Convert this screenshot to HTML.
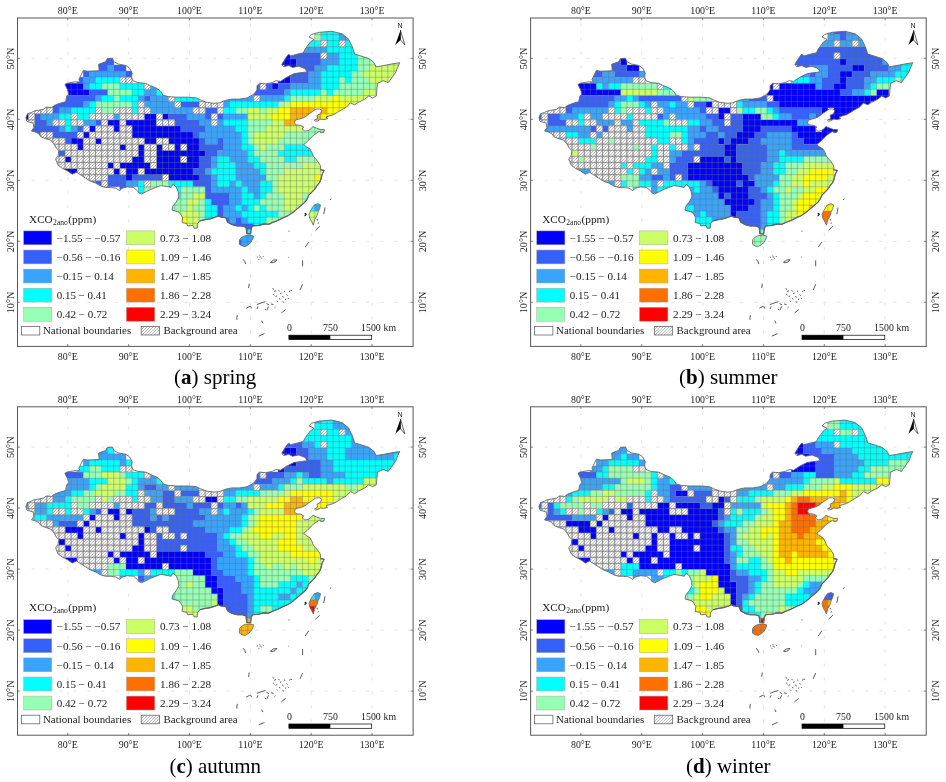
<!DOCTYPE html>
<html lang="en"><head><meta charset="utf-8"><title>XCO2 anomaly seasonal maps</title>
<style>html,body{margin:0;padding:0;background:#fff}body{width:946px;height:782px;overflow:hidden}svg{display:block}text{font-family:'Liberation Serif','DejaVu Serif',serif;fill:#1a1a1a}.cap{fill:#000}</style></head><body>
<svg width="946" height="782" viewBox="0 0 946 782">
<defs>
<pattern id="hatch" width="3" height="3" patternUnits="userSpaceOnUse"><rect width="3" height="3" fill="#fff"/><path d="M-.5 .5L.5 -.5M-.5 3.5L3.5 -.5M2.5 3.5L3.5 2.5" stroke="#3c3c3c" stroke-width=".4"/></pattern>
<clipPath id="china"><polygon points="25.9,117.5 27.5,113.7 31.3,112.5 34.5,110.9 38.9,110.2 43.4,109.3 46.5,107.1 51.6,107.6 54.2,105.5 59.9,103.3 65.6,101.7 66.8,96 68.7,94.1 67.5,89.6 64.9,84.5 66.8,83.3 75.1,81.8 80.2,82 78.9,79.5 81.4,74.4 83.3,70.3 87.1,71.2 99.2,70.8 98.6,64.3 105.5,61.7 107.4,58.5 112.5,58.2 113.8,61.7 118.2,64 125.8,65.5 129.6,68.1 132.2,73.1 131.5,76.9 132.8,80.7 138,82.6 138,82.6 145.6,83.3 150.7,85.8 157,88.4 160.2,90.9 163.4,95.3 168.4,96.6 176.1,97.2 188.7,97.2 196.4,97.9 200.2,99.8 206.5,102.3 214.1,103.3 219.2,102.9 225.5,100.4 231.9,99.1 239.5,99.1 247.1,97.9 252,95.3 255.1,92.8 257,89.6 257,85.8 259.6,83.3 265.3,83.9 272.3,82.6 276.1,80.7 280.5,81.4 286.2,77.6 293.8,73.8 297.6,73.1 307.1,71.9 305.2,68.7 298.9,66.2 292.5,67.4 288.7,65.5 283.7,66.8 281.8,64.3 286.2,57.3 288.7,54.1 290.6,56 297.6,54.1 303.3,52.8 305.2,49 310.3,42.1 314.1,39.5 309,37 311.6,34.4 319.2,32.3 331.9,31.3 342,33.8 348.4,38.9 352.2,46.5 354.7,54.1 361,56 368.7,58.5 373.7,62.3 376.3,66.8 383.9,65.5 391.5,64 399.7,62.7 397.8,66.8 395.9,71.9 391.5,78.2 388.3,82.6 383.2,80.7 377.5,83.3 376.9,89.6 376.3,96 372.5,97.9 368.7,96 364.8,99.1 358.5,102.3 354.7,104.8 350.3,102.9 346.1,107.4 341.9,109.6 337.7,112.2 333.4,114.8 329.2,115.9 326,117 327.6,118.5 323.9,119.6 320.7,119.1 318.1,120.7 315.5,121.2 314.4,120.1 317.6,118.5 317,115.4 320.2,113.8 321.8,110.6 319.7,109 316,109 312.3,111.7 309.1,113.8 305.9,116.4 302.8,118 298.5,119.1 295.4,120.1 294.3,122.8 295.9,124.9 300.7,125.4 303.8,127 302.2,129.1 304.9,131.2 308.1,130.7 311.2,128.6 312.8,126.5 316.5,128.1 320.7,129.6 324.4,129.6 323.9,132.3 320.7,132.8 319.7,131.2 316.5,133.3 313.3,135.5 310.7,138.1 307,141.8 303.8,144.4 305.9,146.6 309.6,148.7 311.8,152.4 313.3,156.1 315.5,158.7 318.1,161.9 320.2,165.1 320.7,168.8 320.3,169.8 324.1,170.4 322.2,174.2 320.9,179.3 319.6,182.5 317.1,185.6 314.5,189.4 312,192 308.8,195.1 306.9,199.6 304.4,202.7 300.6,205.9 296.8,209.1 293,212.3 288.5,215.4 282.8,218 277.8,220.5 272.7,222.4 268.9,224.3 263.9,224.1 258.8,225.4 252.5,226 251.2,228.5 250.6,234 246.7,233.6 246.1,227.3 242.3,226 237.2,226 232.2,224.7 227.7,222.2 225.8,217.8 220.7,217.1 218.2,215.9 215.7,217.1 210.6,218.8 204.9,219.7 199.8,220.9 197.3,224.1 197.3,228.2 194.1,228.2 192.8,225.4 187.8,226 186.5,223.5 182.1,222.6 182.7,217.8 180.8,214.6 178.9,212.1 171.9,210.1 172.9,205.9 176.1,202.1 178.8,197 178.3,192 176.1,186.9 172.9,184.1 171.2,187.5 167.2,186.6 160.8,185.6 155.8,187.5 150.7,189.4 145.6,192 141.8,193.9 139.3,193.2 137.4,190.7 133.6,187.5 127.3,186.9 122.2,188.2 119.7,190.7 115.9,188.2 110.8,187.5 105.7,187.5 101.3,186.3 95.6,183.1 90.5,181.2 85.4,178 81.6,175.5 76.5,172.3 72.1,174.2 67.7,171 62.6,168.5 58.2,165.3 56.9,162.2 55.6,159.2 58.2,155.2 58.8,150.7 56.3,148.2 53.7,143.8 50.5,140 45.5,138.7 41,136.8 38.5,133.6 34.7,131.7 31.5,131.1 33.9,127.6 33.9,127.7 33.2,123.2 26.9,121.3"/></clipPath>
<clipPath id="tw"><polygon points="314.2,205 317.9,203.6 320.5,205 319.6,208.8 318.2,211.6 317,215.7 314.7,219.7 313.3,225.2 311.9,222 309.6,218 309,214.5 310.4,211.1 312.4,207.6"/></clipPath>
<clipPath id="hn"><polygon points="239.4,239.7 242.3,236.9 245.7,235.4 249.7,235.1 253.5,236 253.2,238 250.9,242.6 248,244.9 245.1,246.6 242.3,246.1 239.4,244.3"/></clipPath>
</defs>
<rect width="946" height="782" fill="#fff"/>
<g transform="translate(0 0)">
<path d="M67.8 18V346.4M128.65 18V346.4M189.5 18V346.4M250.35 18V346.4M311.2 18V346.4M372.05 18V346.4" stroke="#dadada" stroke-width=".8" stroke-dasharray="3.2 10.75" stroke-dashoffset="8.4" fill="none"/>
<path d="M17.5 58.3H413.1M17.5 119.3H413.1M17.5 180.3H413.1M17.5 241.3H413.1M17.5 302.3H413.1" stroke="#dadada" stroke-width=".8" stroke-dasharray="3.2 10.75" stroke-dashoffset="0" fill="none"/>
<g clip-path="url(#china)">
<path d="M284.25 52.78h6.19v6.19h-6.19zM278.16 58.87h18.37v6.19h-18.37zM284.25 64.96h12.28v6.19h-12.28zM284.25 71.05h6.19v6.19h-6.19zM278.16 77.14h12.28v6.19h-12.28zM65.01 83.23h18.37v6.19h-18.37zM272.07 83.23h6.19v6.19h-6.19zM65.01 89.32h24.46v6.19h-24.46zM22.38 113.68h6.19v6.19h-6.19zM144.18 113.68h12.28v6.19h-12.28zM162.45 113.68h6.19v6.19h-6.19zM107.64 119.77h12.28v6.19h-12.28zM125.91 119.77h30.55v6.19h-30.55zM89.37 125.86h6.19v6.19h-6.19zM113.73 125.86h6.19v6.19h-6.19zM132 125.86h48.82v6.19h-48.82zM83.28 131.95h6.19v6.19h-6.19zM132 131.95h61v6.19h-61zM71.1 138.04h12.28v6.19h-12.28zM95.46 138.04h6.19v6.19h-6.19zM144.18 138.04h12.28v6.19h-12.28zM168.54 138.04h30.55v6.19h-30.55zM77.19 144.13h6.19v6.19h-6.19zM119.82 144.13h6.19v6.19h-6.19zM138.09 144.13h6.19v6.19h-6.19zM156.36 144.13h6.19v6.19h-6.19zM174.63 144.13h6.19v6.19h-6.19zM186.81 144.13h12.28v6.19h-12.28zM138.09 150.22h6.19v6.19h-6.19zM156.36 150.22h48.82v6.19h-48.82zM65.01 156.31h6.19v6.19h-6.19zM132 156.31h12.28v6.19h-12.28zM156.36 156.31h24.46v6.19h-24.46zM186.81 156.31h12.28v6.19h-12.28zM107.64 162.4h6.19v6.19h-6.19zM119.82 162.4h30.55v6.19h-30.55zM156.36 162.4h42.73v6.19h-42.73zM65.01 168.49h12.28v6.19h-12.28zM113.73 168.49h6.19v6.19h-6.19zM125.91 168.49h12.28v6.19h-12.28zM144.18 168.49h48.82v6.19h-48.82zM125.91 174.58h6.19v6.19h-6.19zM168.54 174.58h30.55v6.19h-30.55z" fill="#0000fe"/>
<path d="M107.64 52.78h6.19v6.19h-6.19zM290.34 52.78h30.55v6.19h-30.55zM95.46 58.87h18.37v6.19h-18.37zM296.43 58.87h24.46v6.19h-24.46zM95.46 64.96h12.28v6.19h-12.28zM113.73 64.96h12.28v6.19h-12.28zM296.43 64.96h18.37v6.19h-18.37zM83.28 71.05h6.19v6.19h-6.19zM125.91 71.05h6.19v6.19h-6.19zM290.34 71.05h18.37v6.19h-18.37zM77.19 77.14h6.19v6.19h-6.19zM290.34 77.14h18.37v6.19h-18.37zM253.8 83.23h6.19v6.19h-6.19zM265.98 83.23h6.19v6.19h-6.19zM278.16 83.23h12.28v6.19h-12.28zM89.37 89.32h18.37v6.19h-18.37zM253.8 89.32h30.55v6.19h-30.55zM65.01 95.41h30.55v6.19h-30.55zM144.18 95.41h6.19v6.19h-6.19zM52.83 101.5h30.55v6.19h-30.55zM180.72 101.5h18.37v6.19h-18.37zM52.83 107.59h6.19v6.19h-6.19zM205.08 107.59h12.28v6.19h-12.28zM34.56 113.68h6.19v6.19h-6.19zM168.54 113.68h18.37v6.19h-18.37zM205.08 113.68h6.19v6.19h-6.19zM217.26 113.68h6.19v6.19h-6.19zM34.56 119.77h12.28v6.19h-12.28zM95.46 119.77h6.19v6.19h-6.19zM174.63 119.77h24.46v6.19h-24.46zM28.47 125.86h30.55v6.19h-30.55zM77.19 125.86h6.19v6.19h-6.19zM180.72 125.86h24.46v6.19h-24.46zM34.56 131.95h6.19v6.19h-6.19zM52.83 131.95h24.46v6.19h-24.46zM192.9 131.95h6.19v6.19h-6.19zM65.01 138.04h6.19v6.19h-6.19zM198.99 138.04h6.19v6.19h-6.19zM217.26 138.04h6.19v6.19h-6.19zM198.99 144.13h24.46v6.19h-24.46zM58.92 150.22h6.19v6.19h-6.19zM205.08 150.22h12.28v6.19h-12.28zM198.99 156.31h12.28v6.19h-12.28zM198.99 162.4h12.28v6.19h-12.28zM192.9 168.49h12.28v6.19h-12.28zM107.64 174.58h18.37v6.19h-18.37zM132 174.58h30.55v6.19h-30.55zM198.99 174.58h12.28v6.19h-12.28zM95.46 180.67h6.19v6.19h-6.19zM107.64 180.67h18.37v6.19h-18.37zM192.9 180.67h18.37v6.19h-18.37zM119.82 186.76h6.19v6.19h-6.19zM205.08 186.76h6.19v6.19h-6.19zM205.08 192.85h24.46v6.19h-24.46zM211.17 198.94h18.37v6.19h-18.37zM217.26 205.03h6.19v6.19h-6.19zM217.26 211.12h6.19v6.19h-6.19zM217.26 217.21h12.28v6.19h-12.28zM235.53 217.21h6.19v6.19h-6.19zM229.44 223.3h24.46v6.19h-24.46zM241.62 229.39h6.19v6.19h-6.19z" fill="#3560fc"/>
<path d="M339.06 28.42h6.19v6.19h-6.19zM339.06 34.51h12.28v6.19h-12.28zM302.52 46.69h24.46v6.19h-24.46zM326.88 52.78h12.28v6.19h-12.28zM320.79 58.87h18.37v6.19h-18.37zM107.64 64.96h6.19v6.19h-6.19zM314.7 64.96h12.28v6.19h-12.28zM89.37 71.05h36.64v6.19h-36.64zM308.61 71.05h12.28v6.19h-12.28zM83.28 77.14h12.28v6.19h-12.28zM308.61 77.14h12.28v6.19h-12.28zM83.28 83.23h6.19v6.19h-6.19zM150.27 83.23h12.28v6.19h-12.28zM290.34 83.23h30.55v6.19h-30.55zM144.18 89.32h12.28v6.19h-12.28zM284.25 89.32h6.19v6.19h-6.19zM95.46 95.41h6.19v6.19h-6.19zM138.09 95.41h6.19v6.19h-6.19zM150.27 95.41h18.37v6.19h-18.37zM223.35 95.41h30.55v6.19h-30.55zM259.89 95.41h24.46v6.19h-24.46zM83.28 101.5h6.19v6.19h-6.19zM144.18 101.5h30.55v6.19h-30.55zM223.35 101.5h6.19v6.19h-6.19zM58.92 107.59h12.28v6.19h-12.28zM150.27 107.59h42.73v6.19h-42.73zM40.65 113.68h18.37v6.19h-18.37zM113.73 113.68h6.19v6.19h-6.19zM186.81 113.68h18.37v6.19h-18.37zM223.35 113.68h24.46v6.19h-24.46zM46.74 119.77h6.19v6.19h-6.19zM83.28 119.77h12.28v6.19h-12.28zM198.99 119.77h12.28v6.19h-12.28zM217.26 119.77h6.19v6.19h-6.19zM58.92 125.86h6.19v6.19h-6.19zM71.1 125.86h6.19v6.19h-6.19zM205.08 125.86h30.55v6.19h-30.55zM198.99 131.95h42.73v6.19h-42.73zM205.08 138.04h12.28v6.19h-12.28zM223.35 138.04h18.37v6.19h-18.37zM223.35 144.13h18.37v6.19h-18.37zM217.26 150.22h30.55v6.19h-30.55zM211.17 156.31h6.19v6.19h-6.19zM229.44 156.31h18.37v6.19h-18.37zM211.17 162.4h6.19v6.19h-6.19zM235.53 162.4h18.37v6.19h-18.37zM205.08 168.49h6.19v6.19h-6.19zM235.53 168.49h24.46v6.19h-24.46zM211.17 174.58h6.19v6.19h-6.19zM235.53 174.58h30.55v6.19h-30.55zM89.37 180.67h6.19v6.19h-6.19zM125.91 180.67h12.28v6.19h-12.28zM211.17 180.67h6.19v6.19h-6.19zM229.44 180.67h6.19v6.19h-6.19zM241.62 180.67h18.37v6.19h-18.37zM211.17 186.76h30.55v6.19h-30.55zM247.71 186.76h12.28v6.19h-12.28zM229.44 192.85h12.28v6.19h-12.28zM253.8 192.85h6.19v6.19h-6.19zM229.44 198.94h12.28v6.19h-12.28zM223.35 205.03h12.28v6.19h-12.28zM241.62 205.03h6.19v6.19h-6.19zM223.35 211.12h18.37v6.19h-18.37zM229.44 217.21h6.19v6.19h-6.19zM241.62 217.21h6.19v6.19h-6.19z" fill="#38a4fd"/>
<path d="M320.79 28.42h18.37v6.19h-18.37zM320.79 34.51h18.37v6.19h-18.37zM308.61 40.6h12.28v6.19h-12.28zM326.88 40.6h12.28v6.19h-12.28zM345.15 40.6h6.19v6.19h-6.19zM326.88 46.69h30.55v6.19h-30.55zM339.06 52.78h18.37v6.19h-18.37zM339.06 58.87h18.37v6.19h-18.37zM326.88 64.96h30.55v6.19h-30.55zM320.79 71.05h30.55v6.19h-30.55zM95.46 77.14h24.46v6.19h-24.46zM320.79 77.14h18.37v6.19h-18.37zM345.15 77.14h6.19v6.19h-6.19zM89.37 83.23h12.28v6.19h-12.28zM119.82 83.23h24.46v6.19h-24.46zM320.79 83.23h18.37v6.19h-18.37zM132 89.32h12.28v6.19h-12.28zM156.36 89.32h12.28v6.19h-12.28zM290.34 89.32h30.55v6.19h-30.55zM326.88 89.32h6.19v6.19h-6.19zM101.55 95.41h12.28v6.19h-12.28zM119.82 95.41h18.37v6.19h-18.37zM174.63 95.41h24.46v6.19h-24.46zM284.25 95.41h6.19v6.19h-6.19zM89.37 101.5h6.19v6.19h-6.19zM132 101.5h6.19v6.19h-6.19zM229.44 101.5h48.82v6.19h-48.82zM71.1 107.59h24.46v6.19h-24.46zM132 107.59h6.19v6.19h-6.19zM223.35 107.59h12.28v6.19h-12.28zM58.92 113.68h12.28v6.19h-12.28zM77.19 113.68h12.28v6.19h-12.28zM65.01 119.77h6.19v6.19h-6.19zM223.35 119.77h24.46v6.19h-24.46zM65.01 125.86h6.19v6.19h-6.19zM235.53 125.86h12.28v6.19h-12.28zM241.62 131.95h6.19v6.19h-6.19zM241.62 138.04h6.19v6.19h-6.19zM241.62 144.13h12.28v6.19h-12.28zM284.25 144.13h30.55v6.19h-30.55zM247.71 150.22h6.19v6.19h-6.19zM278.16 150.22h36.64v6.19h-36.64zM217.26 156.31h12.28v6.19h-12.28zM247.71 156.31h12.28v6.19h-12.28zM284.25 156.31h12.28v6.19h-12.28zM217.26 162.4h18.37v6.19h-18.37zM253.8 162.4h12.28v6.19h-12.28zM211.17 168.49h24.46v6.19h-24.46zM259.89 168.49h6.19v6.19h-6.19zM217.26 174.58h18.37v6.19h-18.37zM138.09 180.67h6.19v6.19h-6.19zM168.54 180.67h24.46v6.19h-24.46zM217.26 180.67h12.28v6.19h-12.28zM235.53 180.67h6.19v6.19h-6.19zM259.89 180.67h12.28v6.19h-12.28zM138.09 186.76h6.19v6.19h-6.19zM174.63 186.76h6.19v6.19h-6.19zM241.62 186.76h6.19v6.19h-6.19zM259.89 186.76h12.28v6.19h-12.28zM174.63 192.85h6.19v6.19h-6.19zM241.62 192.85h12.28v6.19h-12.28zM259.89 192.85h6.19v6.19h-6.19zM205.08 198.94h6.19v6.19h-6.19zM241.62 198.94h18.37v6.19h-18.37zM205.08 205.03h12.28v6.19h-12.28zM235.53 205.03h6.19v6.19h-6.19zM247.71 205.03h6.19v6.19h-6.19zM259.89 205.03h6.19v6.19h-6.19zM205.08 211.12h12.28v6.19h-12.28zM241.62 211.12h36.64v6.19h-36.64zM205.08 217.21h12.28v6.19h-12.28zM247.71 217.21h18.37v6.19h-18.37zM253.8 223.3h12.28v6.19h-12.28zM247.71 229.39h6.19v6.19h-6.19z" fill="#00ffff"/>
<path d="M314.7 28.42h6.19v6.19h-6.19zM314.7 34.51h6.19v6.19h-6.19zM357.33 52.78h12.28v6.19h-12.28zM357.33 58.87h18.37v6.19h-18.37zM357.33 64.96h12.28v6.19h-12.28zM351.24 71.05h12.28v6.19h-12.28zM339.06 77.14h6.19v6.19h-6.19zM351.24 77.14h18.37v6.19h-18.37zM101.55 83.23h18.37v6.19h-18.37zM339.06 83.23h36.64v6.19h-36.64zM107.64 89.32h24.46v6.19h-24.46zM320.79 89.32h6.19v6.19h-6.19zM332.97 89.32h30.55v6.19h-30.55zM113.73 95.41h6.19v6.19h-6.19zM290.34 95.41h24.46v6.19h-24.46zM95.46 101.5h36.64v6.19h-36.64zM278.16 101.5h6.19v6.19h-6.19zM101.55 107.59h12.28v6.19h-12.28zM235.53 107.59h12.28v6.19h-12.28zM259.89 107.59h6.19v6.19h-6.19zM247.71 119.77h24.46v6.19h-24.46zM247.71 125.86h18.37v6.19h-18.37zM308.61 125.86h18.37v6.19h-18.37zM247.71 131.95h6.19v6.19h-6.19zM284.25 131.95h36.64v6.19h-36.64zM247.71 138.04h6.19v6.19h-6.19zM278.16 138.04h36.64v6.19h-36.64zM253.8 144.13h6.19v6.19h-6.19zM265.98 144.13h18.37v6.19h-18.37zM253.8 150.22h24.46v6.19h-24.46zM259.89 156.31h24.46v6.19h-24.46zM296.43 156.31h24.46v6.19h-24.46zM265.98 162.4h36.64v6.19h-36.64zM265.98 168.49h18.37v6.19h-18.37zM265.98 174.58h12.28v6.19h-12.28zM150.27 180.67h18.37v6.19h-18.37zM272.07 180.67h6.19v6.19h-6.19zM144.18 186.76h6.19v6.19h-6.19zM180.72 186.76h24.46v6.19h-24.46zM272.07 186.76h6.19v6.19h-6.19zM180.72 192.85h12.28v6.19h-12.28zM265.98 192.85h18.37v6.19h-18.37zM302.52 192.85h6.19v6.19h-6.19zM168.54 198.94h18.37v6.19h-18.37zM198.99 198.94h6.19v6.19h-6.19zM259.89 198.94h24.46v6.19h-24.46zM302.52 198.94h6.19v6.19h-6.19zM168.54 205.03h18.37v6.19h-18.37zM192.9 205.03h12.28v6.19h-12.28zM253.8 205.03h6.19v6.19h-6.19zM265.98 205.03h18.37v6.19h-18.37zM296.43 205.03h6.19v6.19h-6.19zM198.99 211.12h6.19v6.19h-6.19zM278.16 211.12h18.37v6.19h-18.37zM198.99 217.21h6.19v6.19h-6.19zM265.98 217.21h18.37v6.19h-18.37z" fill="#96ffb4"/>
<path d="M375.6 58.87h24.46v6.19h-24.46zM369.51 64.96h30.55v6.19h-30.55zM363.42 71.05h30.55v6.19h-30.55zM369.51 77.14h24.46v6.19h-24.46zM375.6 83.23h6.19v6.19h-6.19zM363.42 89.32h12.28v6.19h-12.28zM314.7 95.41h18.37v6.19h-18.37zM339.06 95.41h30.55v6.19h-30.55zM284.25 101.5h6.19v6.19h-6.19zM351.24 101.5h6.19v6.19h-6.19zM247.71 107.59h12.28v6.19h-12.28zM265.98 107.59h12.28v6.19h-12.28zM247.71 113.68h24.46v6.19h-24.46zM272.07 119.77h12.28v6.19h-12.28zM265.98 125.86h36.64v6.19h-36.64zM253.8 131.95h30.55v6.19h-30.55zM253.8 138.04h24.46v6.19h-24.46zM259.89 144.13h6.19v6.19h-6.19zM302.52 162.4h18.37v6.19h-18.37zM284.25 168.49h36.64v6.19h-36.64zM278.16 174.58h36.64v6.19h-36.64zM278.16 180.67h42.73v6.19h-42.73zM150.27 186.76h6.19v6.19h-6.19zM278.16 186.76h36.64v6.19h-36.64zM192.9 192.85h12.28v6.19h-12.28zM284.25 192.85h18.37v6.19h-18.37zM186.81 198.94h12.28v6.19h-12.28zM284.25 198.94h18.37v6.19h-18.37zM186.81 205.03h6.19v6.19h-6.19zM284.25 205.03h12.28v6.19h-12.28zM174.63 211.12h24.46v6.19h-24.46zM186.81 217.21h12.28v6.19h-12.28zM186.81 223.3h12.28v6.19h-12.28z" fill="#ccff66"/>
<path d="M332.97 95.41h6.19v6.19h-6.19zM290.34 101.5h61v6.19h-61zM278.16 107.59h12.28v6.19h-12.28zM326.88 107.59h18.37v6.19h-18.37zM272.07 113.68h18.37v6.19h-18.37zM320.79 113.68h18.37v6.19h-18.37zM314.7 174.58h6.19v6.19h-6.19zM180.72 217.21h6.19v6.19h-6.19z" fill="#ffff00"/>
<path d="M290.34 107.59h24.46v6.19h-24.46zM320.79 107.59h6.19v6.19h-6.19zM290.34 113.68h18.37v6.19h-18.37zM314.7 113.68h6.19v6.19h-6.19zM284.25 119.77h12.28v6.19h-12.28z" fill="#ffb400"/>
<path d="M320.79 40.6h6.19v6.19h-6.19zM339.06 40.6h6.19v6.19h-6.19zM320.79 52.78h6.19v6.19h-6.19zM119.82 77.14h6.19v6.19h-6.19zM125.91 77.14h6.19v6.19h-6.19zM144.18 83.23h6.19v6.19h-6.19zM259.89 83.23h6.19v6.19h-6.19zM168.54 95.41h6.19v6.19h-6.19zM253.8 95.41h6.19v6.19h-6.19zM138.09 101.5h6.19v6.19h-6.19zM174.63 101.5h6.19v6.19h-6.19zM198.99 101.5h6.19v6.19h-6.19zM205.08 101.5h6.19v6.19h-6.19zM211.17 101.5h6.19v6.19h-6.19zM217.26 101.5h6.19v6.19h-6.19zM34.56 107.59h6.19v6.19h-6.19zM40.65 107.59h6.19v6.19h-6.19zM46.74 107.59h6.19v6.19h-6.19zM95.46 107.59h6.19v6.19h-6.19zM113.73 107.59h6.19v6.19h-6.19zM119.82 107.59h6.19v6.19h-6.19zM125.91 107.59h6.19v6.19h-6.19zM138.09 107.59h6.19v6.19h-6.19zM144.18 107.59h6.19v6.19h-6.19zM192.9 107.59h6.19v6.19h-6.19zM198.99 107.59h6.19v6.19h-6.19zM217.26 107.59h6.19v6.19h-6.19zM28.47 113.68h6.19v6.19h-6.19zM71.1 113.68h6.19v6.19h-6.19zM89.37 113.68h6.19v6.19h-6.19zM95.46 113.68h6.19v6.19h-6.19zM101.55 113.68h6.19v6.19h-6.19zM107.64 113.68h6.19v6.19h-6.19zM119.82 113.68h6.19v6.19h-6.19zM125.91 113.68h6.19v6.19h-6.19zM132 113.68h6.19v6.19h-6.19zM138.09 113.68h6.19v6.19h-6.19zM156.36 113.68h6.19v6.19h-6.19zM211.17 113.68h6.19v6.19h-6.19zM28.47 119.77h6.19v6.19h-6.19zM52.83 119.77h6.19v6.19h-6.19zM58.92 119.77h6.19v6.19h-6.19zM71.1 119.77h6.19v6.19h-6.19zM77.19 119.77h6.19v6.19h-6.19zM101.55 119.77h6.19v6.19h-6.19zM119.82 119.77h6.19v6.19h-6.19zM156.36 119.77h6.19v6.19h-6.19zM162.45 119.77h6.19v6.19h-6.19zM168.54 119.77h6.19v6.19h-6.19zM211.17 119.77h6.19v6.19h-6.19zM83.28 125.86h6.19v6.19h-6.19zM95.46 125.86h6.19v6.19h-6.19zM101.55 125.86h6.19v6.19h-6.19zM107.64 125.86h6.19v6.19h-6.19zM119.82 125.86h6.19v6.19h-6.19zM125.91 125.86h6.19v6.19h-6.19zM40.65 131.95h6.19v6.19h-6.19zM46.74 131.95h6.19v6.19h-6.19zM77.19 131.95h6.19v6.19h-6.19zM89.37 131.95h6.19v6.19h-6.19zM95.46 131.95h6.19v6.19h-6.19zM101.55 131.95h6.19v6.19h-6.19zM107.64 131.95h6.19v6.19h-6.19zM113.73 131.95h6.19v6.19h-6.19zM119.82 131.95h6.19v6.19h-6.19zM125.91 131.95h6.19v6.19h-6.19zM46.74 138.04h6.19v6.19h-6.19zM52.83 138.04h6.19v6.19h-6.19zM58.92 138.04h6.19v6.19h-6.19zM83.28 138.04h6.19v6.19h-6.19zM89.37 138.04h6.19v6.19h-6.19zM101.55 138.04h6.19v6.19h-6.19zM107.64 138.04h6.19v6.19h-6.19zM113.73 138.04h6.19v6.19h-6.19zM119.82 138.04h6.19v6.19h-6.19zM125.91 138.04h6.19v6.19h-6.19zM132 138.04h6.19v6.19h-6.19zM138.09 138.04h6.19v6.19h-6.19zM156.36 138.04h6.19v6.19h-6.19zM162.45 138.04h6.19v6.19h-6.19zM52.83 144.13h6.19v6.19h-6.19zM58.92 144.13h6.19v6.19h-6.19zM65.01 144.13h6.19v6.19h-6.19zM71.1 144.13h6.19v6.19h-6.19zM83.28 144.13h6.19v6.19h-6.19zM89.37 144.13h6.19v6.19h-6.19zM95.46 144.13h6.19v6.19h-6.19zM101.55 144.13h6.19v6.19h-6.19zM107.64 144.13h6.19v6.19h-6.19zM113.73 144.13h6.19v6.19h-6.19zM125.91 144.13h6.19v6.19h-6.19zM132 144.13h6.19v6.19h-6.19zM144.18 144.13h6.19v6.19h-6.19zM150.27 144.13h6.19v6.19h-6.19zM162.45 144.13h6.19v6.19h-6.19zM168.54 144.13h6.19v6.19h-6.19zM180.72 144.13h6.19v6.19h-6.19zM65.01 150.22h6.19v6.19h-6.19zM71.1 150.22h6.19v6.19h-6.19zM77.19 150.22h6.19v6.19h-6.19zM83.28 150.22h6.19v6.19h-6.19zM89.37 150.22h6.19v6.19h-6.19zM95.46 150.22h6.19v6.19h-6.19zM101.55 150.22h6.19v6.19h-6.19zM107.64 150.22h6.19v6.19h-6.19zM113.73 150.22h6.19v6.19h-6.19zM119.82 150.22h6.19v6.19h-6.19zM125.91 150.22h6.19v6.19h-6.19zM132 150.22h6.19v6.19h-6.19zM144.18 150.22h6.19v6.19h-6.19zM150.27 150.22h6.19v6.19h-6.19zM52.83 156.31h6.19v6.19h-6.19zM58.92 156.31h6.19v6.19h-6.19zM71.1 156.31h6.19v6.19h-6.19zM77.19 156.31h6.19v6.19h-6.19zM83.28 156.31h6.19v6.19h-6.19zM89.37 156.31h6.19v6.19h-6.19zM95.46 156.31h6.19v6.19h-6.19zM101.55 156.31h6.19v6.19h-6.19zM107.64 156.31h6.19v6.19h-6.19zM113.73 156.31h6.19v6.19h-6.19zM119.82 156.31h6.19v6.19h-6.19zM125.91 156.31h6.19v6.19h-6.19zM144.18 156.31h6.19v6.19h-6.19zM150.27 156.31h6.19v6.19h-6.19zM180.72 156.31h6.19v6.19h-6.19zM58.92 162.4h6.19v6.19h-6.19zM65.01 162.4h6.19v6.19h-6.19zM71.1 162.4h6.19v6.19h-6.19zM77.19 162.4h6.19v6.19h-6.19zM83.28 162.4h6.19v6.19h-6.19zM89.37 162.4h6.19v6.19h-6.19zM95.46 162.4h6.19v6.19h-6.19zM101.55 162.4h6.19v6.19h-6.19zM113.73 162.4h6.19v6.19h-6.19zM150.27 162.4h6.19v6.19h-6.19zM77.19 168.49h6.19v6.19h-6.19zM83.28 168.49h6.19v6.19h-6.19zM89.37 168.49h6.19v6.19h-6.19zM95.46 168.49h6.19v6.19h-6.19zM101.55 168.49h6.19v6.19h-6.19zM107.64 168.49h6.19v6.19h-6.19zM119.82 168.49h6.19v6.19h-6.19zM138.09 168.49h6.19v6.19h-6.19zM77.19 174.58h6.19v6.19h-6.19zM83.28 174.58h6.19v6.19h-6.19zM89.37 174.58h6.19v6.19h-6.19zM95.46 174.58h6.19v6.19h-6.19zM101.55 174.58h6.19v6.19h-6.19zM162.45 174.58h6.19v6.19h-6.19zM101.55 180.67h6.19v6.19h-6.19zM144.18 180.67h6.19v6.19h-6.19z" fill="#fff"/>
<path d="M320.79 40.6h6.19v6.19h-6.19zM339.06 40.6h6.19v6.19h-6.19zM320.79 52.78h6.19v6.19h-6.19zM119.82 77.14h6.19v6.19h-6.19zM125.91 77.14h6.19v6.19h-6.19zM144.18 83.23h6.19v6.19h-6.19zM259.89 83.23h6.19v6.19h-6.19zM168.54 95.41h6.19v6.19h-6.19zM253.8 95.41h6.19v6.19h-6.19zM138.09 101.5h6.19v6.19h-6.19zM174.63 101.5h6.19v6.19h-6.19zM198.99 101.5h6.19v6.19h-6.19zM205.08 101.5h6.19v6.19h-6.19zM211.17 101.5h6.19v6.19h-6.19zM217.26 101.5h6.19v6.19h-6.19zM34.56 107.59h6.19v6.19h-6.19zM40.65 107.59h6.19v6.19h-6.19zM46.74 107.59h6.19v6.19h-6.19zM95.46 107.59h6.19v6.19h-6.19zM113.73 107.59h6.19v6.19h-6.19zM119.82 107.59h6.19v6.19h-6.19zM125.91 107.59h6.19v6.19h-6.19zM138.09 107.59h6.19v6.19h-6.19zM144.18 107.59h6.19v6.19h-6.19zM192.9 107.59h6.19v6.19h-6.19zM198.99 107.59h6.19v6.19h-6.19zM217.26 107.59h6.19v6.19h-6.19zM28.47 113.68h6.19v6.19h-6.19zM71.1 113.68h6.19v6.19h-6.19zM89.37 113.68h6.19v6.19h-6.19zM95.46 113.68h6.19v6.19h-6.19zM101.55 113.68h6.19v6.19h-6.19zM107.64 113.68h6.19v6.19h-6.19zM119.82 113.68h6.19v6.19h-6.19zM125.91 113.68h6.19v6.19h-6.19zM132 113.68h6.19v6.19h-6.19zM138.09 113.68h6.19v6.19h-6.19zM156.36 113.68h6.19v6.19h-6.19zM211.17 113.68h6.19v6.19h-6.19zM28.47 119.77h6.19v6.19h-6.19zM52.83 119.77h6.19v6.19h-6.19zM58.92 119.77h6.19v6.19h-6.19zM71.1 119.77h6.19v6.19h-6.19zM77.19 119.77h6.19v6.19h-6.19zM101.55 119.77h6.19v6.19h-6.19zM119.82 119.77h6.19v6.19h-6.19zM156.36 119.77h6.19v6.19h-6.19zM162.45 119.77h6.19v6.19h-6.19zM168.54 119.77h6.19v6.19h-6.19zM211.17 119.77h6.19v6.19h-6.19zM83.28 125.86h6.19v6.19h-6.19zM95.46 125.86h6.19v6.19h-6.19zM101.55 125.86h6.19v6.19h-6.19zM107.64 125.86h6.19v6.19h-6.19zM119.82 125.86h6.19v6.19h-6.19zM125.91 125.86h6.19v6.19h-6.19zM40.65 131.95h6.19v6.19h-6.19zM46.74 131.95h6.19v6.19h-6.19zM77.19 131.95h6.19v6.19h-6.19zM89.37 131.95h6.19v6.19h-6.19zM95.46 131.95h6.19v6.19h-6.19zM101.55 131.95h6.19v6.19h-6.19zM107.64 131.95h6.19v6.19h-6.19zM113.73 131.95h6.19v6.19h-6.19zM119.82 131.95h6.19v6.19h-6.19zM125.91 131.95h6.19v6.19h-6.19zM46.74 138.04h6.19v6.19h-6.19zM52.83 138.04h6.19v6.19h-6.19zM58.92 138.04h6.19v6.19h-6.19zM83.28 138.04h6.19v6.19h-6.19zM89.37 138.04h6.19v6.19h-6.19zM101.55 138.04h6.19v6.19h-6.19zM107.64 138.04h6.19v6.19h-6.19zM113.73 138.04h6.19v6.19h-6.19zM119.82 138.04h6.19v6.19h-6.19zM125.91 138.04h6.19v6.19h-6.19zM132 138.04h6.19v6.19h-6.19zM138.09 138.04h6.19v6.19h-6.19zM156.36 138.04h6.19v6.19h-6.19zM162.45 138.04h6.19v6.19h-6.19zM52.83 144.13h6.19v6.19h-6.19zM58.92 144.13h6.19v6.19h-6.19zM65.01 144.13h6.19v6.19h-6.19zM71.1 144.13h6.19v6.19h-6.19zM83.28 144.13h6.19v6.19h-6.19zM89.37 144.13h6.19v6.19h-6.19zM95.46 144.13h6.19v6.19h-6.19zM101.55 144.13h6.19v6.19h-6.19zM107.64 144.13h6.19v6.19h-6.19zM113.73 144.13h6.19v6.19h-6.19zM125.91 144.13h6.19v6.19h-6.19zM132 144.13h6.19v6.19h-6.19zM144.18 144.13h6.19v6.19h-6.19zM150.27 144.13h6.19v6.19h-6.19zM162.45 144.13h6.19v6.19h-6.19zM168.54 144.13h6.19v6.19h-6.19zM180.72 144.13h6.19v6.19h-6.19zM65.01 150.22h6.19v6.19h-6.19zM71.1 150.22h6.19v6.19h-6.19zM77.19 150.22h6.19v6.19h-6.19zM83.28 150.22h6.19v6.19h-6.19zM89.37 150.22h6.19v6.19h-6.19zM95.46 150.22h6.19v6.19h-6.19zM101.55 150.22h6.19v6.19h-6.19zM107.64 150.22h6.19v6.19h-6.19zM113.73 150.22h6.19v6.19h-6.19zM119.82 150.22h6.19v6.19h-6.19zM125.91 150.22h6.19v6.19h-6.19zM132 150.22h6.19v6.19h-6.19zM144.18 150.22h6.19v6.19h-6.19zM150.27 150.22h6.19v6.19h-6.19zM52.83 156.31h6.19v6.19h-6.19zM58.92 156.31h6.19v6.19h-6.19zM71.1 156.31h6.19v6.19h-6.19zM77.19 156.31h6.19v6.19h-6.19zM83.28 156.31h6.19v6.19h-6.19zM89.37 156.31h6.19v6.19h-6.19zM95.46 156.31h6.19v6.19h-6.19zM101.55 156.31h6.19v6.19h-6.19zM107.64 156.31h6.19v6.19h-6.19zM113.73 156.31h6.19v6.19h-6.19zM119.82 156.31h6.19v6.19h-6.19zM125.91 156.31h6.19v6.19h-6.19zM144.18 156.31h6.19v6.19h-6.19zM150.27 156.31h6.19v6.19h-6.19zM180.72 156.31h6.19v6.19h-6.19zM58.92 162.4h6.19v6.19h-6.19zM65.01 162.4h6.19v6.19h-6.19zM71.1 162.4h6.19v6.19h-6.19zM77.19 162.4h6.19v6.19h-6.19zM83.28 162.4h6.19v6.19h-6.19zM89.37 162.4h6.19v6.19h-6.19zM95.46 162.4h6.19v6.19h-6.19zM101.55 162.4h6.19v6.19h-6.19zM113.73 162.4h6.19v6.19h-6.19zM150.27 162.4h6.19v6.19h-6.19zM77.19 168.49h6.19v6.19h-6.19zM83.28 168.49h6.19v6.19h-6.19zM89.37 168.49h6.19v6.19h-6.19zM95.46 168.49h6.19v6.19h-6.19zM101.55 168.49h6.19v6.19h-6.19zM107.64 168.49h6.19v6.19h-6.19zM119.82 168.49h6.19v6.19h-6.19zM138.09 168.49h6.19v6.19h-6.19zM77.19 174.58h6.19v6.19h-6.19zM83.28 174.58h6.19v6.19h-6.19zM89.37 174.58h6.19v6.19h-6.19zM95.46 174.58h6.19v6.19h-6.19zM101.55 174.58h6.19v6.19h-6.19zM162.45 174.58h6.19v6.19h-6.19zM101.55 180.67h6.19v6.19h-6.19zM144.18 180.67h6.19v6.19h-6.19z" fill="url(#hatch)" stroke="#8a8a8a" stroke-width=".4"/>
<path d="M314.75 28.47h30.45M314.75 34.56h36.54M308.66 40.65h42.63M302.57 46.74h54.81M107.69 52.83h6.09M284.3 52.83h85.26M95.51 58.92h18.27M278.21 58.92h121.8M95.51 65.01h30.45M278.21 65.01h121.8M83.33 71.1h48.72M284.3 71.1h115.71M77.24 77.19h54.81M278.21 77.19h115.71M65.06 83.28h97.44M253.85 83.28h140.07M65.06 89.37h103.53M253.85 89.37h127.89M65.06 95.46h133.98M223.4 95.46h152.25M52.88 101.55h316.68M34.61 107.64h322.77M22.43 113.73h322.77M22.43 119.82h286.23M314.75 119.82h24.36M28.52 125.91h274.05M308.66 125.91h18.27M28.52 132h298.41M34.61 138.09h286.23M46.79 144.18h267.96M52.88 150.27h261.87M52.88 156.36h267.96M52.88 162.45h267.96M58.97 168.54h261.87M65.06 174.63h255.78M77.24 180.72h243.6M89.42 186.81h231.42M119.87 192.9h6.09M138.14 192.9h18.27M174.68 192.9h140.07M168.59 198.99h140.07M168.59 205.08h140.07M168.59 211.17h133.98M174.68 217.26h121.8M180.77 223.35h103.53M186.86 229.44h12.18M229.49 229.44h36.54M241.67 235.53h12.18M22.43 113.73v6.09M28.52 113.73v18.27M34.61 107.64v30.45M40.7 107.64v30.45M46.79 107.64v36.54M52.88 101.55v48.72M52.88 156.36v6.09M58.97 101.55v66.99M65.06 83.28v91.35M71.15 83.28v91.35M77.24 77.19v103.53M83.33 71.1v109.62M89.42 71.1v115.71M95.51 58.92v127.89M101.6 58.92v127.89M107.69 52.83v133.98M113.78 52.83v133.98M119.87 65.01v127.89M125.96 65.01v127.89M132.05 71.1v115.71M138.14 83.28v109.62M144.23 83.28v109.62M150.32 83.28v109.62M156.41 83.28v109.62M162.5 83.28v103.53M168.59 89.37v97.44M168.59 198.99v12.18M174.68 95.46v121.8M180.77 95.46v127.89M186.86 95.46v133.98M192.95 95.46v133.98M199.04 95.46v133.98M205.13 101.55v121.8M211.22 101.55v121.8M217.31 101.55v121.8M223.4 95.46v127.89M229.49 95.46v133.98M235.58 95.46v133.98M241.67 95.46v140.07M247.76 95.46v140.07M253.85 83.28v152.25M259.94 83.28v146.16M266.03 83.28v146.16M272.12 83.28v140.07M278.21 58.92v6.09M278.21 77.19v146.16M284.3 52.83v170.52M290.39 52.83v164.43M296.48 52.83v164.43M302.57 46.74v73.08M302.57 125.91v85.26M308.66 40.65v79.17M308.66 125.91v79.17M314.75 28.47v91.35M314.75 125.91v66.99M320.84 28.47v91.35M320.84 125.91v12.18M320.84 156.36v30.45M326.93 28.47v91.35M326.93 125.91v6.09M333.02 28.47v91.35M339.11 28.47v91.35M345.2 28.47v85.26M351.29 34.56v73.08M357.38 46.74v60.9M363.47 52.83v48.72M369.56 52.83v48.72M375.65 58.92v36.54M381.74 58.92v30.45M387.83 58.92v24.36M393.92 58.92v24.36M400.01 58.92v12.18" fill="none" stroke="#6e6e6e" stroke-opacity=".85" stroke-width=".48"/>
</g>
<polygon points="25.9,117.5 27.5,113.7 31.3,112.5 34.5,110.9 38.9,110.2 43.4,109.3 46.5,107.1 51.6,107.6 54.2,105.5 59.9,103.3 65.6,101.7 66.8,96 68.7,94.1 67.5,89.6 64.9,84.5 66.8,83.3 75.1,81.8 80.2,82 78.9,79.5 81.4,74.4 83.3,70.3 87.1,71.2 99.2,70.8 98.6,64.3 105.5,61.7 107.4,58.5 112.5,58.2 113.8,61.7 118.2,64 125.8,65.5 129.6,68.1 132.2,73.1 131.5,76.9 132.8,80.7 138,82.6 138,82.6 145.6,83.3 150.7,85.8 157,88.4 160.2,90.9 163.4,95.3 168.4,96.6 176.1,97.2 188.7,97.2 196.4,97.9 200.2,99.8 206.5,102.3 214.1,103.3 219.2,102.9 225.5,100.4 231.9,99.1 239.5,99.1 247.1,97.9 252,95.3 255.1,92.8 257,89.6 257,85.8 259.6,83.3 265.3,83.9 272.3,82.6 276.1,80.7 280.5,81.4 286.2,77.6 293.8,73.8 297.6,73.1 307.1,71.9 305.2,68.7 298.9,66.2 292.5,67.4 288.7,65.5 283.7,66.8 281.8,64.3 286.2,57.3 288.7,54.1 290.6,56 297.6,54.1 303.3,52.8 305.2,49 310.3,42.1 314.1,39.5 309,37 311.6,34.4 319.2,32.3 331.9,31.3 342,33.8 348.4,38.9 352.2,46.5 354.7,54.1 361,56 368.7,58.5 373.7,62.3 376.3,66.8 383.9,65.5 391.5,64 399.7,62.7 397.8,66.8 395.9,71.9 391.5,78.2 388.3,82.6 383.2,80.7 377.5,83.3 376.9,89.6 376.3,96 372.5,97.9 368.7,96 364.8,99.1 358.5,102.3 354.7,104.8 350.3,102.9 346.1,107.4 341.9,109.6 337.7,112.2 333.4,114.8 329.2,115.9 326,117 327.6,118.5 323.9,119.6 320.7,119.1 318.1,120.7 315.5,121.2 314.4,120.1 317.6,118.5 317,115.4 320.2,113.8 321.8,110.6 319.7,109 316,109 312.3,111.7 309.1,113.8 305.9,116.4 302.8,118 298.5,119.1 295.4,120.1 294.3,122.8 295.9,124.9 300.7,125.4 303.8,127 302.2,129.1 304.9,131.2 308.1,130.7 311.2,128.6 312.8,126.5 316.5,128.1 320.7,129.6 324.4,129.6 323.9,132.3 320.7,132.8 319.7,131.2 316.5,133.3 313.3,135.5 310.7,138.1 307,141.8 303.8,144.4 305.9,146.6 309.6,148.7 311.8,152.4 313.3,156.1 315.5,158.7 318.1,161.9 320.2,165.1 320.7,168.8 320.3,169.8 324.1,170.4 322.2,174.2 320.9,179.3 319.6,182.5 317.1,185.6 314.5,189.4 312,192 308.8,195.1 306.9,199.6 304.4,202.7 300.6,205.9 296.8,209.1 293,212.3 288.5,215.4 282.8,218 277.8,220.5 272.7,222.4 268.9,224.3 263.9,224.1 258.8,225.4 252.5,226 251.2,228.5 250.6,234 246.7,233.6 246.1,227.3 242.3,226 237.2,226 232.2,224.7 227.7,222.2 225.8,217.8 220.7,217.1 218.2,215.9 215.7,217.1 210.6,218.8 204.9,219.7 199.8,220.9 197.3,224.1 197.3,228.2 194.1,228.2 192.8,225.4 187.8,226 186.5,223.5 182.1,222.6 182.7,217.8 180.8,214.6 178.9,212.1 171.9,210.1 172.9,205.9 176.1,202.1 178.8,197 178.3,192 176.1,186.9 172.9,184.1 171.2,187.5 167.2,186.6 160.8,185.6 155.8,187.5 150.7,189.4 145.6,192 141.8,193.9 139.3,193.2 137.4,190.7 133.6,187.5 127.3,186.9 122.2,188.2 119.7,190.7 115.9,188.2 110.8,187.5 105.7,187.5 101.3,186.3 95.6,183.1 90.5,181.2 85.4,178 81.6,175.5 76.5,172.3 72.1,174.2 67.7,171 62.6,168.5 58.2,165.3 56.9,162.2 55.6,159.2 58.2,155.2 58.8,150.7 56.3,148.2 53.7,143.8 50.5,140 45.5,138.7 41,136.8 38.5,133.6 34.7,131.7 31.5,131.1 33.9,127.6 33.9,127.7 33.2,123.2 26.9,121.3" fill="none" stroke="#666" stroke-width=".9" stroke-linejoin="round"/>
<polyline points="320.3,169.8 324.1,170.4 322.2,174.2 320.9,179.3 319.6,182.5 317.1,185.6 314.5,189.4 312,192 308.8,195.1 306.9,199.6 304.4,202.7 300.6,205.9 296.8,209.1 293,212.3 288.5,215.4 282.8,218 277.8,220.5 272.7,222.4 268.9,224.3 263.9,224.1 258.8,225.4 252.5,226 251.2,228.5 250.6,234 246.7,233.6 246.1,227.3 242.3,226 237.2,226 232.2,224.7 227.7,222.2 225.8,217.8 220.7,217.1 218.2,215.9 215.7,217.1 210.6,218.8 204.9,219.7 199.8,220.9" fill="none" stroke="#606060" stroke-width="1.1" stroke-linejoin="round"/>
<g clip-path="url(#tw)">
<rect x="308.66" y="198.99" width="6.14" height="6.14" fill="#00ffff"/>
<rect x="314.75" y="198.99" width="6.14" height="6.14" fill="#00ffff"/>
<rect x="302.57" y="205.08" width="6.14" height="6.14" fill="#00ffff"/>
<rect x="308.66" y="205.08" width="6.14" height="6.14" fill="#00ffff"/>
<rect x="314.75" y="205.08" width="6.14" height="6.14" fill="#38a4fd"/>
<rect x="302.57" y="211.17" width="6.14" height="6.14" fill="#ccff66"/>
<rect x="308.66" y="211.17" width="6.14" height="6.14" fill="#ccff66"/>
<rect x="314.75" y="211.17" width="6.14" height="6.14" fill="#ccff66"/>
<rect x="302.57" y="217.26" width="6.14" height="6.14" fill="#ccff66"/>
<rect x="308.66" y="217.26" width="6.14" height="6.14" fill="#ccff66"/>
<rect x="314.75" y="217.26" width="6.14" height="6.14" fill="#ccff66"/>
<rect x="308.66" y="223.35" width="6.14" height="6.14" fill="#ccff66"/>
<path d="M308.66 200v30M314.75 200v30M305 205.08h20M305 211.17h20M305 217.26h20M305 223.35h20" stroke="#6e6e6e" stroke-opacity=".85" stroke-width=".48"/>
</g>
<polygon points="314.2,205 317.9,203.6 320.5,205 319.6,208.8 318.2,211.6 317,215.7 314.7,219.7 313.3,225.2 311.9,222 309.6,218 309,214.5 310.4,211.1 312.4,207.6" fill="none" stroke="#666" stroke-width=".8"/>
<path d="M304.6 213.2l1.6-.2.5 1.4-.9 1.6-1.6.2.6-1.5z" fill="#333"/>
<g clip-path="url(#hn)">
<rect x="237.4" y="233.1" width="20" height="16" fill="#38a4fd"/>
<rect x="237.4" y="240.1" width="3.8" height="10" fill="#3560fc"/>
<path d="M241.67 230v30M247.76 230v30M253.85 230v30M230 235.53h30M230 241.62h30" stroke="#6e6e6e" stroke-opacity=".85" stroke-width=".48"/>
</g>
<polygon points="239.4,239.7 242.3,236.9 245.7,235.4 249.7,235.1 253.5,236 253.2,238 250.9,242.6 248,244.9 245.1,246.6 242.3,246.1 239.4,244.3" fill="none" stroke="#666" stroke-width=".8"/>
<text x="29.1" y="222.6" font-size="11.1" textLength="23.6" lengthAdjust="spacingAndGlyphs">XCO</text><text x="53.1" y="224.6" font-size="7.3" textLength="14.8" lengthAdjust="spacingAndGlyphs">2ano</text><text x="68.3" y="222.6" font-size="11.1" textLength="27.9" lengthAdjust="spacingAndGlyphs">(ppm)</text>
<rect x="23.6" y="230.9" width="28.2" height="13.9" fill="#0000fe" stroke="#b0a8a0" stroke-width=".5"/>
<text x="56.7" y="241.7" font-size="10.4" lengthAdjust="spacingAndGlyphs" textLength="63.8">−1.55 − −0.57</text>
<rect x="23.6" y="250" width="28.2" height="13.9" fill="#3560fc" stroke="#b0a8a0" stroke-width=".5"/>
<text x="56.7" y="260.8" font-size="10.4" lengthAdjust="spacingAndGlyphs" textLength="63.8">−0.56 − −0.16</text>
<rect x="23.6" y="269.1" width="28.2" height="13.9" fill="#38a4fd" stroke="#b0a8a0" stroke-width=".5"/>
<text x="56.7" y="279.9" font-size="10.4" lengthAdjust="spacingAndGlyphs" textLength="57.1">−0.15 − 0.14</text>
<rect x="23.6" y="288.2" width="28.2" height="13.9" fill="#00ffff" stroke="#b0a8a0" stroke-width=".5"/>
<text x="56.7" y="299" font-size="10.4" lengthAdjust="spacingAndGlyphs" textLength="50.1">0.15 − 0.41</text>
<rect x="23.6" y="307.3" width="28.2" height="13.9" fill="#96ffb4" stroke="#b0a8a0" stroke-width=".5"/>
<text x="56.7" y="318.1" font-size="10.4" lengthAdjust="spacingAndGlyphs" textLength="50.6">0.42 − 0.72</text>
<rect x="126.4" y="230.9" width="28.4" height="13.9" fill="#ccff66" stroke="#b0a8a0" stroke-width=".5"/>
<text x="160" y="241.7" font-size="10.4" lengthAdjust="spacingAndGlyphs" textLength="51.1">0.73 − 1.08</text>
<rect x="126.4" y="250" width="28.4" height="13.9" fill="#ffff00" stroke="#b0a8a0" stroke-width=".5"/>
<text x="160" y="260.8" font-size="10.4" lengthAdjust="spacingAndGlyphs" textLength="51.1">1.09 − 1.46</text>
<rect x="126.4" y="269.1" width="28.4" height="13.9" fill="#ffb400" stroke="#b0a8a0" stroke-width=".5"/>
<text x="160" y="279.9" font-size="10.4" lengthAdjust="spacingAndGlyphs" textLength="51.1">1.47 − 1.85</text>
<rect x="126.4" y="288.2" width="28.4" height="13.9" fill="#ff6f00" stroke="#b0a8a0" stroke-width=".5"/>
<text x="160" y="299" font-size="10.4" lengthAdjust="spacingAndGlyphs" textLength="51.1">1.86 − 2.28</text>
<rect x="126.4" y="307.3" width="28.4" height="13.9" fill="#ff0000" stroke="#b0a8a0" stroke-width=".5"/>
<text x="160" y="318.1" font-size="10.4" lengthAdjust="spacingAndGlyphs" textLength="51.1">2.29 − 3.24</text>
<rect x="21.4" y="326.4" width="18.4" height="8.6" fill="#fff" stroke="#555" stroke-width=".7"/>
<text x="42.9" y="333.9" font-size="10.4" lengthAdjust="spacingAndGlyphs" textLength="88.3">National boundaries</text>
<rect x="141.2" y="326.4" width="18.4" height="8.6" fill="url(#hatch)" stroke="#555" stroke-width=".7"/>
<text x="163.5" y="333.9" font-size="10.4" lengthAdjust="spacingAndGlyphs" textLength="74.1">Background area</text>
<rect x="288.9" y="335.2" width="82.8" height="4.3" fill="#fff" stroke="#000" stroke-width=".7"/>
<rect x="288.9" y="335.2" width="41.4" height="4.3" fill="#000"/>
<text x="287" y="331.2" font-size="9.8">0</text>
<text x="323" y="331.2" font-size="9.8" textLength="14.8">750</text>
<text x="360.9" y="331.2" font-size="9.8" textLength="35.1">1500 km</text>
<text x="400" y="27.8" font-size="6.4" fill="#000" style="fill:#000;font-family:'Liberation Sans','DejaVu Sans',sans-serif" text-anchor="middle">N</text>
<path d="M400.5 30.3L395.3 44.9L400.5 40z" fill="#000"/>
<path d="M400.5 30.3L404.8 44.9L400.5 40z" fill="none" stroke="#000" stroke-width=".6"/>
<path d="M243.1 259.3q2 2 2.6 4.8M249.2 283.7l-.6 4.4M237.3 315q-.6 2.4-.4 4.8M258.8 336.1l5.7-2.5M281.4 313l4.3-3.4M300.1 290l2.5-5.7M302.6 260.3v6.1M305.2 247.2l3.5-5.2M315.4 230.5l4.4-4.2M323.7 214.2l1.3-6.7M329.8 199.8l1.5-1M288.4 231.1h1.1M305.3 213.4l.9 1.4M317 219l.6 1.6M318.5 222.5l-.6 1.3M256.8 257.6l1.1-.9M259.3 255.9l1.3.5M261 258.6l.9-.7M262.8 256l.7.9M258.4 259.5l.9.2M260 257.3l.5.6M270.4 262.3l3.2-2.2 3.2-.4-1.8 2.2-3 .9zM288.3 257.2l.6.5M272.5 288.5l1.5 1M274 291.5l2-.8M273 294l1.4 1.2M275.5 296.5l1.6-.6M278.5 290.2l1 1.2M280 293.5l1.5-.4M282.5 296l.8 1.4M284 291l1.2.8M286.5 294.5l1 1.2M289 291.5l1.5-.8M291 289.8l.8 1.3M279 298.6l1.4.6M285 299.5l1.2-.5M276.8 300.8l1 1M282.5 301.8l1.3.4M287.8 298l.9.9M256.8 304.6l4.2-1.6 4.4-1.3M266.5 303.5l2.5 1.4M271 304l2.5.6M246.2 308.3l3.6-1.9M250.5 306l1 2.4M258 306.5l-1 2.5M268.5 306.5l-1.5 3.5M275.5 307l-1 .8M261.7 320.7l1.2 2.6M265 309l1 1.4" fill="none" stroke="#222" stroke-width=".75"/>
<rect x="17.5" y="18" width="395.6" height="328.4" fill="none" stroke="#585858" stroke-width="1"/>
<path d="M67.8 18v2.2M67.8 346.4v-2.2M128.65 18v2.2M128.65 346.4v-2.2M189.5 18v2.2M189.5 346.4v-2.2M250.35 18v2.2M250.35 346.4v-2.2M311.2 18v2.2M311.2 346.4v-2.2M372.05 18v2.2M372.05 346.4v-2.2M17.5 58.3h2.2M413.1 58.3h-2.2M17.5 119.3h2.2M413.1 119.3h-2.2M17.5 180.3h2.2M413.1 180.3h-2.2M17.5 241.3h2.2M413.1 241.3h-2.2M17.5 302.3h2.2M413.1 302.3h-2.2" stroke="#666" stroke-width=".8" fill="none"/>
<text x="67.8" y="13.9" font-size="9.9" text-anchor="middle">80°E</text>
<text x="67.8" y="359.7" font-size="9.9" text-anchor="middle">80°E</text>
<text x="128.65" y="13.9" font-size="9.9" text-anchor="middle">90°E</text>
<text x="128.65" y="359.7" font-size="9.9" text-anchor="middle">90°E</text>
<text x="189.5" y="13.9" font-size="9.9" text-anchor="middle">100°E</text>
<text x="189.5" y="359.7" font-size="9.9" text-anchor="middle">100°E</text>
<text x="250.35" y="13.9" font-size="9.9" text-anchor="middle">110°E</text>
<text x="250.35" y="359.7" font-size="9.9" text-anchor="middle">110°E</text>
<text x="311.2" y="13.9" font-size="9.9" text-anchor="middle">120°E</text>
<text x="311.2" y="359.7" font-size="9.9" text-anchor="middle">120°E</text>
<text x="372.05" y="13.9" font-size="9.9" text-anchor="middle">130°E</text>
<text x="372.05" y="359.7" font-size="9.9" text-anchor="middle">130°E</text>
<text transform="translate(13.6 58.5) rotate(-90)" font-size="10.1" text-anchor="middle">50°N</text>
<text transform="translate(425.7 58.5) rotate(-90)" font-size="10.1" text-anchor="middle">50°N</text>
<text transform="translate(13.6 119.5) rotate(-90)" font-size="10.1" text-anchor="middle">40°N</text>
<text transform="translate(425.7 119.5) rotate(-90)" font-size="10.1" text-anchor="middle">40°N</text>
<text transform="translate(13.6 180.5) rotate(-90)" font-size="10.1" text-anchor="middle">30°N</text>
<text transform="translate(425.7 180.5) rotate(-90)" font-size="10.1" text-anchor="middle">30°N</text>
<text transform="translate(13.6 241.5) rotate(-90)" font-size="10.1" text-anchor="middle">20°N</text>
<text transform="translate(425.7 241.5) rotate(-90)" font-size="10.1" text-anchor="middle">20°N</text>
<text transform="translate(13.6 302.5) rotate(-90)" font-size="10.1" text-anchor="middle">10°N</text>
<text transform="translate(425.7 302.5) rotate(-90)" font-size="10.1" text-anchor="middle">10°N</text>
<text class="cap" font-size="21" x="215.2" y="384.2" text-anchor="middle">(<tspan font-weight="bold">a</tspan>) spring</text>
</g>
<g transform="translate(513.1 0)">
<path d="M67.8 18V346.4M128.65 18V346.4M189.5 18V346.4M250.35 18V346.4M311.2 18V346.4M372.05 18V346.4" stroke="#dadada" stroke-width=".8" stroke-dasharray="3.2 10.75" stroke-dashoffset="8.4" fill="none"/>
<path d="M17.5 58.3H413.1M17.5 119.3H413.1M17.5 180.3H413.1M17.5 241.3H413.1M17.5 302.3H413.1" stroke="#dadada" stroke-width=".8" stroke-dasharray="3.2 10.75" stroke-dashoffset="0" fill="none"/>
<g clip-path="url(#china)">
<path d="M107.64 52.78h6.19v6.19h-6.19zM107.64 58.87h6.19v6.19h-6.19zM326.88 58.87h6.19v6.19h-6.19zM113.73 64.96h12.28v6.19h-12.28zM339.06 64.96h12.28v6.19h-12.28zM326.88 71.05h12.28v6.19h-12.28zM326.88 77.14h6.19v6.19h-6.19zM65.01 83.23h18.37v6.19h-18.37zM253.8 83.23h6.19v6.19h-6.19zM265.98 83.23h36.64v6.19h-36.64zM320.79 83.23h12.28v6.19h-12.28zM65.01 89.32h42.73v6.19h-42.73zM253.8 89.32h73.18v6.19h-73.18zM363.42 89.32h12.28v6.19h-12.28zM259.89 95.41h115.81v6.19h-115.81zM192.9 101.5h6.19v6.19h-6.19zM265.98 101.5h91.45v6.19h-91.45zM205.08 107.59h12.28v6.19h-12.28zM308.61 107.59h6.19v6.19h-6.19zM320.79 107.59h24.46v6.19h-24.46zM205.08 113.68h6.19v6.19h-6.19zM229.44 113.68h18.37v6.19h-18.37zM314.7 113.68h24.46v6.19h-24.46zM229.44 119.77h54.91v6.19h-54.91zM229.44 125.86h18.37v6.19h-18.37zM278.16 125.86h24.46v6.19h-24.46zM308.61 125.86h18.37v6.19h-18.37zM223.35 131.95h18.37v6.19h-18.37zM284.25 131.95h36.64v6.19h-36.64zM205.08 138.04h6.19v6.19h-6.19zM217.26 138.04h18.37v6.19h-18.37zM290.34 138.04h24.46v6.19h-24.46zM211.17 144.13h12.28v6.19h-12.28zM211.17 150.22h12.28v6.19h-12.28zM186.81 156.31h24.46v6.19h-24.46zM217.26 156.31h6.19v6.19h-6.19zM174.63 162.4h54.91v6.19h-54.91zM174.63 168.49h54.91v6.19h-54.91zM174.63 174.58h61v6.19h-61zM198.99 180.67h24.46v6.19h-24.46zM229.44 180.67h12.28v6.19h-12.28zM205.08 186.76h30.55v6.19h-30.55zM205.08 192.85h6.19v6.19h-6.19zM217.26 192.85h18.37v6.19h-18.37zM211.17 198.94h30.55v6.19h-30.55zM217.26 205.03h18.37v6.19h-18.37zM217.26 211.12h6.19v6.19h-6.19zM217.26 217.21h6.19v6.19h-6.19z" fill="#0000fe"/>
<path d="M320.79 28.42h12.28v6.19h-12.28zM326.88 34.51h6.19v6.19h-6.19zM302.52 46.69h54.91v6.19h-54.91zM284.25 52.78h36.64v6.19h-36.64zM326.88 52.78h42.73v6.19h-42.73zM95.46 58.87h12.28v6.19h-12.28zM278.16 58.87h48.82v6.19h-48.82zM332.97 58.87h36.64v6.19h-36.64zM95.46 64.96h18.37v6.19h-18.37zM284.25 64.96h12.28v6.19h-12.28zM314.7 64.96h24.46v6.19h-24.46zM351.24 64.96h24.46v6.19h-24.46zM77.19 71.05h12.28v6.19h-12.28zM101.55 71.05h24.46v6.19h-24.46zM284.25 71.05h6.19v6.19h-6.19zM296.43 71.05h6.19v6.19h-6.19zM314.7 71.05h12.28v6.19h-12.28zM339.06 71.05h18.37v6.19h-18.37zM308.61 77.14h18.37v6.19h-18.37zM332.97 77.14h18.37v6.19h-18.37zM308.61 83.23h12.28v6.19h-12.28zM332.97 83.23h18.37v6.19h-18.37zM326.88 89.32h12.28v6.19h-12.28zM65.01 95.41h36.64v6.19h-36.64zM125.91 95.41h42.73v6.19h-42.73zM235.53 95.41h18.37v6.19h-18.37zM52.83 101.5h42.73v6.19h-42.73zM180.72 101.5h12.28v6.19h-12.28zM253.8 101.5h12.28v6.19h-12.28zM52.83 107.59h6.19v6.19h-6.19zM186.81 107.59h6.19v6.19h-6.19zM265.98 107.59h42.73v6.19h-42.73zM22.38 113.68h6.19v6.19h-6.19zM34.56 113.68h12.28v6.19h-12.28zM144.18 113.68h6.19v6.19h-6.19zM192.9 113.68h12.28v6.19h-12.28zM217.26 113.68h12.28v6.19h-12.28zM278.16 113.68h18.37v6.19h-18.37zM302.52 113.68h6.19v6.19h-6.19zM34.56 119.77h18.37v6.19h-18.37zM198.99 119.77h12.28v6.19h-12.28zM217.26 119.77h12.28v6.19h-12.28zM77.19 125.86h6.19v6.19h-6.19zM89.37 125.86h6.19v6.19h-6.19zM186.81 125.86h6.19v6.19h-6.19zM205.08 125.86h24.46v6.19h-24.46zM247.71 125.86h30.55v6.19h-30.55zM192.9 131.95h12.28v6.19h-12.28zM211.17 131.95h12.28v6.19h-12.28zM241.62 131.95h12.28v6.19h-12.28zM278.16 131.95h6.19v6.19h-6.19zM180.72 138.04h24.46v6.19h-24.46zM211.17 138.04h6.19v6.19h-6.19zM235.53 138.04h12.28v6.19h-12.28zM278.16 138.04h12.28v6.19h-12.28zM186.81 144.13h24.46v6.19h-24.46zM223.35 144.13h30.55v6.19h-30.55zM278.16 144.13h36.64v6.19h-36.64zM168.54 150.22h42.73v6.19h-42.73zM223.35 150.22h30.55v6.19h-30.55zM162.45 156.31h18.37v6.19h-18.37zM211.17 156.31h6.19v6.19h-6.19zM223.35 156.31h30.55v6.19h-30.55zM156.36 162.4h18.37v6.19h-18.37zM229.44 162.4h18.37v6.19h-18.37zM156.36 168.49h18.37v6.19h-18.37zM229.44 168.49h18.37v6.19h-18.37zM138.09 174.58h12.28v6.19h-12.28zM156.36 174.58h6.19v6.19h-6.19zM168.54 174.58h6.19v6.19h-6.19zM235.53 174.58h6.19v6.19h-6.19zM192.9 180.67h6.19v6.19h-6.19zM223.35 180.67h6.19v6.19h-6.19zM198.99 186.76h6.19v6.19h-6.19zM235.53 186.76h12.28v6.19h-12.28zM211.17 192.85h6.19v6.19h-6.19zM235.53 192.85h18.37v6.19h-18.37zM241.62 198.94h6.19v6.19h-6.19zM235.53 205.03h12.28v6.19h-12.28zM223.35 211.12h24.46v6.19h-24.46zM223.35 217.21h24.46v6.19h-24.46zM229.44 223.3h18.37v6.19h-18.37z" fill="#3560fc"/>
<path d="M314.7 28.42h6.19v6.19h-6.19zM332.97 28.42h12.28v6.19h-12.28zM314.7 34.51h12.28v6.19h-12.28zM332.97 34.51h18.37v6.19h-18.37zM308.61 40.6h12.28v6.19h-12.28zM326.88 40.6h12.28v6.19h-12.28zM345.15 40.6h6.19v6.19h-6.19zM369.51 58.87h18.37v6.19h-18.37zM296.43 64.96h18.37v6.19h-18.37zM375.6 64.96h12.28v6.19h-12.28zM89.37 71.05h12.28v6.19h-12.28zM125.91 71.05h6.19v6.19h-6.19zM290.34 71.05h6.19v6.19h-6.19zM302.52 71.05h12.28v6.19h-12.28zM357.33 71.05h24.46v6.19h-24.46zM77.19 77.14h42.73v6.19h-42.73zM296.43 77.14h12.28v6.19h-12.28zM351.24 77.14h12.28v6.19h-12.28zM89.37 83.23h6.19v6.19h-6.19zM302.52 83.23h6.19v6.19h-6.19zM351.24 83.23h6.19v6.19h-6.19zM339.06 89.32h12.28v6.19h-12.28zM101.55 95.41h12.28v6.19h-12.28zM119.82 95.41h6.19v6.19h-6.19zM223.35 95.41h12.28v6.19h-12.28zM95.46 101.5h6.19v6.19h-6.19zM132 101.5h6.19v6.19h-6.19zM144.18 101.5h12.28v6.19h-12.28zM162.45 101.5h12.28v6.19h-12.28zM229.44 101.5h24.46v6.19h-24.46zM58.92 107.59h36.64v6.19h-36.64zM150.27 107.59h36.64v6.19h-36.64zM259.89 107.59h6.19v6.19h-6.19zM46.74 113.68h18.37v6.19h-18.37zM77.19 113.68h12.28v6.19h-12.28zM150.27 113.68h6.19v6.19h-6.19zM162.45 113.68h30.55v6.19h-30.55zM265.98 113.68h12.28v6.19h-12.28zM296.43 113.68h6.19v6.19h-6.19zM83.28 119.77h18.37v6.19h-18.37zM107.64 119.77h12.28v6.19h-12.28zM186.81 119.77h12.28v6.19h-12.28zM284.25 119.77h12.28v6.19h-12.28zM28.47 125.86h48.82v6.19h-48.82zM113.73 125.86h6.19v6.19h-6.19zM174.63 125.86h12.28v6.19h-12.28zM192.9 125.86h12.28v6.19h-12.28zM65.01 131.95h12.28v6.19h-12.28zM83.28 131.95h6.19v6.19h-6.19zM174.63 131.95h18.37v6.19h-18.37zM205.08 131.95h6.19v6.19h-6.19zM253.8 131.95h24.46v6.19h-24.46zM174.63 138.04h6.19v6.19h-6.19zM247.71 138.04h30.55v6.19h-30.55zM174.63 144.13h6.19v6.19h-6.19zM253.8 144.13h24.46v6.19h-24.46zM156.36 150.22h12.28v6.19h-12.28zM253.8 150.22h12.28v6.19h-12.28zM272.07 150.22h42.73v6.19h-42.73zM156.36 156.31h6.19v6.19h-6.19zM253.8 156.31h12.28v6.19h-12.28zM138.09 162.4h12.28v6.19h-12.28zM247.71 162.4h12.28v6.19h-12.28zM65.01 168.49h12.28v6.19h-12.28zM132 168.49h6.19v6.19h-6.19zM144.18 168.49h12.28v6.19h-12.28zM247.71 168.49h12.28v6.19h-12.28zM125.91 174.58h12.28v6.19h-12.28zM150.27 174.58h6.19v6.19h-6.19zM241.62 174.58h24.46v6.19h-24.46zM95.46 180.67h6.19v6.19h-6.19zM138.09 180.67h6.19v6.19h-6.19zM186.81 180.67h6.19v6.19h-6.19zM241.62 180.67h18.37v6.19h-18.37zM138.09 186.76h6.19v6.19h-6.19zM174.63 186.76h6.19v6.19h-6.19zM186.81 186.76h12.28v6.19h-12.28zM247.71 186.76h6.19v6.19h-6.19zM174.63 192.85h30.55v6.19h-30.55zM253.8 192.85h6.19v6.19h-6.19zM168.54 198.94h42.73v6.19h-42.73zM247.71 198.94h12.28v6.19h-12.28zM180.72 205.03h36.64v6.19h-36.64zM247.71 205.03h12.28v6.19h-12.28zM174.63 211.12h12.28v6.19h-12.28zM192.9 211.12h24.46v6.19h-24.46zM247.71 211.12h6.19v6.19h-6.19zM198.99 217.21h18.37v6.19h-18.37zM247.71 217.21h6.19v6.19h-6.19zM247.71 223.3h6.19v6.19h-6.19zM241.62 229.39h6.19v6.19h-6.19z" fill="#38a4fd"/>
<path d="M387.78 58.87h12.28v6.19h-12.28zM387.78 64.96h12.28v6.19h-12.28zM381.69 71.05h18.37v6.19h-18.37zM278.16 77.14h18.37v6.19h-18.37zM363.42 77.14h18.37v6.19h-18.37zM387.78 77.14h12.28v6.19h-12.28zM83.28 83.23h6.19v6.19h-6.19zM95.46 83.23h12.28v6.19h-12.28zM150.27 83.23h12.28v6.19h-12.28zM357.33 83.23h6.19v6.19h-6.19zM351.24 89.32h6.19v6.19h-6.19zM113.73 95.41h6.19v6.19h-6.19zM101.55 101.5h6.19v6.19h-6.19zM125.91 101.5h6.19v6.19h-6.19zM156.36 101.5h6.19v6.19h-6.19zM223.35 101.5h6.19v6.19h-6.19zM101.55 107.59h6.19v6.19h-6.19zM132 107.59h6.19v6.19h-6.19zM229.44 107.59h12.28v6.19h-12.28zM253.8 107.59h6.19v6.19h-6.19zM65.01 113.68h6.19v6.19h-6.19zM113.73 113.68h6.19v6.19h-6.19zM259.89 113.68h6.19v6.19h-6.19zM65.01 119.77h6.19v6.19h-6.19zM125.91 119.77h24.46v6.19h-24.46zM174.63 119.77h12.28v6.19h-12.28zM132 125.86h42.73v6.19h-42.73zM52.83 131.95h12.28v6.19h-12.28zM132 131.95h24.46v6.19h-24.46zM168.54 131.95h6.19v6.19h-6.19zM65.01 138.04h18.37v6.19h-18.37zM144.18 138.04h12.28v6.19h-12.28zM168.54 138.04h6.19v6.19h-6.19zM138.09 144.13h6.19v6.19h-6.19zM156.36 144.13h6.19v6.19h-6.19zM138.09 150.22h6.19v6.19h-6.19zM265.98 150.22h6.19v6.19h-6.19zM132 156.31h12.28v6.19h-12.28zM265.98 156.31h24.46v6.19h-24.46zM107.64 162.4h6.19v6.19h-6.19zM119.82 162.4h18.37v6.19h-18.37zM259.89 162.4h12.28v6.19h-12.28zM113.73 168.49h6.19v6.19h-6.19zM125.91 168.49h6.19v6.19h-6.19zM259.89 168.49h12.28v6.19h-12.28zM89.37 180.67h6.19v6.19h-6.19zM107.64 180.67h6.19v6.19h-6.19zM125.91 180.67h12.28v6.19h-12.28zM150.27 180.67h36.64v6.19h-36.64zM259.89 180.67h6.19v6.19h-6.19zM119.82 186.76h6.19v6.19h-6.19zM144.18 186.76h12.28v6.19h-12.28zM180.72 186.76h6.19v6.19h-6.19zM253.8 186.76h6.19v6.19h-6.19zM259.89 192.85h6.19v6.19h-6.19zM259.89 198.94h6.19v6.19h-6.19zM168.54 205.03h12.28v6.19h-12.28zM259.89 205.03h6.19v6.19h-6.19zM186.81 211.12h6.19v6.19h-6.19zM253.8 211.12h12.28v6.19h-12.28zM180.72 217.21h18.37v6.19h-18.37zM253.8 217.21h12.28v6.19h-12.28zM186.81 223.3h12.28v6.19h-12.28zM253.8 223.3h12.28v6.19h-12.28z" fill="#00ffff"/>
<path d="M381.69 77.14h6.19v6.19h-6.19zM107.64 83.23h36.64v6.19h-36.64zM363.42 83.23h18.37v6.19h-18.37zM144.18 89.32h18.37v6.19h-18.37zM357.33 89.32h6.19v6.19h-6.19zM180.72 95.41h18.37v6.19h-18.37zM107.64 101.5h18.37v6.19h-18.37zM107.64 107.59h6.19v6.19h-6.19zM223.35 107.59h6.19v6.19h-6.19zM241.62 107.59h12.28v6.19h-12.28zM247.71 113.68h12.28v6.19h-12.28zM150.27 119.77h6.19v6.19h-6.19zM156.36 131.95h12.28v6.19h-12.28zM95.46 138.04h6.19v6.19h-6.19zM77.19 144.13h6.19v6.19h-6.19zM119.82 144.13h6.19v6.19h-6.19zM65.01 156.31h6.19v6.19h-6.19zM290.34 156.31h30.55v6.19h-30.55zM272.07 162.4h18.37v6.19h-18.37zM272.07 168.49h12.28v6.19h-12.28zM107.64 174.58h18.37v6.19h-18.37zM265.98 174.58h12.28v6.19h-12.28zM113.73 180.67h12.28v6.19h-12.28zM265.98 180.67h12.28v6.19h-12.28zM259.89 186.76h12.28v6.19h-12.28zM278.16 186.76h12.28v6.19h-12.28zM265.98 192.85h18.37v6.19h-18.37zM265.98 198.94h12.28v6.19h-12.28zM265.98 205.03h12.28v6.19h-12.28zM265.98 211.12h6.19v6.19h-6.19zM265.98 217.21h6.19v6.19h-6.19zM247.71 229.39h6.19v6.19h-6.19z" fill="#96ffb4"/>
<path d="M107.64 89.32h36.64v6.19h-36.64zM174.63 95.41h6.19v6.19h-6.19zM58.92 150.22h6.19v6.19h-6.19zM290.34 162.4h30.55v6.19h-30.55zM284.25 168.49h12.28v6.19h-12.28zM278.16 174.58h12.28v6.19h-12.28zM314.7 174.58h6.19v6.19h-6.19zM278.16 180.67h12.28v6.19h-12.28zM296.43 180.67h24.46v6.19h-24.46zM272.07 186.76h6.19v6.19h-6.19zM290.34 186.76h12.28v6.19h-12.28zM284.25 192.85h6.19v6.19h-6.19zM278.16 198.94h6.19v6.19h-6.19zM302.52 198.94h6.19v6.19h-6.19zM278.16 205.03h6.19v6.19h-6.19zM272.07 211.12h12.28v6.19h-12.28zM272.07 217.21h12.28v6.19h-12.28z" fill="#ccff66"/>
<path d="M296.43 168.49h24.46v6.19h-24.46zM290.34 174.58h24.46v6.19h-24.46zM290.34 180.67h6.19v6.19h-6.19zM302.52 186.76h12.28v6.19h-12.28zM290.34 192.85h18.37v6.19h-18.37zM284.25 198.94h18.37v6.19h-18.37zM284.25 205.03h12.28v6.19h-12.28zM284.25 211.12h12.28v6.19h-12.28z" fill="#ffff00"/>
<path d="M296.43 205.03h6.19v6.19h-6.19z" fill="#ffb400"/>
<path d="M320.79 40.6h6.19v6.19h-6.19zM339.06 40.6h6.19v6.19h-6.19zM320.79 52.78h6.19v6.19h-6.19zM119.82 77.14h6.19v6.19h-6.19zM125.91 77.14h6.19v6.19h-6.19zM144.18 83.23h6.19v6.19h-6.19zM259.89 83.23h6.19v6.19h-6.19zM168.54 95.41h6.19v6.19h-6.19zM253.8 95.41h6.19v6.19h-6.19zM138.09 101.5h6.19v6.19h-6.19zM174.63 101.5h6.19v6.19h-6.19zM198.99 101.5h6.19v6.19h-6.19zM205.08 101.5h6.19v6.19h-6.19zM211.17 101.5h6.19v6.19h-6.19zM217.26 101.5h6.19v6.19h-6.19zM34.56 107.59h6.19v6.19h-6.19zM40.65 107.59h6.19v6.19h-6.19zM46.74 107.59h6.19v6.19h-6.19zM95.46 107.59h6.19v6.19h-6.19zM113.73 107.59h6.19v6.19h-6.19zM119.82 107.59h6.19v6.19h-6.19zM125.91 107.59h6.19v6.19h-6.19zM138.09 107.59h6.19v6.19h-6.19zM144.18 107.59h6.19v6.19h-6.19zM192.9 107.59h6.19v6.19h-6.19zM198.99 107.59h6.19v6.19h-6.19zM217.26 107.59h6.19v6.19h-6.19zM28.47 113.68h6.19v6.19h-6.19zM71.1 113.68h6.19v6.19h-6.19zM89.37 113.68h6.19v6.19h-6.19zM95.46 113.68h6.19v6.19h-6.19zM101.55 113.68h6.19v6.19h-6.19zM107.64 113.68h6.19v6.19h-6.19zM119.82 113.68h6.19v6.19h-6.19zM125.91 113.68h6.19v6.19h-6.19zM132 113.68h6.19v6.19h-6.19zM138.09 113.68h6.19v6.19h-6.19zM156.36 113.68h6.19v6.19h-6.19zM211.17 113.68h6.19v6.19h-6.19zM28.47 119.77h6.19v6.19h-6.19zM52.83 119.77h6.19v6.19h-6.19zM58.92 119.77h6.19v6.19h-6.19zM71.1 119.77h6.19v6.19h-6.19zM77.19 119.77h6.19v6.19h-6.19zM101.55 119.77h6.19v6.19h-6.19zM119.82 119.77h6.19v6.19h-6.19zM156.36 119.77h6.19v6.19h-6.19zM162.45 119.77h6.19v6.19h-6.19zM168.54 119.77h6.19v6.19h-6.19zM211.17 119.77h6.19v6.19h-6.19zM83.28 125.86h6.19v6.19h-6.19zM95.46 125.86h6.19v6.19h-6.19zM101.55 125.86h6.19v6.19h-6.19zM107.64 125.86h6.19v6.19h-6.19zM119.82 125.86h6.19v6.19h-6.19zM125.91 125.86h6.19v6.19h-6.19zM34.56 131.95h6.19v6.19h-6.19zM40.65 131.95h6.19v6.19h-6.19zM46.74 131.95h6.19v6.19h-6.19zM77.19 131.95h6.19v6.19h-6.19zM89.37 131.95h6.19v6.19h-6.19zM95.46 131.95h6.19v6.19h-6.19zM101.55 131.95h6.19v6.19h-6.19zM107.64 131.95h6.19v6.19h-6.19zM113.73 131.95h6.19v6.19h-6.19zM119.82 131.95h6.19v6.19h-6.19zM125.91 131.95h6.19v6.19h-6.19zM46.74 138.04h6.19v6.19h-6.19zM52.83 138.04h6.19v6.19h-6.19zM58.92 138.04h6.19v6.19h-6.19zM83.28 138.04h6.19v6.19h-6.19zM89.37 138.04h6.19v6.19h-6.19zM101.55 138.04h6.19v6.19h-6.19zM107.64 138.04h6.19v6.19h-6.19zM113.73 138.04h6.19v6.19h-6.19zM119.82 138.04h6.19v6.19h-6.19zM125.91 138.04h6.19v6.19h-6.19zM132 138.04h6.19v6.19h-6.19zM138.09 138.04h6.19v6.19h-6.19zM156.36 138.04h6.19v6.19h-6.19zM162.45 138.04h6.19v6.19h-6.19zM52.83 144.13h6.19v6.19h-6.19zM58.92 144.13h6.19v6.19h-6.19zM65.01 144.13h6.19v6.19h-6.19zM71.1 144.13h6.19v6.19h-6.19zM83.28 144.13h6.19v6.19h-6.19zM89.37 144.13h6.19v6.19h-6.19zM95.46 144.13h6.19v6.19h-6.19zM101.55 144.13h6.19v6.19h-6.19zM107.64 144.13h6.19v6.19h-6.19zM113.73 144.13h6.19v6.19h-6.19zM125.91 144.13h6.19v6.19h-6.19zM132 144.13h6.19v6.19h-6.19zM144.18 144.13h6.19v6.19h-6.19zM150.27 144.13h6.19v6.19h-6.19zM162.45 144.13h6.19v6.19h-6.19zM168.54 144.13h6.19v6.19h-6.19zM180.72 144.13h6.19v6.19h-6.19zM65.01 150.22h6.19v6.19h-6.19zM71.1 150.22h6.19v6.19h-6.19zM77.19 150.22h6.19v6.19h-6.19zM83.28 150.22h6.19v6.19h-6.19zM89.37 150.22h6.19v6.19h-6.19zM95.46 150.22h6.19v6.19h-6.19zM101.55 150.22h6.19v6.19h-6.19zM107.64 150.22h6.19v6.19h-6.19zM113.73 150.22h6.19v6.19h-6.19zM119.82 150.22h6.19v6.19h-6.19zM125.91 150.22h6.19v6.19h-6.19zM132 150.22h6.19v6.19h-6.19zM144.18 150.22h6.19v6.19h-6.19zM150.27 150.22h6.19v6.19h-6.19zM52.83 156.31h6.19v6.19h-6.19zM58.92 156.31h6.19v6.19h-6.19zM71.1 156.31h6.19v6.19h-6.19zM77.19 156.31h6.19v6.19h-6.19zM83.28 156.31h6.19v6.19h-6.19zM89.37 156.31h6.19v6.19h-6.19zM95.46 156.31h6.19v6.19h-6.19zM101.55 156.31h6.19v6.19h-6.19zM107.64 156.31h6.19v6.19h-6.19zM113.73 156.31h6.19v6.19h-6.19zM119.82 156.31h6.19v6.19h-6.19zM125.91 156.31h6.19v6.19h-6.19zM144.18 156.31h6.19v6.19h-6.19zM150.27 156.31h6.19v6.19h-6.19zM180.72 156.31h6.19v6.19h-6.19zM58.92 162.4h6.19v6.19h-6.19zM65.01 162.4h6.19v6.19h-6.19zM71.1 162.4h6.19v6.19h-6.19zM77.19 162.4h6.19v6.19h-6.19zM83.28 162.4h6.19v6.19h-6.19zM89.37 162.4h6.19v6.19h-6.19zM95.46 162.4h6.19v6.19h-6.19zM101.55 162.4h6.19v6.19h-6.19zM113.73 162.4h6.19v6.19h-6.19zM150.27 162.4h6.19v6.19h-6.19zM77.19 168.49h6.19v6.19h-6.19zM83.28 168.49h6.19v6.19h-6.19zM89.37 168.49h6.19v6.19h-6.19zM95.46 168.49h6.19v6.19h-6.19zM101.55 168.49h6.19v6.19h-6.19zM107.64 168.49h6.19v6.19h-6.19zM119.82 168.49h6.19v6.19h-6.19zM138.09 168.49h6.19v6.19h-6.19zM77.19 174.58h6.19v6.19h-6.19zM83.28 174.58h6.19v6.19h-6.19zM89.37 174.58h6.19v6.19h-6.19zM95.46 174.58h6.19v6.19h-6.19zM101.55 174.58h6.19v6.19h-6.19zM162.45 174.58h6.19v6.19h-6.19zM101.55 180.67h6.19v6.19h-6.19zM144.18 180.67h6.19v6.19h-6.19z" fill="#fff"/>
<path d="M320.79 40.6h6.19v6.19h-6.19zM339.06 40.6h6.19v6.19h-6.19zM320.79 52.78h6.19v6.19h-6.19zM119.82 77.14h6.19v6.19h-6.19zM125.91 77.14h6.19v6.19h-6.19zM144.18 83.23h6.19v6.19h-6.19zM259.89 83.23h6.19v6.19h-6.19zM168.54 95.41h6.19v6.19h-6.19zM253.8 95.41h6.19v6.19h-6.19zM138.09 101.5h6.19v6.19h-6.19zM174.63 101.5h6.19v6.19h-6.19zM198.99 101.5h6.19v6.19h-6.19zM205.08 101.5h6.19v6.19h-6.19zM211.17 101.5h6.19v6.19h-6.19zM217.26 101.5h6.19v6.19h-6.19zM34.56 107.59h6.19v6.19h-6.19zM40.65 107.59h6.19v6.19h-6.19zM46.74 107.59h6.19v6.19h-6.19zM95.46 107.59h6.19v6.19h-6.19zM113.73 107.59h6.19v6.19h-6.19zM119.82 107.59h6.19v6.19h-6.19zM125.91 107.59h6.19v6.19h-6.19zM138.09 107.59h6.19v6.19h-6.19zM144.18 107.59h6.19v6.19h-6.19zM192.9 107.59h6.19v6.19h-6.19zM198.99 107.59h6.19v6.19h-6.19zM217.26 107.59h6.19v6.19h-6.19zM28.47 113.68h6.19v6.19h-6.19zM71.1 113.68h6.19v6.19h-6.19zM89.37 113.68h6.19v6.19h-6.19zM95.46 113.68h6.19v6.19h-6.19zM101.55 113.68h6.19v6.19h-6.19zM107.64 113.68h6.19v6.19h-6.19zM119.82 113.68h6.19v6.19h-6.19zM125.91 113.68h6.19v6.19h-6.19zM132 113.68h6.19v6.19h-6.19zM138.09 113.68h6.19v6.19h-6.19zM156.36 113.68h6.19v6.19h-6.19zM211.17 113.68h6.19v6.19h-6.19zM28.47 119.77h6.19v6.19h-6.19zM52.83 119.77h6.19v6.19h-6.19zM58.92 119.77h6.19v6.19h-6.19zM71.1 119.77h6.19v6.19h-6.19zM77.19 119.77h6.19v6.19h-6.19zM101.55 119.77h6.19v6.19h-6.19zM119.82 119.77h6.19v6.19h-6.19zM156.36 119.77h6.19v6.19h-6.19zM162.45 119.77h6.19v6.19h-6.19zM168.54 119.77h6.19v6.19h-6.19zM211.17 119.77h6.19v6.19h-6.19zM83.28 125.86h6.19v6.19h-6.19zM95.46 125.86h6.19v6.19h-6.19zM101.55 125.86h6.19v6.19h-6.19zM107.64 125.86h6.19v6.19h-6.19zM119.82 125.86h6.19v6.19h-6.19zM125.91 125.86h6.19v6.19h-6.19zM34.56 131.95h6.19v6.19h-6.19zM40.65 131.95h6.19v6.19h-6.19zM46.74 131.95h6.19v6.19h-6.19zM77.19 131.95h6.19v6.19h-6.19zM89.37 131.95h6.19v6.19h-6.19zM95.46 131.95h6.19v6.19h-6.19zM101.55 131.95h6.19v6.19h-6.19zM107.64 131.95h6.19v6.19h-6.19zM113.73 131.95h6.19v6.19h-6.19zM119.82 131.95h6.19v6.19h-6.19zM125.91 131.95h6.19v6.19h-6.19zM46.74 138.04h6.19v6.19h-6.19zM52.83 138.04h6.19v6.19h-6.19zM58.92 138.04h6.19v6.19h-6.19zM83.28 138.04h6.19v6.19h-6.19zM89.37 138.04h6.19v6.19h-6.19zM101.55 138.04h6.19v6.19h-6.19zM107.64 138.04h6.19v6.19h-6.19zM113.73 138.04h6.19v6.19h-6.19zM119.82 138.04h6.19v6.19h-6.19zM125.91 138.04h6.19v6.19h-6.19zM132 138.04h6.19v6.19h-6.19zM138.09 138.04h6.19v6.19h-6.19zM156.36 138.04h6.19v6.19h-6.19zM162.45 138.04h6.19v6.19h-6.19zM52.83 144.13h6.19v6.19h-6.19zM58.92 144.13h6.19v6.19h-6.19zM65.01 144.13h6.19v6.19h-6.19zM71.1 144.13h6.19v6.19h-6.19zM83.28 144.13h6.19v6.19h-6.19zM89.37 144.13h6.19v6.19h-6.19zM95.46 144.13h6.19v6.19h-6.19zM101.55 144.13h6.19v6.19h-6.19zM107.64 144.13h6.19v6.19h-6.19zM113.73 144.13h6.19v6.19h-6.19zM125.91 144.13h6.19v6.19h-6.19zM132 144.13h6.19v6.19h-6.19zM144.18 144.13h6.19v6.19h-6.19zM150.27 144.13h6.19v6.19h-6.19zM162.45 144.13h6.19v6.19h-6.19zM168.54 144.13h6.19v6.19h-6.19zM180.72 144.13h6.19v6.19h-6.19zM65.01 150.22h6.19v6.19h-6.19zM71.1 150.22h6.19v6.19h-6.19zM77.19 150.22h6.19v6.19h-6.19zM83.28 150.22h6.19v6.19h-6.19zM89.37 150.22h6.19v6.19h-6.19zM95.46 150.22h6.19v6.19h-6.19zM101.55 150.22h6.19v6.19h-6.19zM107.64 150.22h6.19v6.19h-6.19zM113.73 150.22h6.19v6.19h-6.19zM119.82 150.22h6.19v6.19h-6.19zM125.91 150.22h6.19v6.19h-6.19zM132 150.22h6.19v6.19h-6.19zM144.18 150.22h6.19v6.19h-6.19zM150.27 150.22h6.19v6.19h-6.19zM52.83 156.31h6.19v6.19h-6.19zM58.92 156.31h6.19v6.19h-6.19zM71.1 156.31h6.19v6.19h-6.19zM77.19 156.31h6.19v6.19h-6.19zM83.28 156.31h6.19v6.19h-6.19zM89.37 156.31h6.19v6.19h-6.19zM95.46 156.31h6.19v6.19h-6.19zM101.55 156.31h6.19v6.19h-6.19zM107.64 156.31h6.19v6.19h-6.19zM113.73 156.31h6.19v6.19h-6.19zM119.82 156.31h6.19v6.19h-6.19zM125.91 156.31h6.19v6.19h-6.19zM144.18 156.31h6.19v6.19h-6.19zM150.27 156.31h6.19v6.19h-6.19zM180.72 156.31h6.19v6.19h-6.19zM58.92 162.4h6.19v6.19h-6.19zM65.01 162.4h6.19v6.19h-6.19zM71.1 162.4h6.19v6.19h-6.19zM77.19 162.4h6.19v6.19h-6.19zM83.28 162.4h6.19v6.19h-6.19zM89.37 162.4h6.19v6.19h-6.19zM95.46 162.4h6.19v6.19h-6.19zM101.55 162.4h6.19v6.19h-6.19zM113.73 162.4h6.19v6.19h-6.19zM150.27 162.4h6.19v6.19h-6.19zM77.19 168.49h6.19v6.19h-6.19zM83.28 168.49h6.19v6.19h-6.19zM89.37 168.49h6.19v6.19h-6.19zM95.46 168.49h6.19v6.19h-6.19zM101.55 168.49h6.19v6.19h-6.19zM107.64 168.49h6.19v6.19h-6.19zM119.82 168.49h6.19v6.19h-6.19zM138.09 168.49h6.19v6.19h-6.19zM77.19 174.58h6.19v6.19h-6.19zM83.28 174.58h6.19v6.19h-6.19zM89.37 174.58h6.19v6.19h-6.19zM95.46 174.58h6.19v6.19h-6.19zM101.55 174.58h6.19v6.19h-6.19zM162.45 174.58h6.19v6.19h-6.19zM101.55 180.67h6.19v6.19h-6.19zM144.18 180.67h6.19v6.19h-6.19z" fill="url(#hatch)" stroke="#8a8a8a" stroke-width=".4"/>
<path d="M314.75 28.47h30.45M314.75 34.56h36.54M308.66 40.65h42.63M302.57 46.74h54.81M107.69 52.83h6.09M284.3 52.83h85.26M95.51 58.92h18.27M278.21 58.92h121.8M95.51 65.01h30.45M278.21 65.01h121.8M77.24 71.1h54.81M284.3 71.1h115.71M77.24 77.19h54.81M278.21 77.19h121.8M65.06 83.28h97.44M253.85 83.28h146.16M65.06 89.37h97.44M253.85 89.37h127.89M65.06 95.46h133.98M223.4 95.46h152.25M52.88 101.55h322.77M34.61 107.64h322.77M22.43 113.73h322.77M22.43 119.82h286.23M314.75 119.82h24.36M28.52 125.91h274.05M308.66 125.91h18.27M28.52 132h298.41M34.61 138.09h286.23M46.79 144.18h267.96M52.88 150.27h261.87M52.88 156.36h267.96M52.88 162.45h267.96M58.97 168.54h261.87M65.06 174.63h255.78M77.24 180.72h243.6M89.42 186.81h231.42M119.87 192.9h6.09M138.14 192.9h18.27M174.68 192.9h140.07M168.59 198.99h140.07M168.59 205.08h140.07M168.59 211.17h133.98M174.68 217.26h121.8M180.77 223.35h103.53M186.86 229.44h12.18M229.49 229.44h36.54M241.67 235.53h12.18M22.43 113.73v6.09M28.52 113.73v18.27M34.61 107.64v30.45M40.7 107.64v30.45M46.79 107.64v36.54M52.88 101.55v48.72M52.88 156.36v6.09M58.97 101.55v66.99M65.06 83.28v91.35M71.15 83.28v91.35M77.24 71.1v109.62M83.33 71.1v109.62M89.42 71.1v115.71M95.51 58.92v127.89M101.6 58.92v127.89M107.69 52.83v133.98M113.78 52.83v133.98M119.87 65.01v127.89M125.96 65.01v127.89M132.05 71.1v115.71M138.14 83.28v109.62M144.23 83.28v109.62M150.32 83.28v109.62M156.41 83.28v109.62M162.5 83.28v103.53M168.59 95.46v91.35M168.59 198.99v12.18M174.68 95.46v121.8M180.77 95.46v127.89M186.86 95.46v133.98M192.95 95.46v133.98M199.04 95.46v133.98M205.13 101.55v121.8M211.22 101.55v121.8M217.31 101.55v121.8M223.4 95.46v127.89M229.49 95.46v133.98M235.58 95.46v133.98M241.67 95.46v140.07M247.76 95.46v140.07M253.85 83.28v152.25M259.94 83.28v146.16M266.03 83.28v146.16M272.12 83.28v140.07M278.21 58.92v6.09M278.21 77.19v146.16M284.3 52.83v170.52M290.39 52.83v164.43M296.48 52.83v164.43M302.57 46.74v73.08M302.57 125.91v85.26M308.66 40.65v79.17M308.66 125.91v79.17M314.75 28.47v91.35M314.75 125.91v66.99M320.84 28.47v91.35M320.84 125.91v12.18M320.84 156.36v30.45M326.93 28.47v91.35M326.93 125.91v6.09M333.02 28.47v91.35M339.11 28.47v91.35M345.2 28.47v85.26M351.29 34.56v73.08M357.38 46.74v60.9M363.47 52.83v48.72M369.56 52.83v48.72M375.65 58.92v42.63M381.74 58.92v30.45M387.83 58.92v24.36M393.92 58.92v24.36M400.01 58.92v24.36" fill="none" stroke="#6e6e6e" stroke-opacity=".85" stroke-width=".48"/>
</g>
<polygon points="25.9,117.5 27.5,113.7 31.3,112.5 34.5,110.9 38.9,110.2 43.4,109.3 46.5,107.1 51.6,107.6 54.2,105.5 59.9,103.3 65.6,101.7 66.8,96 68.7,94.1 67.5,89.6 64.9,84.5 66.8,83.3 75.1,81.8 80.2,82 78.9,79.5 81.4,74.4 83.3,70.3 87.1,71.2 99.2,70.8 98.6,64.3 105.5,61.7 107.4,58.5 112.5,58.2 113.8,61.7 118.2,64 125.8,65.5 129.6,68.1 132.2,73.1 131.5,76.9 132.8,80.7 138,82.6 138,82.6 145.6,83.3 150.7,85.8 157,88.4 160.2,90.9 163.4,95.3 168.4,96.6 176.1,97.2 188.7,97.2 196.4,97.9 200.2,99.8 206.5,102.3 214.1,103.3 219.2,102.9 225.5,100.4 231.9,99.1 239.5,99.1 247.1,97.9 252,95.3 255.1,92.8 257,89.6 257,85.8 259.6,83.3 265.3,83.9 272.3,82.6 276.1,80.7 280.5,81.4 286.2,77.6 293.8,73.8 297.6,73.1 307.1,71.9 305.2,68.7 298.9,66.2 292.5,67.4 288.7,65.5 283.7,66.8 281.8,64.3 286.2,57.3 288.7,54.1 290.6,56 297.6,54.1 303.3,52.8 305.2,49 310.3,42.1 314.1,39.5 309,37 311.6,34.4 319.2,32.3 331.9,31.3 342,33.8 348.4,38.9 352.2,46.5 354.7,54.1 361,56 368.7,58.5 373.7,62.3 376.3,66.8 383.9,65.5 391.5,64 399.7,62.7 397.8,66.8 395.9,71.9 391.5,78.2 388.3,82.6 383.2,80.7 377.5,83.3 376.9,89.6 376.3,96 372.5,97.9 368.7,96 364.8,99.1 358.5,102.3 354.7,104.8 350.3,102.9 346.1,107.4 341.9,109.6 337.7,112.2 333.4,114.8 329.2,115.9 326,117 327.6,118.5 323.9,119.6 320.7,119.1 318.1,120.7 315.5,121.2 314.4,120.1 317.6,118.5 317,115.4 320.2,113.8 321.8,110.6 319.7,109 316,109 312.3,111.7 309.1,113.8 305.9,116.4 302.8,118 298.5,119.1 295.4,120.1 294.3,122.8 295.9,124.9 300.7,125.4 303.8,127 302.2,129.1 304.9,131.2 308.1,130.7 311.2,128.6 312.8,126.5 316.5,128.1 320.7,129.6 324.4,129.6 323.9,132.3 320.7,132.8 319.7,131.2 316.5,133.3 313.3,135.5 310.7,138.1 307,141.8 303.8,144.4 305.9,146.6 309.6,148.7 311.8,152.4 313.3,156.1 315.5,158.7 318.1,161.9 320.2,165.1 320.7,168.8 320.3,169.8 324.1,170.4 322.2,174.2 320.9,179.3 319.6,182.5 317.1,185.6 314.5,189.4 312,192 308.8,195.1 306.9,199.6 304.4,202.7 300.6,205.9 296.8,209.1 293,212.3 288.5,215.4 282.8,218 277.8,220.5 272.7,222.4 268.9,224.3 263.9,224.1 258.8,225.4 252.5,226 251.2,228.5 250.6,234 246.7,233.6 246.1,227.3 242.3,226 237.2,226 232.2,224.7 227.7,222.2 225.8,217.8 220.7,217.1 218.2,215.9 215.7,217.1 210.6,218.8 204.9,219.7 199.8,220.9 197.3,224.1 197.3,228.2 194.1,228.2 192.8,225.4 187.8,226 186.5,223.5 182.1,222.6 182.7,217.8 180.8,214.6 178.9,212.1 171.9,210.1 172.9,205.9 176.1,202.1 178.8,197 178.3,192 176.1,186.9 172.9,184.1 171.2,187.5 167.2,186.6 160.8,185.6 155.8,187.5 150.7,189.4 145.6,192 141.8,193.9 139.3,193.2 137.4,190.7 133.6,187.5 127.3,186.9 122.2,188.2 119.7,190.7 115.9,188.2 110.8,187.5 105.7,187.5 101.3,186.3 95.6,183.1 90.5,181.2 85.4,178 81.6,175.5 76.5,172.3 72.1,174.2 67.7,171 62.6,168.5 58.2,165.3 56.9,162.2 55.6,159.2 58.2,155.2 58.8,150.7 56.3,148.2 53.7,143.8 50.5,140 45.5,138.7 41,136.8 38.5,133.6 34.7,131.7 31.5,131.1 33.9,127.6 33.9,127.7 33.2,123.2 26.9,121.3" fill="none" stroke="#666" stroke-width=".9" stroke-linejoin="round"/>
<polyline points="320.3,169.8 324.1,170.4 322.2,174.2 320.9,179.3 319.6,182.5 317.1,185.6 314.5,189.4 312,192 308.8,195.1 306.9,199.6 304.4,202.7 300.6,205.9 296.8,209.1 293,212.3 288.5,215.4 282.8,218 277.8,220.5 272.7,222.4 268.9,224.3 263.9,224.1 258.8,225.4 252.5,226 251.2,228.5 250.6,234 246.7,233.6 246.1,227.3 242.3,226 237.2,226 232.2,224.7 227.7,222.2 225.8,217.8 220.7,217.1 218.2,215.9 215.7,217.1 210.6,218.8 204.9,219.7 199.8,220.9" fill="none" stroke="#606060" stroke-width="1.1" stroke-linejoin="round"/>
<g clip-path="url(#tw)">
<rect x="308.66" y="198.99" width="6.14" height="6.14" fill="#ffff00"/>
<rect x="314.75" y="198.99" width="6.14" height="6.14" fill="#ffff00"/>
<rect x="302.57" y="205.08" width="6.14" height="6.14" fill="#ffff00"/>
<rect x="308.66" y="205.08" width="6.14" height="6.14" fill="#ffff00"/>
<rect x="314.75" y="205.08" width="6.14" height="6.14" fill="#ffff00"/>
<rect x="302.57" y="211.17" width="6.14" height="6.14" fill="#ff6f00"/>
<rect x="308.66" y="211.17" width="6.14" height="6.14" fill="#ff6f00"/>
<rect x="314.75" y="211.17" width="6.14" height="6.14" fill="#ff6f00"/>
<rect x="302.57" y="217.26" width="6.14" height="6.14" fill="#ff6f00"/>
<rect x="308.66" y="217.26" width="6.14" height="6.14" fill="#ff6f00"/>
<rect x="314.75" y="217.26" width="6.14" height="6.14" fill="#ff6f00"/>
<rect x="308.66" y="223.35" width="6.14" height="6.14" fill="#ff6f00"/>
<path d="M308.66 200v30M314.75 200v30M305 205.08h20M305 211.17h20M305 217.26h20M305 223.35h20" stroke="#6e6e6e" stroke-opacity=".85" stroke-width=".48"/>
</g>
<polygon points="314.2,205 317.9,203.6 320.5,205 319.6,208.8 318.2,211.6 317,215.7 314.7,219.7 313.3,225.2 311.9,222 309.6,218 309,214.5 310.4,211.1 312.4,207.6" fill="none" stroke="#666" stroke-width=".8"/>
<path d="M304.6 213.2l1.6-.2.5 1.4-.9 1.6-1.6.2.6-1.5z" fill="#333"/>
<g clip-path="url(#hn)">
<rect x="237.4" y="233.1" width="20" height="16" fill="#96ffb4"/>
<path d="M241.67 230v30M247.76 230v30M253.85 230v30M230 235.53h30M230 241.62h30" stroke="#6e6e6e" stroke-opacity=".85" stroke-width=".48"/>
</g>
<polygon points="239.4,239.7 242.3,236.9 245.7,235.4 249.7,235.1 253.5,236 253.2,238 250.9,242.6 248,244.9 245.1,246.6 242.3,246.1 239.4,244.3" fill="none" stroke="#666" stroke-width=".8"/>
<text x="29.1" y="222.6" font-size="11.1" textLength="23.6" lengthAdjust="spacingAndGlyphs">XCO</text><text x="53.1" y="224.6" font-size="7.3" textLength="14.8" lengthAdjust="spacingAndGlyphs">2ano</text><text x="68.3" y="222.6" font-size="11.1" textLength="27.9" lengthAdjust="spacingAndGlyphs">(ppm)</text>
<rect x="23.6" y="230.9" width="28.2" height="13.9" fill="#0000fe" stroke="#b0a8a0" stroke-width=".5"/>
<text x="56.7" y="241.7" font-size="10.4" lengthAdjust="spacingAndGlyphs" textLength="63.8">−1.55 − −0.57</text>
<rect x="23.6" y="250" width="28.2" height="13.9" fill="#3560fc" stroke="#b0a8a0" stroke-width=".5"/>
<text x="56.7" y="260.8" font-size="10.4" lengthAdjust="spacingAndGlyphs" textLength="63.8">−0.56 − −0.16</text>
<rect x="23.6" y="269.1" width="28.2" height="13.9" fill="#38a4fd" stroke="#b0a8a0" stroke-width=".5"/>
<text x="56.7" y="279.9" font-size="10.4" lengthAdjust="spacingAndGlyphs" textLength="57.1">−0.15 − 0.14</text>
<rect x="23.6" y="288.2" width="28.2" height="13.9" fill="#00ffff" stroke="#b0a8a0" stroke-width=".5"/>
<text x="56.7" y="299" font-size="10.4" lengthAdjust="spacingAndGlyphs" textLength="50.1">0.15 − 0.41</text>
<rect x="23.6" y="307.3" width="28.2" height="13.9" fill="#96ffb4" stroke="#b0a8a0" stroke-width=".5"/>
<text x="56.7" y="318.1" font-size="10.4" lengthAdjust="spacingAndGlyphs" textLength="50.6">0.42 − 0.72</text>
<rect x="126.4" y="230.9" width="28.4" height="13.9" fill="#ccff66" stroke="#b0a8a0" stroke-width=".5"/>
<text x="160" y="241.7" font-size="10.4" lengthAdjust="spacingAndGlyphs" textLength="51.1">0.73 − 1.08</text>
<rect x="126.4" y="250" width="28.4" height="13.9" fill="#ffff00" stroke="#b0a8a0" stroke-width=".5"/>
<text x="160" y="260.8" font-size="10.4" lengthAdjust="spacingAndGlyphs" textLength="51.1">1.09 − 1.46</text>
<rect x="126.4" y="269.1" width="28.4" height="13.9" fill="#ffb400" stroke="#b0a8a0" stroke-width=".5"/>
<text x="160" y="279.9" font-size="10.4" lengthAdjust="spacingAndGlyphs" textLength="51.1">1.47 − 1.85</text>
<rect x="126.4" y="288.2" width="28.4" height="13.9" fill="#ff6f00" stroke="#b0a8a0" stroke-width=".5"/>
<text x="160" y="299" font-size="10.4" lengthAdjust="spacingAndGlyphs" textLength="51.1">1.86 − 2.28</text>
<rect x="126.4" y="307.3" width="28.4" height="13.9" fill="#ff0000" stroke="#b0a8a0" stroke-width=".5"/>
<text x="160" y="318.1" font-size="10.4" lengthAdjust="spacingAndGlyphs" textLength="51.1">2.29 − 3.24</text>
<rect x="21.4" y="326.4" width="18.4" height="8.6" fill="#fff" stroke="#555" stroke-width=".7"/>
<text x="42.9" y="333.9" font-size="10.4" lengthAdjust="spacingAndGlyphs" textLength="88.3">National boundaries</text>
<rect x="141.2" y="326.4" width="18.4" height="8.6" fill="url(#hatch)" stroke="#555" stroke-width=".7"/>
<text x="163.5" y="333.9" font-size="10.4" lengthAdjust="spacingAndGlyphs" textLength="74.1">Background area</text>
<rect x="288.9" y="335.2" width="82.8" height="4.3" fill="#fff" stroke="#000" stroke-width=".7"/>
<rect x="288.9" y="335.2" width="41.4" height="4.3" fill="#000"/>
<text x="287" y="331.2" font-size="9.8">0</text>
<text x="323" y="331.2" font-size="9.8" textLength="14.8">750</text>
<text x="360.9" y="331.2" font-size="9.8" textLength="35.1">1500 km</text>
<text x="400" y="27.8" font-size="6.4" fill="#000" style="fill:#000;font-family:'Liberation Sans','DejaVu Sans',sans-serif" text-anchor="middle">N</text>
<path d="M400.5 30.3L395.3 44.9L400.5 40z" fill="#000"/>
<path d="M400.5 30.3L404.8 44.9L400.5 40z" fill="none" stroke="#000" stroke-width=".6"/>
<path d="M243.1 259.3q2 2 2.6 4.8M249.2 283.7l-.6 4.4M237.3 315q-.6 2.4-.4 4.8M258.8 336.1l5.7-2.5M281.4 313l4.3-3.4M300.1 290l2.5-5.7M302.6 260.3v6.1M305.2 247.2l3.5-5.2M315.4 230.5l4.4-4.2M323.7 214.2l1.3-6.7M329.8 199.8l1.5-1M288.4 231.1h1.1M305.3 213.4l.9 1.4M317 219l.6 1.6M318.5 222.5l-.6 1.3M256.8 257.6l1.1-.9M259.3 255.9l1.3.5M261 258.6l.9-.7M262.8 256l.7.9M258.4 259.5l.9.2M260 257.3l.5.6M270.4 262.3l3.2-2.2 3.2-.4-1.8 2.2-3 .9zM288.3 257.2l.6.5M272.5 288.5l1.5 1M274 291.5l2-.8M273 294l1.4 1.2M275.5 296.5l1.6-.6M278.5 290.2l1 1.2M280 293.5l1.5-.4M282.5 296l.8 1.4M284 291l1.2.8M286.5 294.5l1 1.2M289 291.5l1.5-.8M291 289.8l.8 1.3M279 298.6l1.4.6M285 299.5l1.2-.5M276.8 300.8l1 1M282.5 301.8l1.3.4M287.8 298l.9.9M256.8 304.6l4.2-1.6 4.4-1.3M266.5 303.5l2.5 1.4M271 304l2.5.6M246.2 308.3l3.6-1.9M250.5 306l1 2.4M258 306.5l-1 2.5M268.5 306.5l-1.5 3.5M275.5 307l-1 .8M261.7 320.7l1.2 2.6M265 309l1 1.4" fill="none" stroke="#222" stroke-width=".75"/>
<rect x="17.5" y="18" width="395.6" height="328.4" fill="none" stroke="#585858" stroke-width="1"/>
<path d="M67.8 18v2.2M67.8 346.4v-2.2M128.65 18v2.2M128.65 346.4v-2.2M189.5 18v2.2M189.5 346.4v-2.2M250.35 18v2.2M250.35 346.4v-2.2M311.2 18v2.2M311.2 346.4v-2.2M372.05 18v2.2M372.05 346.4v-2.2M17.5 58.3h2.2M413.1 58.3h-2.2M17.5 119.3h2.2M413.1 119.3h-2.2M17.5 180.3h2.2M413.1 180.3h-2.2M17.5 241.3h2.2M413.1 241.3h-2.2M17.5 302.3h2.2M413.1 302.3h-2.2" stroke="#666" stroke-width=".8" fill="none"/>
<text x="67.8" y="13.9" font-size="9.9" text-anchor="middle">80°E</text>
<text x="67.8" y="359.7" font-size="9.9" text-anchor="middle">80°E</text>
<text x="128.65" y="13.9" font-size="9.9" text-anchor="middle">90°E</text>
<text x="128.65" y="359.7" font-size="9.9" text-anchor="middle">90°E</text>
<text x="189.5" y="13.9" font-size="9.9" text-anchor="middle">100°E</text>
<text x="189.5" y="359.7" font-size="9.9" text-anchor="middle">100°E</text>
<text x="250.35" y="13.9" font-size="9.9" text-anchor="middle">110°E</text>
<text x="250.35" y="359.7" font-size="9.9" text-anchor="middle">110°E</text>
<text x="311.2" y="13.9" font-size="9.9" text-anchor="middle">120°E</text>
<text x="311.2" y="359.7" font-size="9.9" text-anchor="middle">120°E</text>
<text x="372.05" y="13.9" font-size="9.9" text-anchor="middle">130°E</text>
<text x="372.05" y="359.7" font-size="9.9" text-anchor="middle">130°E</text>
<text transform="translate(13.6 58.5) rotate(-90)" font-size="10.1" text-anchor="middle">50°N</text>
<text transform="translate(425.7 58.5) rotate(-90)" font-size="10.1" text-anchor="middle">50°N</text>
<text transform="translate(13.6 119.5) rotate(-90)" font-size="10.1" text-anchor="middle">40°N</text>
<text transform="translate(425.7 119.5) rotate(-90)" font-size="10.1" text-anchor="middle">40°N</text>
<text transform="translate(13.6 180.5) rotate(-90)" font-size="10.1" text-anchor="middle">30°N</text>
<text transform="translate(425.7 180.5) rotate(-90)" font-size="10.1" text-anchor="middle">30°N</text>
<text transform="translate(13.6 241.5) rotate(-90)" font-size="10.1" text-anchor="middle">20°N</text>
<text transform="translate(425.7 241.5) rotate(-90)" font-size="10.1" text-anchor="middle">20°N</text>
<text transform="translate(13.6 302.5) rotate(-90)" font-size="10.1" text-anchor="middle">10°N</text>
<text transform="translate(425.7 302.5) rotate(-90)" font-size="10.1" text-anchor="middle">10°N</text>
<text class="cap" font-size="21" x="215.2" y="384.2" text-anchor="middle">(<tspan font-weight="bold">b</tspan>) summer</text>
</g>
<g transform="translate(0 388.8)">
<path d="M67.8 18V346.4M128.65 18V346.4M189.5 18V346.4M250.35 18V346.4M311.2 18V346.4M372.05 18V346.4" stroke="#dadada" stroke-width=".8" stroke-dasharray="3.2 10.75" stroke-dashoffset="8.4" fill="none"/>
<path d="M17.5 58.3H413.1M17.5 119.3H413.1M17.5 180.3H413.1M17.5 241.3H413.1M17.5 302.3H413.1" stroke="#dadada" stroke-width=".8" stroke-dasharray="3.2 10.75" stroke-dashoffset="0" fill="none"/>
<g clip-path="url(#china)">
<path d="M278.16 58.87h18.37v6.19h-18.37zM284.25 64.96h12.28v6.19h-12.28zM284.25 71.05h12.28v6.19h-12.28zM278.16 77.14h6.19v6.19h-6.19zM205.08 107.59h12.28v6.19h-12.28zM107.64 119.77h12.28v6.19h-12.28zM125.91 119.77h6.19v6.19h-6.19zM89.37 125.86h6.19v6.19h-6.19zM113.73 125.86h6.19v6.19h-6.19zM83.28 131.95h6.19v6.19h-6.19zM65.01 138.04h18.37v6.19h-18.37zM95.46 138.04h6.19v6.19h-6.19zM144.18 138.04h6.19v6.19h-6.19zM77.19 144.13h6.19v6.19h-6.19zM119.82 144.13h6.19v6.19h-6.19zM138.09 144.13h6.19v6.19h-6.19zM58.92 150.22h6.19v6.19h-6.19zM138.09 150.22h6.19v6.19h-6.19zM65.01 156.31h6.19v6.19h-6.19zM132 156.31h12.28v6.19h-12.28zM107.64 162.4h6.19v6.19h-6.19zM119.82 162.4h30.55v6.19h-30.55zM156.36 162.4h48.82v6.19h-48.82zM65.01 168.49h12.28v6.19h-12.28zM113.73 168.49h6.19v6.19h-6.19zM125.91 168.49h12.28v6.19h-12.28zM144.18 168.49h67.09v6.19h-67.09zM125.91 174.58h36.64v6.19h-36.64zM168.54 174.58h42.73v6.19h-42.73zM192.9 180.67h18.37v6.19h-18.37zM205.08 186.76h12.28v6.19h-12.28zM205.08 192.85h12.28v6.19h-12.28zM211.17 198.94h12.28v6.19h-12.28zM217.26 205.03h6.19v6.19h-6.19zM217.26 211.12h6.19v6.19h-6.19zM217.26 217.21h6.19v6.19h-6.19z" fill="#0000fe"/>
<path d="M284.25 52.78h18.37v6.19h-18.37zM296.43 58.87h12.28v6.19h-12.28zM296.43 64.96h12.28v6.19h-12.28zM296.43 71.05h24.46v6.19h-24.46zM284.25 77.14h36.64v6.19h-36.64zM65.01 83.23h18.37v6.19h-18.37zM253.8 83.23h6.19v6.19h-6.19zM265.98 83.23h18.37v6.19h-18.37zM308.61 83.23h12.28v6.19h-12.28zM253.8 89.32h18.37v6.19h-18.37zM144.18 95.41h12.28v6.19h-12.28zM162.45 101.5h12.28v6.19h-12.28zM180.72 101.5h18.37v6.19h-18.37zM162.45 107.59h12.28v6.19h-12.28zM144.18 113.68h12.28v6.19h-12.28zM162.45 113.68h24.46v6.19h-24.46zM192.9 113.68h18.37v6.19h-18.37zM217.26 113.68h6.19v6.19h-6.19zM235.53 113.68h6.19v6.19h-6.19zM95.46 119.77h6.19v6.19h-6.19zM132 119.77h18.37v6.19h-18.37zM174.63 119.77h24.46v6.19h-24.46zM132 125.86h18.37v6.19h-18.37zM156.36 125.86h6.19v6.19h-6.19zM168.54 125.86h36.64v6.19h-36.64zM58.92 131.95h18.37v6.19h-18.37zM132 131.95h61v6.19h-61zM150.27 138.04h6.19v6.19h-6.19zM168.54 138.04h36.64v6.19h-36.64zM156.36 144.13h6.19v6.19h-6.19zM174.63 144.13h6.19v6.19h-6.19zM186.81 144.13h30.55v6.19h-30.55zM156.36 150.22h61v6.19h-61zM156.36 156.31h24.46v6.19h-24.46zM186.81 156.31h30.55v6.19h-30.55zM205.08 162.4h18.37v6.19h-18.37zM211.17 168.49h6.19v6.19h-6.19zM211.17 174.58h6.19v6.19h-6.19zM211.17 180.67h12.28v6.19h-12.28zM138.09 186.76h6.19v6.19h-6.19zM217.26 186.76h18.37v6.19h-18.37zM217.26 192.85h24.46v6.19h-24.46zM223.35 198.94h18.37v6.19h-18.37zM223.35 205.03h24.46v6.19h-24.46zM223.35 211.12h24.46v6.19h-24.46zM223.35 217.21h24.46v6.19h-24.46zM229.44 223.3h18.37v6.19h-18.37z" fill="#3560fc"/>
<path d="M314.7 28.42h6.19v6.19h-6.19zM332.97 28.42h12.28v6.19h-12.28zM332.97 34.51h18.37v6.19h-18.37zM345.15 40.6h6.19v6.19h-6.19zM351.24 46.69h6.19v6.19h-6.19zM302.52 52.78h12.28v6.19h-12.28zM351.24 52.78h18.37v6.19h-18.37zM95.46 58.87h12.28v6.19h-12.28zM308.61 58.87h18.37v6.19h-18.37zM345.15 58.87h54.91v6.19h-54.91zM95.46 64.96h30.55v6.19h-30.55zM308.61 64.96h18.37v6.19h-18.37zM345.15 64.96h48.82v6.19h-48.82zM83.28 71.05h6.19v6.19h-6.19zM119.82 71.05h6.19v6.19h-6.19zM320.79 71.05h12.28v6.19h-12.28zM320.79 77.14h12.28v6.19h-12.28zM150.27 83.23h12.28v6.19h-12.28zM284.25 83.23h12.28v6.19h-12.28zM302.52 83.23h6.19v6.19h-6.19zM320.79 83.23h24.46v6.19h-24.46zM65.01 89.32h24.46v6.19h-24.46zM138.09 89.32h18.37v6.19h-18.37zM272.07 89.32h18.37v6.19h-18.37zM326.88 89.32h6.19v6.19h-6.19zM65.01 95.41h24.46v6.19h-24.46zM138.09 95.41h6.19v6.19h-6.19zM156.36 95.41h12.28v6.19h-12.28zM174.63 95.41h24.46v6.19h-24.46zM223.35 95.41h30.55v6.19h-30.55zM259.89 95.41h18.37v6.19h-18.37zM52.83 101.5h18.37v6.19h-18.37zM144.18 101.5h18.37v6.19h-18.37zM223.35 101.5h12.28v6.19h-12.28zM52.83 107.59h12.28v6.19h-12.28zM150.27 107.59h12.28v6.19h-12.28zM174.63 107.59h18.37v6.19h-18.37zM22.38 113.68h6.19v6.19h-6.19zM34.56 113.68h12.28v6.19h-12.28zM113.73 113.68h6.19v6.19h-6.19zM186.81 113.68h6.19v6.19h-6.19zM223.35 113.68h12.28v6.19h-12.28zM241.62 113.68h6.19v6.19h-6.19zM34.56 119.77h12.28v6.19h-12.28zM89.37 119.77h6.19v6.19h-6.19zM150.27 119.77h6.19v6.19h-6.19zM198.99 119.77h12.28v6.19h-12.28zM217.26 119.77h6.19v6.19h-6.19zM229.44 119.77h18.37v6.19h-18.37zM46.74 125.86h36.64v6.19h-36.64zM150.27 125.86h6.19v6.19h-6.19zM162.45 125.86h6.19v6.19h-6.19zM205.08 125.86h36.64v6.19h-36.64zM52.83 131.95h6.19v6.19h-6.19zM192.9 131.95h48.82v6.19h-48.82zM205.08 138.04h24.46v6.19h-24.46zM217.26 144.13h6.19v6.19h-6.19zM217.26 150.22h12.28v6.19h-12.28zM217.26 156.31h18.37v6.19h-18.37zM223.35 162.4h12.28v6.19h-12.28zM217.26 168.49h30.55v6.19h-30.55zM217.26 174.58h30.55v6.19h-30.55zM89.37 180.67h12.28v6.19h-12.28zM138.09 180.67h6.19v6.19h-6.19zM223.35 180.67h24.46v6.19h-24.46zM119.82 186.76h6.19v6.19h-6.19zM144.18 186.76h12.28v6.19h-12.28zM235.53 186.76h18.37v6.19h-18.37zM241.62 192.85h12.28v6.19h-12.28zM296.43 192.85h6.19v6.19h-6.19zM241.62 198.94h12.28v6.19h-12.28zM290.34 198.94h6.19v6.19h-6.19zM247.71 205.03h6.19v6.19h-6.19zM278.16 205.03h12.28v6.19h-12.28zM247.71 211.12h6.19v6.19h-6.19zM247.71 217.21h6.19v6.19h-6.19zM247.71 223.3h6.19v6.19h-6.19zM241.62 229.39h6.19v6.19h-6.19z" fill="#38a4fd"/>
<path d="M320.79 28.42h12.28v6.19h-12.28zM314.7 34.51h18.37v6.19h-18.37zM308.61 40.6h12.28v6.19h-12.28zM326.88 40.6h12.28v6.19h-12.28zM302.52 46.69h48.82v6.19h-48.82zM107.64 52.78h6.19v6.19h-6.19zM314.7 52.78h6.19v6.19h-6.19zM326.88 52.78h24.46v6.19h-24.46zM107.64 58.87h6.19v6.19h-6.19zM326.88 58.87h18.37v6.19h-18.37zM326.88 64.96h18.37v6.19h-18.37zM393.87 64.96h6.19v6.19h-6.19zM89.37 71.05h30.55v6.19h-30.55zM125.91 71.05h6.19v6.19h-6.19zM332.97 71.05h67.09v6.19h-67.09zM77.19 77.14h12.28v6.19h-12.28zM101.55 77.14h18.37v6.19h-18.37zM332.97 77.14h61v6.19h-61zM125.91 83.23h18.37v6.19h-18.37zM296.43 83.23h6.19v6.19h-6.19zM345.15 83.23h36.64v6.19h-36.64zM89.37 89.32h18.37v6.19h-18.37zM132 89.32h6.19v6.19h-6.19zM156.36 89.32h12.28v6.19h-12.28zM290.34 89.32h6.19v6.19h-6.19zM302.52 89.32h24.46v6.19h-24.46zM332.97 89.32h30.55v6.19h-30.55zM89.37 95.41h6.19v6.19h-6.19zM125.91 95.41h12.28v6.19h-12.28zM278.16 95.41h6.19v6.19h-6.19zM71.1 101.5h12.28v6.19h-12.28zM125.91 101.5h12.28v6.19h-12.28zM235.53 101.5h24.46v6.19h-24.46zM65.01 107.59h6.19v6.19h-6.19zM132 107.59h6.19v6.19h-6.19zM223.35 107.59h12.28v6.19h-12.28zM46.74 113.68h24.46v6.19h-24.46zM46.74 119.77h6.19v6.19h-6.19zM65.01 119.77h6.19v6.19h-6.19zM83.28 119.77h6.19v6.19h-6.19zM223.35 119.77h6.19v6.19h-6.19zM247.71 119.77h6.19v6.19h-6.19zM28.47 125.86h18.37v6.19h-18.37zM241.62 125.86h6.19v6.19h-6.19zM241.62 131.95h6.19v6.19h-6.19zM229.44 138.04h12.28v6.19h-12.28zM223.35 144.13h6.19v6.19h-6.19zM229.44 150.22h6.19v6.19h-6.19zM235.53 156.31h6.19v6.19h-6.19zM235.53 162.4h12.28v6.19h-12.28zM247.71 168.49h6.19v6.19h-6.19zM247.71 174.58h6.19v6.19h-6.19zM119.82 180.67h18.37v6.19h-18.37zM150.27 180.67h24.46v6.19h-24.46zM247.71 180.67h6.19v6.19h-6.19zM253.8 186.76h6.19v6.19h-6.19zM290.34 186.76h18.37v6.19h-18.37zM253.8 192.85h6.19v6.19h-6.19zM278.16 192.85h18.37v6.19h-18.37zM302.52 192.85h6.19v6.19h-6.19zM253.8 198.94h36.64v6.19h-36.64zM296.43 198.94h12.28v6.19h-12.28zM168.54 205.03h6.19v6.19h-6.19zM253.8 205.03h24.46v6.19h-24.46zM290.34 205.03h12.28v6.19h-12.28zM253.8 211.12h42.73v6.19h-42.73zM253.8 217.21h6.19v6.19h-6.19zM272.07 217.21h12.28v6.19h-12.28zM253.8 223.3h12.28v6.19h-12.28z" fill="#00ffff"/>
<path d="M89.37 77.14h12.28v6.19h-12.28zM83.28 83.23h18.37v6.19h-18.37zM119.82 83.23h6.19v6.19h-6.19zM125.91 89.32h6.19v6.19h-6.19zM296.43 89.32h6.19v6.19h-6.19zM95.46 95.41h6.19v6.19h-6.19zM284.25 95.41h18.37v6.19h-18.37zM345.15 95.41h12.28v6.19h-12.28zM83.28 101.5h12.28v6.19h-12.28zM113.73 101.5h12.28v6.19h-12.28zM259.89 101.5h24.46v6.19h-24.46zM71.1 107.59h24.46v6.19h-24.46zM107.64 107.59h6.19v6.19h-6.19zM235.53 107.59h12.28v6.19h-12.28zM77.19 113.68h12.28v6.19h-12.28zM253.8 119.77h6.19v6.19h-6.19zM247.71 125.86h6.19v6.19h-6.19zM320.79 125.86h6.19v6.19h-6.19zM247.71 131.95h6.19v6.19h-6.19zM241.62 138.04h6.19v6.19h-6.19zM229.44 144.13h12.28v6.19h-12.28zM235.53 150.22h12.28v6.19h-12.28zM241.62 156.31h12.28v6.19h-12.28zM247.71 162.4h12.28v6.19h-12.28zM253.8 168.49h6.19v6.19h-6.19zM107.64 174.58h18.37v6.19h-18.37zM253.8 174.58h12.28v6.19h-12.28zM272.07 174.58h12.28v6.19h-12.28zM290.34 174.58h6.19v6.19h-6.19zM107.64 180.67h12.28v6.19h-12.28zM174.63 180.67h18.37v6.19h-18.37zM253.8 180.67h48.82v6.19h-48.82zM174.63 186.76h30.55v6.19h-30.55zM259.89 186.76h30.55v6.19h-30.55zM308.61 186.76h6.19v6.19h-6.19zM174.63 192.85h12.28v6.19h-12.28zM192.9 192.85h12.28v6.19h-12.28zM259.89 192.85h18.37v6.19h-18.37zM168.54 198.94h42.73v6.19h-42.73zM174.63 205.03h42.73v6.19h-42.73zM174.63 211.12h36.64v6.19h-36.64zM192.9 217.21h18.37v6.19h-18.37zM259.89 217.21h12.28v6.19h-12.28z" fill="#96ffb4"/>
<path d="M101.55 83.23h18.37v6.19h-18.37zM107.64 89.32h18.37v6.19h-18.37zM363.42 89.32h12.28v6.19h-12.28zM101.55 95.41h24.46v6.19h-24.46zM302.52 95.41h42.73v6.19h-42.73zM357.33 95.41h18.37v6.19h-18.37zM95.46 101.5h18.37v6.19h-18.37zM284.25 101.5h6.19v6.19h-6.19zM332.97 101.5h24.46v6.19h-24.46zM101.55 107.59h6.19v6.19h-6.19zM247.71 107.59h30.55v6.19h-30.55zM332.97 107.59h12.28v6.19h-12.28zM247.71 113.68h18.37v6.19h-18.37zM326.88 113.68h12.28v6.19h-12.28zM259.89 119.77h24.46v6.19h-24.46zM253.8 125.86h6.19v6.19h-6.19zM308.61 125.86h12.28v6.19h-12.28zM253.8 131.95h6.19v6.19h-6.19zM296.43 131.95h24.46v6.19h-24.46zM247.71 138.04h6.19v6.19h-6.19zM296.43 138.04h18.37v6.19h-18.37zM241.62 144.13h18.37v6.19h-18.37zM272.07 144.13h12.28v6.19h-12.28zM296.43 144.13h18.37v6.19h-18.37zM247.71 150.22h30.55v6.19h-30.55zM296.43 150.22h18.37v6.19h-18.37zM253.8 156.31h24.46v6.19h-24.46zM302.52 156.31h18.37v6.19h-18.37zM259.89 162.4h30.55v6.19h-30.55zM259.89 168.49h48.82v6.19h-48.82zM314.7 168.49h6.19v6.19h-6.19zM265.98 174.58h6.19v6.19h-6.19zM284.25 174.58h6.19v6.19h-6.19zM296.43 174.58h24.46v6.19h-24.46zM302.52 180.67h18.37v6.19h-18.37zM186.81 192.85h6.19v6.19h-6.19zM211.17 211.12h6.19v6.19h-6.19zM180.72 217.21h12.28v6.19h-12.28zM211.17 217.21h6.19v6.19h-6.19zM186.81 223.3h12.28v6.19h-12.28z" fill="#ccff66"/>
<path d="M290.34 101.5h42.73v6.19h-42.73zM278.16 107.59h12.28v6.19h-12.28zM302.52 107.59h12.28v6.19h-12.28zM320.79 107.59h12.28v6.19h-12.28zM265.98 113.68h18.37v6.19h-18.37zM314.7 113.68h12.28v6.19h-12.28zM259.89 125.86h42.73v6.19h-42.73zM259.89 131.95h36.64v6.19h-36.64zM253.8 138.04h42.73v6.19h-42.73zM259.89 144.13h12.28v6.19h-12.28zM284.25 144.13h12.28v6.19h-12.28zM278.16 150.22h18.37v6.19h-18.37zM278.16 156.31h24.46v6.19h-24.46zM290.34 162.4h30.55v6.19h-30.55zM308.61 168.49h6.19v6.19h-6.19z" fill="#ffff00"/>
<path d="M290.34 107.59h12.28v6.19h-12.28zM284.25 113.68h24.46v6.19h-24.46zM284.25 119.77h12.28v6.19h-12.28zM247.71 229.39h6.19v6.19h-6.19z" fill="#ffb400"/>
<path d="M320.79 40.6h6.19v6.19h-6.19zM339.06 40.6h6.19v6.19h-6.19zM320.79 52.78h6.19v6.19h-6.19zM119.82 77.14h6.19v6.19h-6.19zM125.91 77.14h6.19v6.19h-6.19zM144.18 83.23h6.19v6.19h-6.19zM259.89 83.23h6.19v6.19h-6.19zM168.54 95.41h6.19v6.19h-6.19zM253.8 95.41h6.19v6.19h-6.19zM138.09 101.5h6.19v6.19h-6.19zM174.63 101.5h6.19v6.19h-6.19zM198.99 101.5h6.19v6.19h-6.19zM205.08 101.5h6.19v6.19h-6.19zM211.17 101.5h6.19v6.19h-6.19zM217.26 101.5h6.19v6.19h-6.19zM34.56 107.59h6.19v6.19h-6.19zM40.65 107.59h6.19v6.19h-6.19zM46.74 107.59h6.19v6.19h-6.19zM95.46 107.59h6.19v6.19h-6.19zM113.73 107.59h6.19v6.19h-6.19zM119.82 107.59h6.19v6.19h-6.19zM125.91 107.59h6.19v6.19h-6.19zM138.09 107.59h6.19v6.19h-6.19zM144.18 107.59h6.19v6.19h-6.19zM192.9 107.59h6.19v6.19h-6.19zM198.99 107.59h6.19v6.19h-6.19zM217.26 107.59h6.19v6.19h-6.19zM28.47 113.68h6.19v6.19h-6.19zM71.1 113.68h6.19v6.19h-6.19zM89.37 113.68h6.19v6.19h-6.19zM95.46 113.68h6.19v6.19h-6.19zM101.55 113.68h6.19v6.19h-6.19zM107.64 113.68h6.19v6.19h-6.19zM119.82 113.68h6.19v6.19h-6.19zM125.91 113.68h6.19v6.19h-6.19zM132 113.68h6.19v6.19h-6.19zM138.09 113.68h6.19v6.19h-6.19zM156.36 113.68h6.19v6.19h-6.19zM211.17 113.68h6.19v6.19h-6.19zM28.47 119.77h6.19v6.19h-6.19zM52.83 119.77h6.19v6.19h-6.19zM58.92 119.77h6.19v6.19h-6.19zM71.1 119.77h6.19v6.19h-6.19zM77.19 119.77h6.19v6.19h-6.19zM101.55 119.77h6.19v6.19h-6.19zM119.82 119.77h6.19v6.19h-6.19zM156.36 119.77h6.19v6.19h-6.19zM162.45 119.77h6.19v6.19h-6.19zM168.54 119.77h6.19v6.19h-6.19zM211.17 119.77h6.19v6.19h-6.19zM83.28 125.86h6.19v6.19h-6.19zM95.46 125.86h6.19v6.19h-6.19zM101.55 125.86h6.19v6.19h-6.19zM107.64 125.86h6.19v6.19h-6.19zM119.82 125.86h6.19v6.19h-6.19zM125.91 125.86h6.19v6.19h-6.19zM34.56 131.95h6.19v6.19h-6.19zM40.65 131.95h6.19v6.19h-6.19zM46.74 131.95h6.19v6.19h-6.19zM77.19 131.95h6.19v6.19h-6.19zM89.37 131.95h6.19v6.19h-6.19zM95.46 131.95h6.19v6.19h-6.19zM101.55 131.95h6.19v6.19h-6.19zM107.64 131.95h6.19v6.19h-6.19zM113.73 131.95h6.19v6.19h-6.19zM119.82 131.95h6.19v6.19h-6.19zM125.91 131.95h6.19v6.19h-6.19zM46.74 138.04h6.19v6.19h-6.19zM52.83 138.04h6.19v6.19h-6.19zM58.92 138.04h6.19v6.19h-6.19zM83.28 138.04h6.19v6.19h-6.19zM89.37 138.04h6.19v6.19h-6.19zM101.55 138.04h6.19v6.19h-6.19zM107.64 138.04h6.19v6.19h-6.19zM113.73 138.04h6.19v6.19h-6.19zM119.82 138.04h6.19v6.19h-6.19zM125.91 138.04h6.19v6.19h-6.19zM132 138.04h6.19v6.19h-6.19zM138.09 138.04h6.19v6.19h-6.19zM156.36 138.04h6.19v6.19h-6.19zM162.45 138.04h6.19v6.19h-6.19zM52.83 144.13h6.19v6.19h-6.19zM58.92 144.13h6.19v6.19h-6.19zM65.01 144.13h6.19v6.19h-6.19zM71.1 144.13h6.19v6.19h-6.19zM83.28 144.13h6.19v6.19h-6.19zM89.37 144.13h6.19v6.19h-6.19zM95.46 144.13h6.19v6.19h-6.19zM101.55 144.13h6.19v6.19h-6.19zM107.64 144.13h6.19v6.19h-6.19zM113.73 144.13h6.19v6.19h-6.19zM125.91 144.13h6.19v6.19h-6.19zM132 144.13h6.19v6.19h-6.19zM144.18 144.13h6.19v6.19h-6.19zM150.27 144.13h6.19v6.19h-6.19zM162.45 144.13h6.19v6.19h-6.19zM168.54 144.13h6.19v6.19h-6.19zM180.72 144.13h6.19v6.19h-6.19zM65.01 150.22h6.19v6.19h-6.19zM71.1 150.22h6.19v6.19h-6.19zM77.19 150.22h6.19v6.19h-6.19zM83.28 150.22h6.19v6.19h-6.19zM89.37 150.22h6.19v6.19h-6.19zM95.46 150.22h6.19v6.19h-6.19zM101.55 150.22h6.19v6.19h-6.19zM107.64 150.22h6.19v6.19h-6.19zM113.73 150.22h6.19v6.19h-6.19zM119.82 150.22h6.19v6.19h-6.19zM125.91 150.22h6.19v6.19h-6.19zM132 150.22h6.19v6.19h-6.19zM144.18 150.22h6.19v6.19h-6.19zM150.27 150.22h6.19v6.19h-6.19zM52.83 156.31h6.19v6.19h-6.19zM58.92 156.31h6.19v6.19h-6.19zM71.1 156.31h6.19v6.19h-6.19zM77.19 156.31h6.19v6.19h-6.19zM83.28 156.31h6.19v6.19h-6.19zM89.37 156.31h6.19v6.19h-6.19zM95.46 156.31h6.19v6.19h-6.19zM101.55 156.31h6.19v6.19h-6.19zM107.64 156.31h6.19v6.19h-6.19zM113.73 156.31h6.19v6.19h-6.19zM119.82 156.31h6.19v6.19h-6.19zM125.91 156.31h6.19v6.19h-6.19zM144.18 156.31h6.19v6.19h-6.19zM150.27 156.31h6.19v6.19h-6.19zM180.72 156.31h6.19v6.19h-6.19zM58.92 162.4h6.19v6.19h-6.19zM65.01 162.4h6.19v6.19h-6.19zM71.1 162.4h6.19v6.19h-6.19zM77.19 162.4h6.19v6.19h-6.19zM83.28 162.4h6.19v6.19h-6.19zM89.37 162.4h6.19v6.19h-6.19zM95.46 162.4h6.19v6.19h-6.19zM101.55 162.4h6.19v6.19h-6.19zM113.73 162.4h6.19v6.19h-6.19zM150.27 162.4h6.19v6.19h-6.19zM77.19 168.49h6.19v6.19h-6.19zM83.28 168.49h6.19v6.19h-6.19zM89.37 168.49h6.19v6.19h-6.19zM95.46 168.49h6.19v6.19h-6.19zM101.55 168.49h6.19v6.19h-6.19zM107.64 168.49h6.19v6.19h-6.19zM119.82 168.49h6.19v6.19h-6.19zM138.09 168.49h6.19v6.19h-6.19zM77.19 174.58h6.19v6.19h-6.19zM83.28 174.58h6.19v6.19h-6.19zM89.37 174.58h6.19v6.19h-6.19zM95.46 174.58h6.19v6.19h-6.19zM101.55 174.58h6.19v6.19h-6.19zM162.45 174.58h6.19v6.19h-6.19zM101.55 180.67h6.19v6.19h-6.19zM144.18 180.67h6.19v6.19h-6.19z" fill="#fff"/>
<path d="M320.79 40.6h6.19v6.19h-6.19zM339.06 40.6h6.19v6.19h-6.19zM320.79 52.78h6.19v6.19h-6.19zM119.82 77.14h6.19v6.19h-6.19zM125.91 77.14h6.19v6.19h-6.19zM144.18 83.23h6.19v6.19h-6.19zM259.89 83.23h6.19v6.19h-6.19zM168.54 95.41h6.19v6.19h-6.19zM253.8 95.41h6.19v6.19h-6.19zM138.09 101.5h6.19v6.19h-6.19zM174.63 101.5h6.19v6.19h-6.19zM198.99 101.5h6.19v6.19h-6.19zM205.08 101.5h6.19v6.19h-6.19zM211.17 101.5h6.19v6.19h-6.19zM217.26 101.5h6.19v6.19h-6.19zM34.56 107.59h6.19v6.19h-6.19zM40.65 107.59h6.19v6.19h-6.19zM46.74 107.59h6.19v6.19h-6.19zM95.46 107.59h6.19v6.19h-6.19zM113.73 107.59h6.19v6.19h-6.19zM119.82 107.59h6.19v6.19h-6.19zM125.91 107.59h6.19v6.19h-6.19zM138.09 107.59h6.19v6.19h-6.19zM144.18 107.59h6.19v6.19h-6.19zM192.9 107.59h6.19v6.19h-6.19zM198.99 107.59h6.19v6.19h-6.19zM217.26 107.59h6.19v6.19h-6.19zM28.47 113.68h6.19v6.19h-6.19zM71.1 113.68h6.19v6.19h-6.19zM89.37 113.68h6.19v6.19h-6.19zM95.46 113.68h6.19v6.19h-6.19zM101.55 113.68h6.19v6.19h-6.19zM107.64 113.68h6.19v6.19h-6.19zM119.82 113.68h6.19v6.19h-6.19zM125.91 113.68h6.19v6.19h-6.19zM132 113.68h6.19v6.19h-6.19zM138.09 113.68h6.19v6.19h-6.19zM156.36 113.68h6.19v6.19h-6.19zM211.17 113.68h6.19v6.19h-6.19zM28.47 119.77h6.19v6.19h-6.19zM52.83 119.77h6.19v6.19h-6.19zM58.92 119.77h6.19v6.19h-6.19zM71.1 119.77h6.19v6.19h-6.19zM77.19 119.77h6.19v6.19h-6.19zM101.55 119.77h6.19v6.19h-6.19zM119.82 119.77h6.19v6.19h-6.19zM156.36 119.77h6.19v6.19h-6.19zM162.45 119.77h6.19v6.19h-6.19zM168.54 119.77h6.19v6.19h-6.19zM211.17 119.77h6.19v6.19h-6.19zM83.28 125.86h6.19v6.19h-6.19zM95.46 125.86h6.19v6.19h-6.19zM101.55 125.86h6.19v6.19h-6.19zM107.64 125.86h6.19v6.19h-6.19zM119.82 125.86h6.19v6.19h-6.19zM125.91 125.86h6.19v6.19h-6.19zM34.56 131.95h6.19v6.19h-6.19zM40.65 131.95h6.19v6.19h-6.19zM46.74 131.95h6.19v6.19h-6.19zM77.19 131.95h6.19v6.19h-6.19zM89.37 131.95h6.19v6.19h-6.19zM95.46 131.95h6.19v6.19h-6.19zM101.55 131.95h6.19v6.19h-6.19zM107.64 131.95h6.19v6.19h-6.19zM113.73 131.95h6.19v6.19h-6.19zM119.82 131.95h6.19v6.19h-6.19zM125.91 131.95h6.19v6.19h-6.19zM46.74 138.04h6.19v6.19h-6.19zM52.83 138.04h6.19v6.19h-6.19zM58.92 138.04h6.19v6.19h-6.19zM83.28 138.04h6.19v6.19h-6.19zM89.37 138.04h6.19v6.19h-6.19zM101.55 138.04h6.19v6.19h-6.19zM107.64 138.04h6.19v6.19h-6.19zM113.73 138.04h6.19v6.19h-6.19zM119.82 138.04h6.19v6.19h-6.19zM125.91 138.04h6.19v6.19h-6.19zM132 138.04h6.19v6.19h-6.19zM138.09 138.04h6.19v6.19h-6.19zM156.36 138.04h6.19v6.19h-6.19zM162.45 138.04h6.19v6.19h-6.19zM52.83 144.13h6.19v6.19h-6.19zM58.92 144.13h6.19v6.19h-6.19zM65.01 144.13h6.19v6.19h-6.19zM71.1 144.13h6.19v6.19h-6.19zM83.28 144.13h6.19v6.19h-6.19zM89.37 144.13h6.19v6.19h-6.19zM95.46 144.13h6.19v6.19h-6.19zM101.55 144.13h6.19v6.19h-6.19zM107.64 144.13h6.19v6.19h-6.19zM113.73 144.13h6.19v6.19h-6.19zM125.91 144.13h6.19v6.19h-6.19zM132 144.13h6.19v6.19h-6.19zM144.18 144.13h6.19v6.19h-6.19zM150.27 144.13h6.19v6.19h-6.19zM162.45 144.13h6.19v6.19h-6.19zM168.54 144.13h6.19v6.19h-6.19zM180.72 144.13h6.19v6.19h-6.19zM65.01 150.22h6.19v6.19h-6.19zM71.1 150.22h6.19v6.19h-6.19zM77.19 150.22h6.19v6.19h-6.19zM83.28 150.22h6.19v6.19h-6.19zM89.37 150.22h6.19v6.19h-6.19zM95.46 150.22h6.19v6.19h-6.19zM101.55 150.22h6.19v6.19h-6.19zM107.64 150.22h6.19v6.19h-6.19zM113.73 150.22h6.19v6.19h-6.19zM119.82 150.22h6.19v6.19h-6.19zM125.91 150.22h6.19v6.19h-6.19zM132 150.22h6.19v6.19h-6.19zM144.18 150.22h6.19v6.19h-6.19zM150.27 150.22h6.19v6.19h-6.19zM52.83 156.31h6.19v6.19h-6.19zM58.92 156.31h6.19v6.19h-6.19zM71.1 156.31h6.19v6.19h-6.19zM77.19 156.31h6.19v6.19h-6.19zM83.28 156.31h6.19v6.19h-6.19zM89.37 156.31h6.19v6.19h-6.19zM95.46 156.31h6.19v6.19h-6.19zM101.55 156.31h6.19v6.19h-6.19zM107.64 156.31h6.19v6.19h-6.19zM113.73 156.31h6.19v6.19h-6.19zM119.82 156.31h6.19v6.19h-6.19zM125.91 156.31h6.19v6.19h-6.19zM144.18 156.31h6.19v6.19h-6.19zM150.27 156.31h6.19v6.19h-6.19zM180.72 156.31h6.19v6.19h-6.19zM58.92 162.4h6.19v6.19h-6.19zM65.01 162.4h6.19v6.19h-6.19zM71.1 162.4h6.19v6.19h-6.19zM77.19 162.4h6.19v6.19h-6.19zM83.28 162.4h6.19v6.19h-6.19zM89.37 162.4h6.19v6.19h-6.19zM95.46 162.4h6.19v6.19h-6.19zM101.55 162.4h6.19v6.19h-6.19zM113.73 162.4h6.19v6.19h-6.19zM150.27 162.4h6.19v6.19h-6.19zM77.19 168.49h6.19v6.19h-6.19zM83.28 168.49h6.19v6.19h-6.19zM89.37 168.49h6.19v6.19h-6.19zM95.46 168.49h6.19v6.19h-6.19zM101.55 168.49h6.19v6.19h-6.19zM107.64 168.49h6.19v6.19h-6.19zM119.82 168.49h6.19v6.19h-6.19zM138.09 168.49h6.19v6.19h-6.19zM77.19 174.58h6.19v6.19h-6.19zM83.28 174.58h6.19v6.19h-6.19zM89.37 174.58h6.19v6.19h-6.19zM95.46 174.58h6.19v6.19h-6.19zM101.55 174.58h6.19v6.19h-6.19zM162.45 174.58h6.19v6.19h-6.19zM101.55 180.67h6.19v6.19h-6.19zM144.18 180.67h6.19v6.19h-6.19z" fill="url(#hatch)" stroke="#8a8a8a" stroke-width=".4"/>
<path d="M314.75 28.47h30.45M314.75 34.56h36.54M308.66 40.65h42.63M302.57 46.74h54.81M107.69 52.83h6.09M284.3 52.83h85.26M95.51 58.92h18.27M278.21 58.92h121.8M95.51 65.01h30.45M278.21 65.01h121.8M83.33 71.1h48.72M284.3 71.1h115.71M77.24 77.19h54.81M278.21 77.19h121.8M65.06 83.28h97.44M253.85 83.28h140.07M65.06 89.37h103.53M253.85 89.37h127.89M65.06 95.46h133.98M223.4 95.46h152.25M52.88 101.55h322.77M34.61 107.64h322.77M22.43 113.73h322.77M22.43 119.82h286.23M314.75 119.82h24.36M28.52 125.91h274.05M308.66 125.91h18.27M28.52 132h298.41M34.61 138.09h286.23M46.79 144.18h267.96M52.88 150.27h261.87M52.88 156.36h267.96M52.88 162.45h267.96M58.97 168.54h261.87M65.06 174.63h255.78M77.24 180.72h243.6M89.42 186.81h231.42M119.87 192.9h6.09M138.14 192.9h18.27M174.68 192.9h140.07M168.59 198.99h140.07M168.59 205.08h140.07M168.59 211.17h133.98M174.68 217.26h121.8M180.77 223.35h103.53M186.86 229.44h12.18M229.49 229.44h36.54M241.67 235.53h12.18M22.43 113.73v6.09M28.52 113.73v18.27M34.61 107.64v30.45M40.7 107.64v30.45M46.79 107.64v36.54M52.88 101.55v48.72M52.88 156.36v6.09M58.97 101.55v66.99M65.06 83.28v91.35M71.15 83.28v91.35M77.24 77.19v103.53M83.33 71.1v109.62M89.42 71.1v115.71M95.51 58.92v127.89M101.6 58.92v127.89M107.69 52.83v133.98M113.78 52.83v133.98M119.87 65.01v127.89M125.96 65.01v127.89M132.05 71.1v115.71M138.14 83.28v109.62M144.23 83.28v109.62M150.32 83.28v109.62M156.41 83.28v109.62M162.5 83.28v103.53M168.59 89.37v97.44M168.59 198.99v12.18M174.68 95.46v121.8M180.77 95.46v127.89M186.86 95.46v133.98M192.95 95.46v133.98M199.04 95.46v133.98M205.13 101.55v121.8M211.22 101.55v121.8M217.31 101.55v121.8M223.4 95.46v127.89M229.49 95.46v133.98M235.58 95.46v133.98M241.67 95.46v140.07M247.76 95.46v140.07M253.85 83.28v152.25M259.94 83.28v146.16M266.03 83.28v146.16M272.12 83.28v140.07M278.21 58.92v6.09M278.21 77.19v146.16M284.3 52.83v170.52M290.39 52.83v164.43M296.48 52.83v164.43M302.57 46.74v73.08M302.57 125.91v85.26M308.66 40.65v79.17M308.66 125.91v79.17M314.75 28.47v91.35M314.75 125.91v66.99M320.84 28.47v91.35M320.84 125.91v12.18M320.84 156.36v30.45M326.93 28.47v91.35M326.93 125.91v6.09M333.02 28.47v91.35M339.11 28.47v91.35M345.2 28.47v85.26M351.29 34.56v73.08M357.38 46.74v60.9M363.47 52.83v48.72M369.56 52.83v48.72M375.65 58.92v42.63M381.74 58.92v30.45M387.83 58.92v24.36M393.92 58.92v24.36M400.01 58.92v18.27" fill="none" stroke="#6e6e6e" stroke-opacity=".85" stroke-width=".48"/>
</g>
<polygon points="25.9,117.5 27.5,113.7 31.3,112.5 34.5,110.9 38.9,110.2 43.4,109.3 46.5,107.1 51.6,107.6 54.2,105.5 59.9,103.3 65.6,101.7 66.8,96 68.7,94.1 67.5,89.6 64.9,84.5 66.8,83.3 75.1,81.8 80.2,82 78.9,79.5 81.4,74.4 83.3,70.3 87.1,71.2 99.2,70.8 98.6,64.3 105.5,61.7 107.4,58.5 112.5,58.2 113.8,61.7 118.2,64 125.8,65.5 129.6,68.1 132.2,73.1 131.5,76.9 132.8,80.7 138,82.6 138,82.6 145.6,83.3 150.7,85.8 157,88.4 160.2,90.9 163.4,95.3 168.4,96.6 176.1,97.2 188.7,97.2 196.4,97.9 200.2,99.8 206.5,102.3 214.1,103.3 219.2,102.9 225.5,100.4 231.9,99.1 239.5,99.1 247.1,97.9 252,95.3 255.1,92.8 257,89.6 257,85.8 259.6,83.3 265.3,83.9 272.3,82.6 276.1,80.7 280.5,81.4 286.2,77.6 293.8,73.8 297.6,73.1 307.1,71.9 305.2,68.7 298.9,66.2 292.5,67.4 288.7,65.5 283.7,66.8 281.8,64.3 286.2,57.3 288.7,54.1 290.6,56 297.6,54.1 303.3,52.8 305.2,49 310.3,42.1 314.1,39.5 309,37 311.6,34.4 319.2,32.3 331.9,31.3 342,33.8 348.4,38.9 352.2,46.5 354.7,54.1 361,56 368.7,58.5 373.7,62.3 376.3,66.8 383.9,65.5 391.5,64 399.7,62.7 397.8,66.8 395.9,71.9 391.5,78.2 388.3,82.6 383.2,80.7 377.5,83.3 376.9,89.6 376.3,96 372.5,97.9 368.7,96 364.8,99.1 358.5,102.3 354.7,104.8 350.3,102.9 346.1,107.4 341.9,109.6 337.7,112.2 333.4,114.8 329.2,115.9 326,117 327.6,118.5 323.9,119.6 320.7,119.1 318.1,120.7 315.5,121.2 314.4,120.1 317.6,118.5 317,115.4 320.2,113.8 321.8,110.6 319.7,109 316,109 312.3,111.7 309.1,113.8 305.9,116.4 302.8,118 298.5,119.1 295.4,120.1 294.3,122.8 295.9,124.9 300.7,125.4 303.8,127 302.2,129.1 304.9,131.2 308.1,130.7 311.2,128.6 312.8,126.5 316.5,128.1 320.7,129.6 324.4,129.6 323.9,132.3 320.7,132.8 319.7,131.2 316.5,133.3 313.3,135.5 310.7,138.1 307,141.8 303.8,144.4 305.9,146.6 309.6,148.7 311.8,152.4 313.3,156.1 315.5,158.7 318.1,161.9 320.2,165.1 320.7,168.8 320.3,169.8 324.1,170.4 322.2,174.2 320.9,179.3 319.6,182.5 317.1,185.6 314.5,189.4 312,192 308.8,195.1 306.9,199.6 304.4,202.7 300.6,205.9 296.8,209.1 293,212.3 288.5,215.4 282.8,218 277.8,220.5 272.7,222.4 268.9,224.3 263.9,224.1 258.8,225.4 252.5,226 251.2,228.5 250.6,234 246.7,233.6 246.1,227.3 242.3,226 237.2,226 232.2,224.7 227.7,222.2 225.8,217.8 220.7,217.1 218.2,215.9 215.7,217.1 210.6,218.8 204.9,219.7 199.8,220.9 197.3,224.1 197.3,228.2 194.1,228.2 192.8,225.4 187.8,226 186.5,223.5 182.1,222.6 182.7,217.8 180.8,214.6 178.9,212.1 171.9,210.1 172.9,205.9 176.1,202.1 178.8,197 178.3,192 176.1,186.9 172.9,184.1 171.2,187.5 167.2,186.6 160.8,185.6 155.8,187.5 150.7,189.4 145.6,192 141.8,193.9 139.3,193.2 137.4,190.7 133.6,187.5 127.3,186.9 122.2,188.2 119.7,190.7 115.9,188.2 110.8,187.5 105.7,187.5 101.3,186.3 95.6,183.1 90.5,181.2 85.4,178 81.6,175.5 76.5,172.3 72.1,174.2 67.7,171 62.6,168.5 58.2,165.3 56.9,162.2 55.6,159.2 58.2,155.2 58.8,150.7 56.3,148.2 53.7,143.8 50.5,140 45.5,138.7 41,136.8 38.5,133.6 34.7,131.7 31.5,131.1 33.9,127.6 33.9,127.7 33.2,123.2 26.9,121.3" fill="none" stroke="#666" stroke-width=".9" stroke-linejoin="round"/>
<polyline points="320.3,169.8 324.1,170.4 322.2,174.2 320.9,179.3 319.6,182.5 317.1,185.6 314.5,189.4 312,192 308.8,195.1 306.9,199.6 304.4,202.7 300.6,205.9 296.8,209.1 293,212.3 288.5,215.4 282.8,218 277.8,220.5 272.7,222.4 268.9,224.3 263.9,224.1 258.8,225.4 252.5,226 251.2,228.5 250.6,234 246.7,233.6 246.1,227.3 242.3,226 237.2,226 232.2,224.7 227.7,222.2 225.8,217.8 220.7,217.1 218.2,215.9 215.7,217.1 210.6,218.8 204.9,219.7 199.8,220.9" fill="none" stroke="#606060" stroke-width="1.1" stroke-linejoin="round"/>
<g clip-path="url(#tw)">
<rect x="308.66" y="198.99" width="6.14" height="6.14" fill="#38a4fd"/>
<rect x="314.75" y="198.99" width="6.14" height="6.14" fill="#38a4fd"/>
<rect x="302.57" y="205.08" width="6.14" height="6.14" fill="#00ffff"/>
<rect x="308.66" y="205.08" width="6.14" height="6.14" fill="#00ffff"/>
<rect x="314.75" y="205.08" width="6.14" height="6.14" fill="#38a4fd"/>
<rect x="302.57" y="211.17" width="6.14" height="6.14" fill="#ff6f00"/>
<rect x="308.66" y="211.17" width="6.14" height="6.14" fill="#ff6f00"/>
<rect x="314.75" y="211.17" width="6.14" height="6.14" fill="#ff6f00"/>
<rect x="302.57" y="217.26" width="6.14" height="6.14" fill="#ff0000"/>
<rect x="308.66" y="217.26" width="6.14" height="6.14" fill="#ff0000"/>
<rect x="314.75" y="217.26" width="6.14" height="6.14" fill="#ff0000"/>
<rect x="308.66" y="223.35" width="6.14" height="6.14" fill="#ff0000"/>
<path d="M308.66 200v30M314.75 200v30M305 205.08h20M305 211.17h20M305 217.26h20M305 223.35h20" stroke="#6e6e6e" stroke-opacity=".85" stroke-width=".48"/>
</g>
<polygon points="314.2,205 317.9,203.6 320.5,205 319.6,208.8 318.2,211.6 317,215.7 314.7,219.7 313.3,225.2 311.9,222 309.6,218 309,214.5 310.4,211.1 312.4,207.6" fill="none" stroke="#666" stroke-width=".8"/>
<path d="M304.6 213.2l1.6-.2.5 1.4-.9 1.6-1.6.2.6-1.5z" fill="#333"/>
<g clip-path="url(#hn)">
<rect x="237.4" y="233.1" width="20" height="16" fill="#ffb400"/>
<path d="M241.67 230v30M247.76 230v30M253.85 230v30M230 235.53h30M230 241.62h30" stroke="#6e6e6e" stroke-opacity=".85" stroke-width=".48"/>
</g>
<polygon points="239.4,239.7 242.3,236.9 245.7,235.4 249.7,235.1 253.5,236 253.2,238 250.9,242.6 248,244.9 245.1,246.6 242.3,246.1 239.4,244.3" fill="none" stroke="#666" stroke-width=".8"/>
<text x="29.1" y="222.6" font-size="11.1" textLength="23.6" lengthAdjust="spacingAndGlyphs">XCO</text><text x="53.1" y="224.6" font-size="7.3" textLength="14.8" lengthAdjust="spacingAndGlyphs">2ano</text><text x="68.3" y="222.6" font-size="11.1" textLength="27.9" lengthAdjust="spacingAndGlyphs">(ppm)</text>
<rect x="23.6" y="230.9" width="28.2" height="13.9" fill="#0000fe" stroke="#b0a8a0" stroke-width=".5"/>
<text x="56.7" y="241.7" font-size="10.4" lengthAdjust="spacingAndGlyphs" textLength="63.8">−1.55 − −0.57</text>
<rect x="23.6" y="250" width="28.2" height="13.9" fill="#3560fc" stroke="#b0a8a0" stroke-width=".5"/>
<text x="56.7" y="260.8" font-size="10.4" lengthAdjust="spacingAndGlyphs" textLength="63.8">−0.56 − −0.16</text>
<rect x="23.6" y="269.1" width="28.2" height="13.9" fill="#38a4fd" stroke="#b0a8a0" stroke-width=".5"/>
<text x="56.7" y="279.9" font-size="10.4" lengthAdjust="spacingAndGlyphs" textLength="57.1">−0.15 − 0.14</text>
<rect x="23.6" y="288.2" width="28.2" height="13.9" fill="#00ffff" stroke="#b0a8a0" stroke-width=".5"/>
<text x="56.7" y="299" font-size="10.4" lengthAdjust="spacingAndGlyphs" textLength="50.1">0.15 − 0.41</text>
<rect x="23.6" y="307.3" width="28.2" height="13.9" fill="#96ffb4" stroke="#b0a8a0" stroke-width=".5"/>
<text x="56.7" y="318.1" font-size="10.4" lengthAdjust="spacingAndGlyphs" textLength="50.6">0.42 − 0.72</text>
<rect x="126.4" y="230.9" width="28.4" height="13.9" fill="#ccff66" stroke="#b0a8a0" stroke-width=".5"/>
<text x="160" y="241.7" font-size="10.4" lengthAdjust="spacingAndGlyphs" textLength="51.1">0.73 − 1.08</text>
<rect x="126.4" y="250" width="28.4" height="13.9" fill="#ffff00" stroke="#b0a8a0" stroke-width=".5"/>
<text x="160" y="260.8" font-size="10.4" lengthAdjust="spacingAndGlyphs" textLength="51.1">1.09 − 1.46</text>
<rect x="126.4" y="269.1" width="28.4" height="13.9" fill="#ffb400" stroke="#b0a8a0" stroke-width=".5"/>
<text x="160" y="279.9" font-size="10.4" lengthAdjust="spacingAndGlyphs" textLength="51.1">1.47 − 1.85</text>
<rect x="126.4" y="288.2" width="28.4" height="13.9" fill="#ff6f00" stroke="#b0a8a0" stroke-width=".5"/>
<text x="160" y="299" font-size="10.4" lengthAdjust="spacingAndGlyphs" textLength="51.1">1.86 − 2.28</text>
<rect x="126.4" y="307.3" width="28.4" height="13.9" fill="#ff0000" stroke="#b0a8a0" stroke-width=".5"/>
<text x="160" y="318.1" font-size="10.4" lengthAdjust="spacingAndGlyphs" textLength="51.1">2.29 − 3.24</text>
<rect x="21.4" y="326.4" width="18.4" height="8.6" fill="#fff" stroke="#555" stroke-width=".7"/>
<text x="42.9" y="333.9" font-size="10.4" lengthAdjust="spacingAndGlyphs" textLength="88.3">National boundaries</text>
<rect x="141.2" y="326.4" width="18.4" height="8.6" fill="url(#hatch)" stroke="#555" stroke-width=".7"/>
<text x="163.5" y="333.9" font-size="10.4" lengthAdjust="spacingAndGlyphs" textLength="74.1">Background area</text>
<rect x="288.9" y="335.2" width="82.8" height="4.3" fill="#fff" stroke="#000" stroke-width=".7"/>
<rect x="288.9" y="335.2" width="41.4" height="4.3" fill="#000"/>
<text x="287" y="331.2" font-size="9.8">0</text>
<text x="323" y="331.2" font-size="9.8" textLength="14.8">750</text>
<text x="360.9" y="331.2" font-size="9.8" textLength="35.1">1500 km</text>
<text x="400" y="27.8" font-size="6.4" fill="#000" style="fill:#000;font-family:'Liberation Sans','DejaVu Sans',sans-serif" text-anchor="middle">N</text>
<path d="M400.5 30.3L395.3 44.9L400.5 40z" fill="#000"/>
<path d="M400.5 30.3L404.8 44.9L400.5 40z" fill="none" stroke="#000" stroke-width=".6"/>
<path d="M243.1 259.3q2 2 2.6 4.8M249.2 283.7l-.6 4.4M237.3 315q-.6 2.4-.4 4.8M258.8 336.1l5.7-2.5M281.4 313l4.3-3.4M300.1 290l2.5-5.7M302.6 260.3v6.1M305.2 247.2l3.5-5.2M315.4 230.5l4.4-4.2M323.7 214.2l1.3-6.7M329.8 199.8l1.5-1M288.4 231.1h1.1M305.3 213.4l.9 1.4M317 219l.6 1.6M318.5 222.5l-.6 1.3M256.8 257.6l1.1-.9M259.3 255.9l1.3.5M261 258.6l.9-.7M262.8 256l.7.9M258.4 259.5l.9.2M260 257.3l.5.6M270.4 262.3l3.2-2.2 3.2-.4-1.8 2.2-3 .9zM288.3 257.2l.6.5M272.5 288.5l1.5 1M274 291.5l2-.8M273 294l1.4 1.2M275.5 296.5l1.6-.6M278.5 290.2l1 1.2M280 293.5l1.5-.4M282.5 296l.8 1.4M284 291l1.2.8M286.5 294.5l1 1.2M289 291.5l1.5-.8M291 289.8l.8 1.3M279 298.6l1.4.6M285 299.5l1.2-.5M276.8 300.8l1 1M282.5 301.8l1.3.4M287.8 298l.9.9M256.8 304.6l4.2-1.6 4.4-1.3M266.5 303.5l2.5 1.4M271 304l2.5.6M246.2 308.3l3.6-1.9M250.5 306l1 2.4M258 306.5l-1 2.5M268.5 306.5l-1.5 3.5M275.5 307l-1 .8M261.7 320.7l1.2 2.6M265 309l1 1.4" fill="none" stroke="#222" stroke-width=".75"/>
<rect x="17.5" y="18" width="395.6" height="328.4" fill="none" stroke="#585858" stroke-width="1"/>
<path d="M67.8 18v2.2M67.8 346.4v-2.2M128.65 18v2.2M128.65 346.4v-2.2M189.5 18v2.2M189.5 346.4v-2.2M250.35 18v2.2M250.35 346.4v-2.2M311.2 18v2.2M311.2 346.4v-2.2M372.05 18v2.2M372.05 346.4v-2.2M17.5 58.3h2.2M413.1 58.3h-2.2M17.5 119.3h2.2M413.1 119.3h-2.2M17.5 180.3h2.2M413.1 180.3h-2.2M17.5 241.3h2.2M413.1 241.3h-2.2M17.5 302.3h2.2M413.1 302.3h-2.2" stroke="#666" stroke-width=".8" fill="none"/>
<text x="67.8" y="13.9" font-size="9.9" text-anchor="middle">80°E</text>
<text x="67.8" y="359.7" font-size="9.9" text-anchor="middle">80°E</text>
<text x="128.65" y="13.9" font-size="9.9" text-anchor="middle">90°E</text>
<text x="128.65" y="359.7" font-size="9.9" text-anchor="middle">90°E</text>
<text x="189.5" y="13.9" font-size="9.9" text-anchor="middle">100°E</text>
<text x="189.5" y="359.7" font-size="9.9" text-anchor="middle">100°E</text>
<text x="250.35" y="13.9" font-size="9.9" text-anchor="middle">110°E</text>
<text x="250.35" y="359.7" font-size="9.9" text-anchor="middle">110°E</text>
<text x="311.2" y="13.9" font-size="9.9" text-anchor="middle">120°E</text>
<text x="311.2" y="359.7" font-size="9.9" text-anchor="middle">120°E</text>
<text x="372.05" y="13.9" font-size="9.9" text-anchor="middle">130°E</text>
<text x="372.05" y="359.7" font-size="9.9" text-anchor="middle">130°E</text>
<text transform="translate(13.6 58.5) rotate(-90)" font-size="10.1" text-anchor="middle">50°N</text>
<text transform="translate(425.7 58.5) rotate(-90)" font-size="10.1" text-anchor="middle">50°N</text>
<text transform="translate(13.6 119.5) rotate(-90)" font-size="10.1" text-anchor="middle">40°N</text>
<text transform="translate(425.7 119.5) rotate(-90)" font-size="10.1" text-anchor="middle">40°N</text>
<text transform="translate(13.6 180.5) rotate(-90)" font-size="10.1" text-anchor="middle">30°N</text>
<text transform="translate(425.7 180.5) rotate(-90)" font-size="10.1" text-anchor="middle">30°N</text>
<text transform="translate(13.6 241.5) rotate(-90)" font-size="10.1" text-anchor="middle">20°N</text>
<text transform="translate(425.7 241.5) rotate(-90)" font-size="10.1" text-anchor="middle">20°N</text>
<text transform="translate(13.6 302.5) rotate(-90)" font-size="10.1" text-anchor="middle">10°N</text>
<text transform="translate(425.7 302.5) rotate(-90)" font-size="10.1" text-anchor="middle">10°N</text>
<text class="cap" font-size="21" x="215.2" y="384.2" text-anchor="middle">(<tspan font-weight="bold">c</tspan>) autumn</text>
</g>
<g transform="translate(513.1 388.8)">
<path d="M67.8 18V346.4M128.65 18V346.4M189.5 18V346.4M250.35 18V346.4M311.2 18V346.4M372.05 18V346.4" stroke="#dadada" stroke-width=".8" stroke-dasharray="3.2 10.75" stroke-dashoffset="8.4" fill="none"/>
<path d="M17.5 58.3H413.1M17.5 119.3H413.1M17.5 180.3H413.1M17.5 241.3H413.1M17.5 302.3H413.1" stroke="#dadada" stroke-width=".8" stroke-dasharray="3.2 10.75" stroke-dashoffset="0" fill="none"/>
<g clip-path="url(#china)">
<path d="M284.25 52.78h6.19v6.19h-6.19zM278.16 58.87h12.28v6.19h-12.28zM284.25 64.96h12.28v6.19h-12.28zM284.25 71.05h18.37v6.19h-18.37zM278.16 77.14h24.46v6.19h-24.46zM162.45 101.5h12.28v6.19h-12.28zM205.08 107.59h6.19v6.19h-6.19zM144.18 113.68h12.28v6.19h-12.28zM162.45 113.68h24.46v6.19h-24.46zM198.99 113.68h12.28v6.19h-12.28zM107.64 119.77h12.28v6.19h-12.28zM125.91 119.77h30.55v6.19h-30.55zM174.63 119.77h30.55v6.19h-30.55zM89.37 125.86h6.19v6.19h-6.19zM113.73 125.86h6.19v6.19h-6.19zM132 125.86h73.18v6.19h-73.18zM52.83 131.95h24.46v6.19h-24.46zM83.28 131.95h6.19v6.19h-6.19zM132 131.95h67.09v6.19h-67.09zM65.01 138.04h18.37v6.19h-18.37zM95.46 138.04h6.19v6.19h-6.19zM144.18 138.04h12.28v6.19h-12.28zM168.54 138.04h36.64v6.19h-36.64zM77.19 144.13h6.19v6.19h-6.19zM119.82 144.13h6.19v6.19h-6.19zM138.09 144.13h6.19v6.19h-6.19zM156.36 144.13h6.19v6.19h-6.19zM174.63 144.13h6.19v6.19h-6.19zM186.81 144.13h24.46v6.19h-24.46zM58.92 150.22h6.19v6.19h-6.19zM138.09 150.22h6.19v6.19h-6.19zM156.36 150.22h54.91v6.19h-54.91zM65.01 156.31h6.19v6.19h-6.19zM132 156.31h12.28v6.19h-12.28zM156.36 156.31h24.46v6.19h-24.46zM186.81 156.31h24.46v6.19h-24.46zM107.64 162.4h6.19v6.19h-6.19zM119.82 162.4h30.55v6.19h-30.55zM156.36 162.4h54.91v6.19h-54.91zM65.01 168.49h12.28v6.19h-12.28zM113.73 168.49h6.19v6.19h-6.19zM125.91 168.49h12.28v6.19h-12.28zM144.18 168.49h67.09v6.19h-67.09zM125.91 174.58h36.64v6.19h-36.64zM168.54 174.58h48.82v6.19h-48.82zM192.9 180.67h24.46v6.19h-24.46zM205.08 186.76h12.28v6.19h-12.28zM205.08 192.85h18.37v6.19h-18.37zM211.17 198.94h12.28v6.19h-12.28zM217.26 205.03h6.19v6.19h-6.19zM217.26 211.12h6.19v6.19h-6.19zM217.26 217.21h6.19v6.19h-6.19z" fill="#0000fe"/>
<path d="M290.34 52.78h12.28v6.19h-12.28zM290.34 58.87h18.37v6.19h-18.37zM296.43 64.96h24.46v6.19h-24.46zM302.52 71.05h18.37v6.19h-18.37zM302.52 77.14h18.37v6.19h-18.37zM65.01 83.23h18.37v6.19h-18.37zM253.8 83.23h6.19v6.19h-6.19zM265.98 83.23h12.28v6.19h-12.28zM302.52 83.23h18.37v6.19h-18.37zM156.36 95.41h12.28v6.19h-12.28zM156.36 101.5h6.19v6.19h-6.19zM180.72 101.5h18.37v6.19h-18.37zM156.36 107.59h36.64v6.19h-36.64zM211.17 107.59h6.19v6.19h-6.19zM22.38 113.68h6.19v6.19h-6.19zM34.56 113.68h6.19v6.19h-6.19zM113.73 113.68h6.19v6.19h-6.19zM186.81 113.68h12.28v6.19h-12.28zM34.56 119.77h6.19v6.19h-6.19zM95.46 119.77h6.19v6.19h-6.19zM205.08 119.77h6.19v6.19h-6.19zM28.47 125.86h30.55v6.19h-30.55zM205.08 125.86h6.19v6.19h-6.19zM198.99 131.95h6.19v6.19h-6.19zM205.08 138.04h6.19v6.19h-6.19zM211.17 144.13h6.19v6.19h-6.19zM211.17 150.22h6.19v6.19h-6.19zM211.17 156.31h6.19v6.19h-6.19zM211.17 162.4h6.19v6.19h-6.19zM211.17 168.49h6.19v6.19h-6.19zM217.26 180.67h6.19v6.19h-6.19zM217.26 186.76h18.37v6.19h-18.37zM223.35 192.85h12.28v6.19h-12.28zM223.35 198.94h12.28v6.19h-12.28zM223.35 205.03h6.19v6.19h-6.19zM223.35 211.12h6.19v6.19h-6.19zM223.35 217.21h6.19v6.19h-6.19z" fill="#3560fc"/>
<path d="M107.64 52.78h6.19v6.19h-6.19zM302.52 52.78h18.37v6.19h-18.37zM95.46 58.87h18.37v6.19h-18.37zM308.61 58.87h30.55v6.19h-30.55zM95.46 64.96h12.28v6.19h-12.28zM113.73 64.96h12.28v6.19h-12.28zM320.79 64.96h24.46v6.19h-24.46zM83.28 71.05h12.28v6.19h-12.28zM125.91 71.05h6.19v6.19h-6.19zM320.79 71.05h30.55v6.19h-30.55zM77.19 77.14h12.28v6.19h-12.28zM320.79 77.14h24.46v6.19h-24.46zM150.27 83.23h12.28v6.19h-12.28zM278.16 83.23h12.28v6.19h-12.28zM320.79 83.23h18.37v6.19h-18.37zM65.01 89.32h42.73v6.19h-42.73zM144.18 89.32h12.28v6.19h-12.28zM253.8 89.32h36.64v6.19h-36.64zM65.01 95.41h24.46v6.19h-24.46zM144.18 95.41h12.28v6.19h-12.28zM174.63 95.41h24.46v6.19h-24.46zM223.35 95.41h30.55v6.19h-30.55zM259.89 95.41h12.28v6.19h-12.28zM52.83 101.5h6.19v6.19h-6.19zM144.18 101.5h12.28v6.19h-12.28zM223.35 101.5h12.28v6.19h-12.28zM150.27 107.59h6.19v6.19h-6.19zM217.26 113.68h30.55v6.19h-30.55zM40.65 119.77h6.19v6.19h-6.19zM89.37 119.77h6.19v6.19h-6.19zM58.92 125.86h24.46v6.19h-24.46zM211.17 125.86h6.19v6.19h-6.19zM205.08 131.95h6.19v6.19h-6.19zM211.17 138.04h12.28v6.19h-12.28zM217.26 144.13h6.19v6.19h-6.19zM217.26 150.22h6.19v6.19h-6.19zM217.26 162.4h6.19v6.19h-6.19zM217.26 168.49h6.19v6.19h-6.19zM217.26 174.58h6.19v6.19h-6.19zM89.37 180.67h12.28v6.19h-12.28zM119.82 180.67h24.46v6.19h-24.46zM223.35 180.67h12.28v6.19h-12.28zM119.82 186.76h6.19v6.19h-6.19zM138.09 186.76h12.28v6.19h-12.28zM235.53 186.76h12.28v6.19h-12.28zM235.53 192.85h6.19v6.19h-6.19zM296.43 192.85h12.28v6.19h-12.28zM235.53 198.94h6.19v6.19h-6.19zM290.34 198.94h18.37v6.19h-18.37zM229.44 205.03h6.19v6.19h-6.19zM296.43 205.03h6.19v6.19h-6.19zM229.44 223.3h6.19v6.19h-6.19z" fill="#38a4fd"/>
<path d="M326.88 28.42h18.37v6.19h-18.37zM326.88 34.51h24.46v6.19h-24.46zM308.61 40.6h12.28v6.19h-12.28zM345.15 40.6h6.19v6.19h-6.19zM302.52 46.69h54.91v6.19h-54.91zM326.88 52.78h42.73v6.19h-42.73zM339.06 58.87h61v6.19h-61zM107.64 64.96h6.19v6.19h-6.19zM345.15 64.96h54.91v6.19h-54.91zM95.46 71.05h30.55v6.19h-30.55zM351.24 71.05h24.46v6.19h-24.46zM89.37 77.14h6.19v6.19h-6.19zM345.15 77.14h12.28v6.19h-12.28zM83.28 83.23h12.28v6.19h-12.28zM138.09 83.23h6.19v6.19h-6.19zM290.34 83.23h12.28v6.19h-12.28zM339.06 83.23h12.28v6.19h-12.28zM138.09 89.32h6.19v6.19h-6.19zM156.36 89.32h12.28v6.19h-12.28zM290.34 89.32h6.19v6.19h-6.19zM326.88 89.32h36.64v6.19h-36.64zM89.37 95.41h12.28v6.19h-12.28zM138.09 95.41h6.19v6.19h-6.19zM272.07 95.41h18.37v6.19h-18.37zM58.92 101.5h18.37v6.19h-18.37zM132 101.5h6.19v6.19h-6.19zM235.53 101.5h24.46v6.19h-24.46zM52.83 107.59h6.19v6.19h-6.19zM132 107.59h6.19v6.19h-6.19zM223.35 107.59h18.37v6.19h-18.37zM40.65 113.68h6.19v6.19h-6.19zM46.74 119.77h6.19v6.19h-6.19zM83.28 119.77h6.19v6.19h-6.19zM217.26 119.77h6.19v6.19h-6.19zM229.44 119.77h18.37v6.19h-18.37zM217.26 125.86h24.46v6.19h-24.46zM211.17 131.95h18.37v6.19h-18.37zM217.26 156.31h12.28v6.19h-12.28zM223.35 162.4h6.19v6.19h-6.19zM235.53 168.49h12.28v6.19h-12.28zM107.64 174.58h18.37v6.19h-18.37zM223.35 174.58h24.46v6.19h-24.46zM107.64 180.67h12.28v6.19h-12.28zM150.27 180.67h12.28v6.19h-12.28zM168.54 180.67h6.19v6.19h-6.19zM235.53 180.67h18.37v6.19h-18.37zM150.27 186.76h6.19v6.19h-6.19zM247.71 186.76h6.19v6.19h-6.19zM241.62 192.85h6.19v6.19h-6.19zM290.34 192.85h6.19v6.19h-6.19zM168.54 198.94h12.28v6.19h-12.28zM241.62 198.94h6.19v6.19h-6.19zM284.25 198.94h6.19v6.19h-6.19zM235.53 205.03h6.19v6.19h-6.19zM272.07 205.03h24.46v6.19h-24.46zM229.44 211.12h6.19v6.19h-6.19zM272.07 211.12h24.46v6.19h-24.46zM229.44 217.21h12.28v6.19h-12.28zM235.53 223.3h12.28v6.19h-12.28zM241.62 229.39h6.19v6.19h-6.19z" fill="#00ffff"/>
<path d="M314.7 28.42h12.28v6.19h-12.28zM314.7 34.51h12.28v6.19h-12.28zM326.88 40.6h12.28v6.19h-12.28zM375.6 71.05h24.46v6.19h-24.46zM95.46 77.14h24.46v6.19h-24.46zM357.33 77.14h36.64v6.19h-36.64zM95.46 83.23h42.73v6.19h-42.73zM351.24 83.23h30.55v6.19h-30.55zM107.64 89.32h6.19v6.19h-6.19zM132 89.32h6.19v6.19h-6.19zM296.43 89.32h24.46v6.19h-24.46zM101.55 95.41h36.64v6.19h-36.64zM290.34 95.41h18.37v6.19h-18.37zM77.19 101.5h12.28v6.19h-12.28zM101.55 101.5h30.55v6.19h-30.55zM259.89 101.5h18.37v6.19h-18.37zM58.92 107.59h6.19v6.19h-6.19zM241.62 107.59h6.19v6.19h-6.19zM46.74 113.68h24.46v6.19h-24.46zM77.19 113.68h12.28v6.19h-12.28zM65.01 119.77h6.19v6.19h-6.19zM223.35 119.77h6.19v6.19h-6.19zM247.71 119.77h6.19v6.19h-6.19zM241.62 125.86h6.19v6.19h-6.19zM229.44 131.95h12.28v6.19h-12.28zM223.35 138.04h12.28v6.19h-12.28zM223.35 144.13h6.19v6.19h-6.19zM223.35 150.22h12.28v6.19h-12.28zM229.44 156.31h12.28v6.19h-12.28zM229.44 162.4h18.37v6.19h-18.37zM223.35 168.49h12.28v6.19h-12.28zM247.71 168.49h6.19v6.19h-6.19zM247.71 174.58h12.28v6.19h-12.28zM162.45 180.67h6.19v6.19h-6.19zM174.63 180.67h12.28v6.19h-12.28zM253.8 180.67h6.19v6.19h-6.19zM174.63 186.76h6.19v6.19h-6.19zM253.8 186.76h6.19v6.19h-6.19zM290.34 186.76h24.46v6.19h-24.46zM174.63 192.85h6.19v6.19h-6.19zM247.71 192.85h12.28v6.19h-12.28zM284.25 192.85h6.19v6.19h-6.19zM180.72 198.94h6.19v6.19h-6.19zM247.71 198.94h36.64v6.19h-36.64zM168.54 205.03h12.28v6.19h-12.28zM241.62 205.03h30.55v6.19h-30.55zM235.53 211.12h36.64v6.19h-36.64zM241.62 217.21h24.46v6.19h-24.46zM272.07 217.21h12.28v6.19h-12.28zM247.71 223.3h12.28v6.19h-12.28z" fill="#96ffb4"/>
<path d="M113.73 89.32h18.37v6.19h-18.37zM320.79 89.32h6.19v6.19h-6.19zM308.61 95.41h12.28v6.19h-12.28zM339.06 95.41h36.64v6.19h-36.64zM89.37 101.5h12.28v6.19h-12.28zM278.16 101.5h12.28v6.19h-12.28zM339.06 101.5h18.37v6.19h-18.37zM65.01 107.59h30.55v6.19h-30.55zM101.55 107.59h12.28v6.19h-12.28zM247.71 107.59h24.46v6.19h-24.46zM339.06 107.59h6.19v6.19h-6.19zM247.71 113.68h6.19v6.19h-6.19zM253.8 119.77h6.19v6.19h-6.19zM247.71 125.86h12.28v6.19h-12.28zM241.62 131.95h18.37v6.19h-18.37zM235.53 138.04h12.28v6.19h-12.28zM229.44 144.13h18.37v6.19h-18.37zM253.8 144.13h6.19v6.19h-6.19zM235.53 150.22h24.46v6.19h-24.46zM241.62 156.31h18.37v6.19h-18.37zM247.71 162.4h12.28v6.19h-12.28zM253.8 168.49h6.19v6.19h-6.19zM186.81 180.67h6.19v6.19h-6.19zM259.89 180.67h12.28v6.19h-12.28zM284.25 180.67h36.64v6.19h-36.64zM180.72 186.76h18.37v6.19h-18.37zM259.89 186.76h30.55v6.19h-30.55zM180.72 192.85h6.19v6.19h-6.19zM259.89 192.85h24.46v6.19h-24.46zM205.08 198.94h6.19v6.19h-6.19zM180.72 205.03h6.19v6.19h-6.19zM198.99 205.03h18.37v6.19h-18.37zM174.63 211.12h42.73v6.19h-42.73zM192.9 217.21h24.46v6.19h-24.46zM265.98 217.21h6.19v6.19h-6.19z" fill="#ccff66"/>
<path d="M363.42 89.32h12.28v6.19h-12.28zM320.79 95.41h18.37v6.19h-18.37zM290.34 101.5h36.64v6.19h-36.64zM332.97 101.5h6.19v6.19h-6.19zM272.07 107.59h6.19v6.19h-6.19zM332.97 107.59h6.19v6.19h-6.19zM253.8 113.68h18.37v6.19h-18.37zM326.88 113.68h12.28v6.19h-12.28zM259.89 119.77h12.28v6.19h-12.28zM259.89 125.86h12.28v6.19h-12.28zM314.7 125.86h12.28v6.19h-12.28zM259.89 131.95h6.19v6.19h-6.19zM247.71 138.04h18.37v6.19h-18.37zM247.71 144.13h6.19v6.19h-6.19zM259.89 144.13h6.19v6.19h-6.19zM259.89 150.22h6.19v6.19h-6.19zM302.52 150.22h12.28v6.19h-12.28zM259.89 156.31h6.19v6.19h-6.19zM308.61 156.31h12.28v6.19h-12.28zM259.89 162.4h6.19v6.19h-6.19zM278.16 162.4h6.19v6.19h-6.19zM314.7 162.4h6.19v6.19h-6.19zM259.89 168.49h12.28v6.19h-12.28zM278.16 168.49h42.73v6.19h-42.73zM259.89 174.58h61v6.19h-61zM272.07 180.67h12.28v6.19h-12.28zM198.99 186.76h6.19v6.19h-6.19zM186.81 192.85h18.37v6.19h-18.37zM186.81 198.94h18.37v6.19h-18.37zM186.81 205.03h12.28v6.19h-12.28zM180.72 217.21h12.28v6.19h-12.28zM186.81 223.3h12.28v6.19h-12.28z" fill="#ffff00"/>
<path d="M326.88 101.5h6.19v6.19h-6.19zM278.16 107.59h6.19v6.19h-6.19zM296.43 107.59h18.37v6.19h-18.37zM320.79 107.59h12.28v6.19h-12.28zM272.07 113.68h6.19v6.19h-6.19zM314.7 113.68h12.28v6.19h-12.28zM272.07 119.77h6.19v6.19h-6.19zM272.07 125.86h6.19v6.19h-6.19zM308.61 125.86h6.19v6.19h-6.19zM265.98 131.95h12.28v6.19h-12.28zM302.52 131.95h18.37v6.19h-18.37zM265.98 138.04h12.28v6.19h-12.28zM296.43 138.04h18.37v6.19h-18.37zM265.98 144.13h18.37v6.19h-18.37zM290.34 144.13h24.46v6.19h-24.46zM265.98 150.22h36.64v6.19h-36.64zM265.98 156.31h42.73v6.19h-42.73zM265.98 162.4h12.28v6.19h-12.28zM284.25 162.4h30.55v6.19h-30.55zM272.07 168.49h6.19v6.19h-6.19z" fill="#ffb400"/>
<path d="M284.25 107.59h12.28v6.19h-12.28zM278.16 113.68h6.19v6.19h-6.19zM302.52 113.68h6.19v6.19h-6.19zM278.16 119.77h6.19v6.19h-6.19zM278.16 125.86h24.46v6.19h-24.46zM278.16 131.95h24.46v6.19h-24.46zM278.16 138.04h18.37v6.19h-18.37zM284.25 144.13h6.19v6.19h-6.19z" fill="#ff6f00"/>
<path d="M284.25 113.68h18.37v6.19h-18.37zM284.25 119.77h12.28v6.19h-12.28zM247.71 229.39h6.19v6.19h-6.19z" fill="#ff0000"/>
<path d="M320.79 40.6h6.19v6.19h-6.19zM339.06 40.6h6.19v6.19h-6.19zM320.79 52.78h6.19v6.19h-6.19zM119.82 77.14h6.19v6.19h-6.19zM125.91 77.14h6.19v6.19h-6.19zM144.18 83.23h6.19v6.19h-6.19zM259.89 83.23h6.19v6.19h-6.19zM168.54 95.41h6.19v6.19h-6.19zM253.8 95.41h6.19v6.19h-6.19zM138.09 101.5h6.19v6.19h-6.19zM174.63 101.5h6.19v6.19h-6.19zM198.99 101.5h6.19v6.19h-6.19zM205.08 101.5h6.19v6.19h-6.19zM211.17 101.5h6.19v6.19h-6.19zM217.26 101.5h6.19v6.19h-6.19zM34.56 107.59h6.19v6.19h-6.19zM40.65 107.59h6.19v6.19h-6.19zM46.74 107.59h6.19v6.19h-6.19zM95.46 107.59h6.19v6.19h-6.19zM113.73 107.59h6.19v6.19h-6.19zM119.82 107.59h6.19v6.19h-6.19zM125.91 107.59h6.19v6.19h-6.19zM138.09 107.59h6.19v6.19h-6.19zM144.18 107.59h6.19v6.19h-6.19zM192.9 107.59h6.19v6.19h-6.19zM198.99 107.59h6.19v6.19h-6.19zM217.26 107.59h6.19v6.19h-6.19zM28.47 113.68h6.19v6.19h-6.19zM71.1 113.68h6.19v6.19h-6.19zM89.37 113.68h6.19v6.19h-6.19zM95.46 113.68h6.19v6.19h-6.19zM101.55 113.68h6.19v6.19h-6.19zM107.64 113.68h6.19v6.19h-6.19zM119.82 113.68h6.19v6.19h-6.19zM125.91 113.68h6.19v6.19h-6.19zM132 113.68h6.19v6.19h-6.19zM138.09 113.68h6.19v6.19h-6.19zM156.36 113.68h6.19v6.19h-6.19zM211.17 113.68h6.19v6.19h-6.19zM28.47 119.77h6.19v6.19h-6.19zM52.83 119.77h6.19v6.19h-6.19zM58.92 119.77h6.19v6.19h-6.19zM71.1 119.77h6.19v6.19h-6.19zM77.19 119.77h6.19v6.19h-6.19zM101.55 119.77h6.19v6.19h-6.19zM119.82 119.77h6.19v6.19h-6.19zM156.36 119.77h6.19v6.19h-6.19zM162.45 119.77h6.19v6.19h-6.19zM168.54 119.77h6.19v6.19h-6.19zM211.17 119.77h6.19v6.19h-6.19zM83.28 125.86h6.19v6.19h-6.19zM95.46 125.86h6.19v6.19h-6.19zM101.55 125.86h6.19v6.19h-6.19zM107.64 125.86h6.19v6.19h-6.19zM119.82 125.86h6.19v6.19h-6.19zM125.91 125.86h6.19v6.19h-6.19zM34.56 131.95h6.19v6.19h-6.19zM40.65 131.95h6.19v6.19h-6.19zM46.74 131.95h6.19v6.19h-6.19zM77.19 131.95h6.19v6.19h-6.19zM89.37 131.95h6.19v6.19h-6.19zM95.46 131.95h6.19v6.19h-6.19zM101.55 131.95h6.19v6.19h-6.19zM107.64 131.95h6.19v6.19h-6.19zM113.73 131.95h6.19v6.19h-6.19zM119.82 131.95h6.19v6.19h-6.19zM125.91 131.95h6.19v6.19h-6.19zM46.74 138.04h6.19v6.19h-6.19zM52.83 138.04h6.19v6.19h-6.19zM58.92 138.04h6.19v6.19h-6.19zM83.28 138.04h6.19v6.19h-6.19zM89.37 138.04h6.19v6.19h-6.19zM101.55 138.04h6.19v6.19h-6.19zM107.64 138.04h6.19v6.19h-6.19zM113.73 138.04h6.19v6.19h-6.19zM119.82 138.04h6.19v6.19h-6.19zM125.91 138.04h6.19v6.19h-6.19zM132 138.04h6.19v6.19h-6.19zM138.09 138.04h6.19v6.19h-6.19zM156.36 138.04h6.19v6.19h-6.19zM162.45 138.04h6.19v6.19h-6.19zM52.83 144.13h6.19v6.19h-6.19zM58.92 144.13h6.19v6.19h-6.19zM65.01 144.13h6.19v6.19h-6.19zM71.1 144.13h6.19v6.19h-6.19zM83.28 144.13h6.19v6.19h-6.19zM89.37 144.13h6.19v6.19h-6.19zM95.46 144.13h6.19v6.19h-6.19zM101.55 144.13h6.19v6.19h-6.19zM107.64 144.13h6.19v6.19h-6.19zM113.73 144.13h6.19v6.19h-6.19zM125.91 144.13h6.19v6.19h-6.19zM132 144.13h6.19v6.19h-6.19zM144.18 144.13h6.19v6.19h-6.19zM150.27 144.13h6.19v6.19h-6.19zM162.45 144.13h6.19v6.19h-6.19zM168.54 144.13h6.19v6.19h-6.19zM180.72 144.13h6.19v6.19h-6.19zM65.01 150.22h6.19v6.19h-6.19zM71.1 150.22h6.19v6.19h-6.19zM77.19 150.22h6.19v6.19h-6.19zM83.28 150.22h6.19v6.19h-6.19zM89.37 150.22h6.19v6.19h-6.19zM95.46 150.22h6.19v6.19h-6.19zM101.55 150.22h6.19v6.19h-6.19zM107.64 150.22h6.19v6.19h-6.19zM113.73 150.22h6.19v6.19h-6.19zM119.82 150.22h6.19v6.19h-6.19zM125.91 150.22h6.19v6.19h-6.19zM132 150.22h6.19v6.19h-6.19zM144.18 150.22h6.19v6.19h-6.19zM150.27 150.22h6.19v6.19h-6.19zM52.83 156.31h6.19v6.19h-6.19zM58.92 156.31h6.19v6.19h-6.19zM71.1 156.31h6.19v6.19h-6.19zM77.19 156.31h6.19v6.19h-6.19zM83.28 156.31h6.19v6.19h-6.19zM89.37 156.31h6.19v6.19h-6.19zM95.46 156.31h6.19v6.19h-6.19zM101.55 156.31h6.19v6.19h-6.19zM107.64 156.31h6.19v6.19h-6.19zM113.73 156.31h6.19v6.19h-6.19zM119.82 156.31h6.19v6.19h-6.19zM125.91 156.31h6.19v6.19h-6.19zM144.18 156.31h6.19v6.19h-6.19zM150.27 156.31h6.19v6.19h-6.19zM180.72 156.31h6.19v6.19h-6.19zM58.92 162.4h6.19v6.19h-6.19zM65.01 162.4h6.19v6.19h-6.19zM71.1 162.4h6.19v6.19h-6.19zM77.19 162.4h6.19v6.19h-6.19zM83.28 162.4h6.19v6.19h-6.19zM89.37 162.4h6.19v6.19h-6.19zM95.46 162.4h6.19v6.19h-6.19zM101.55 162.4h6.19v6.19h-6.19zM113.73 162.4h6.19v6.19h-6.19zM150.27 162.4h6.19v6.19h-6.19zM77.19 168.49h6.19v6.19h-6.19zM83.28 168.49h6.19v6.19h-6.19zM89.37 168.49h6.19v6.19h-6.19zM95.46 168.49h6.19v6.19h-6.19zM101.55 168.49h6.19v6.19h-6.19zM107.64 168.49h6.19v6.19h-6.19zM119.82 168.49h6.19v6.19h-6.19zM138.09 168.49h6.19v6.19h-6.19zM77.19 174.58h6.19v6.19h-6.19zM83.28 174.58h6.19v6.19h-6.19zM89.37 174.58h6.19v6.19h-6.19zM95.46 174.58h6.19v6.19h-6.19zM101.55 174.58h6.19v6.19h-6.19zM162.45 174.58h6.19v6.19h-6.19zM101.55 180.67h6.19v6.19h-6.19zM144.18 180.67h6.19v6.19h-6.19z" fill="#fff"/>
<path d="M320.79 40.6h6.19v6.19h-6.19zM339.06 40.6h6.19v6.19h-6.19zM320.79 52.78h6.19v6.19h-6.19zM119.82 77.14h6.19v6.19h-6.19zM125.91 77.14h6.19v6.19h-6.19zM144.18 83.23h6.19v6.19h-6.19zM259.89 83.23h6.19v6.19h-6.19zM168.54 95.41h6.19v6.19h-6.19zM253.8 95.41h6.19v6.19h-6.19zM138.09 101.5h6.19v6.19h-6.19zM174.63 101.5h6.19v6.19h-6.19zM198.99 101.5h6.19v6.19h-6.19zM205.08 101.5h6.19v6.19h-6.19zM211.17 101.5h6.19v6.19h-6.19zM217.26 101.5h6.19v6.19h-6.19zM34.56 107.59h6.19v6.19h-6.19zM40.65 107.59h6.19v6.19h-6.19zM46.74 107.59h6.19v6.19h-6.19zM95.46 107.59h6.19v6.19h-6.19zM113.73 107.59h6.19v6.19h-6.19zM119.82 107.59h6.19v6.19h-6.19zM125.91 107.59h6.19v6.19h-6.19zM138.09 107.59h6.19v6.19h-6.19zM144.18 107.59h6.19v6.19h-6.19zM192.9 107.59h6.19v6.19h-6.19zM198.99 107.59h6.19v6.19h-6.19zM217.26 107.59h6.19v6.19h-6.19zM28.47 113.68h6.19v6.19h-6.19zM71.1 113.68h6.19v6.19h-6.19zM89.37 113.68h6.19v6.19h-6.19zM95.46 113.68h6.19v6.19h-6.19zM101.55 113.68h6.19v6.19h-6.19zM107.64 113.68h6.19v6.19h-6.19zM119.82 113.68h6.19v6.19h-6.19zM125.91 113.68h6.19v6.19h-6.19zM132 113.68h6.19v6.19h-6.19zM138.09 113.68h6.19v6.19h-6.19zM156.36 113.68h6.19v6.19h-6.19zM211.17 113.68h6.19v6.19h-6.19zM28.47 119.77h6.19v6.19h-6.19zM52.83 119.77h6.19v6.19h-6.19zM58.92 119.77h6.19v6.19h-6.19zM71.1 119.77h6.19v6.19h-6.19zM77.19 119.77h6.19v6.19h-6.19zM101.55 119.77h6.19v6.19h-6.19zM119.82 119.77h6.19v6.19h-6.19zM156.36 119.77h6.19v6.19h-6.19zM162.45 119.77h6.19v6.19h-6.19zM168.54 119.77h6.19v6.19h-6.19zM211.17 119.77h6.19v6.19h-6.19zM83.28 125.86h6.19v6.19h-6.19zM95.46 125.86h6.19v6.19h-6.19zM101.55 125.86h6.19v6.19h-6.19zM107.64 125.86h6.19v6.19h-6.19zM119.82 125.86h6.19v6.19h-6.19zM125.91 125.86h6.19v6.19h-6.19zM34.56 131.95h6.19v6.19h-6.19zM40.65 131.95h6.19v6.19h-6.19zM46.74 131.95h6.19v6.19h-6.19zM77.19 131.95h6.19v6.19h-6.19zM89.37 131.95h6.19v6.19h-6.19zM95.46 131.95h6.19v6.19h-6.19zM101.55 131.95h6.19v6.19h-6.19zM107.64 131.95h6.19v6.19h-6.19zM113.73 131.95h6.19v6.19h-6.19zM119.82 131.95h6.19v6.19h-6.19zM125.91 131.95h6.19v6.19h-6.19zM46.74 138.04h6.19v6.19h-6.19zM52.83 138.04h6.19v6.19h-6.19zM58.92 138.04h6.19v6.19h-6.19zM83.28 138.04h6.19v6.19h-6.19zM89.37 138.04h6.19v6.19h-6.19zM101.55 138.04h6.19v6.19h-6.19zM107.64 138.04h6.19v6.19h-6.19zM113.73 138.04h6.19v6.19h-6.19zM119.82 138.04h6.19v6.19h-6.19zM125.91 138.04h6.19v6.19h-6.19zM132 138.04h6.19v6.19h-6.19zM138.09 138.04h6.19v6.19h-6.19zM156.36 138.04h6.19v6.19h-6.19zM162.45 138.04h6.19v6.19h-6.19zM52.83 144.13h6.19v6.19h-6.19zM58.92 144.13h6.19v6.19h-6.19zM65.01 144.13h6.19v6.19h-6.19zM71.1 144.13h6.19v6.19h-6.19zM83.28 144.13h6.19v6.19h-6.19zM89.37 144.13h6.19v6.19h-6.19zM95.46 144.13h6.19v6.19h-6.19zM101.55 144.13h6.19v6.19h-6.19zM107.64 144.13h6.19v6.19h-6.19zM113.73 144.13h6.19v6.19h-6.19zM125.91 144.13h6.19v6.19h-6.19zM132 144.13h6.19v6.19h-6.19zM144.18 144.13h6.19v6.19h-6.19zM150.27 144.13h6.19v6.19h-6.19zM162.45 144.13h6.19v6.19h-6.19zM168.54 144.13h6.19v6.19h-6.19zM180.72 144.13h6.19v6.19h-6.19zM65.01 150.22h6.19v6.19h-6.19zM71.1 150.22h6.19v6.19h-6.19zM77.19 150.22h6.19v6.19h-6.19zM83.28 150.22h6.19v6.19h-6.19zM89.37 150.22h6.19v6.19h-6.19zM95.46 150.22h6.19v6.19h-6.19zM101.55 150.22h6.19v6.19h-6.19zM107.64 150.22h6.19v6.19h-6.19zM113.73 150.22h6.19v6.19h-6.19zM119.82 150.22h6.19v6.19h-6.19zM125.91 150.22h6.19v6.19h-6.19zM132 150.22h6.19v6.19h-6.19zM144.18 150.22h6.19v6.19h-6.19zM150.27 150.22h6.19v6.19h-6.19zM52.83 156.31h6.19v6.19h-6.19zM58.92 156.31h6.19v6.19h-6.19zM71.1 156.31h6.19v6.19h-6.19zM77.19 156.31h6.19v6.19h-6.19zM83.28 156.31h6.19v6.19h-6.19zM89.37 156.31h6.19v6.19h-6.19zM95.46 156.31h6.19v6.19h-6.19zM101.55 156.31h6.19v6.19h-6.19zM107.64 156.31h6.19v6.19h-6.19zM113.73 156.31h6.19v6.19h-6.19zM119.82 156.31h6.19v6.19h-6.19zM125.91 156.31h6.19v6.19h-6.19zM144.18 156.31h6.19v6.19h-6.19zM150.27 156.31h6.19v6.19h-6.19zM180.72 156.31h6.19v6.19h-6.19zM58.92 162.4h6.19v6.19h-6.19zM65.01 162.4h6.19v6.19h-6.19zM71.1 162.4h6.19v6.19h-6.19zM77.19 162.4h6.19v6.19h-6.19zM83.28 162.4h6.19v6.19h-6.19zM89.37 162.4h6.19v6.19h-6.19zM95.46 162.4h6.19v6.19h-6.19zM101.55 162.4h6.19v6.19h-6.19zM113.73 162.4h6.19v6.19h-6.19zM150.27 162.4h6.19v6.19h-6.19zM77.19 168.49h6.19v6.19h-6.19zM83.28 168.49h6.19v6.19h-6.19zM89.37 168.49h6.19v6.19h-6.19zM95.46 168.49h6.19v6.19h-6.19zM101.55 168.49h6.19v6.19h-6.19zM107.64 168.49h6.19v6.19h-6.19zM119.82 168.49h6.19v6.19h-6.19zM138.09 168.49h6.19v6.19h-6.19zM77.19 174.58h6.19v6.19h-6.19zM83.28 174.58h6.19v6.19h-6.19zM89.37 174.58h6.19v6.19h-6.19zM95.46 174.58h6.19v6.19h-6.19zM101.55 174.58h6.19v6.19h-6.19zM162.45 174.58h6.19v6.19h-6.19zM101.55 180.67h6.19v6.19h-6.19zM144.18 180.67h6.19v6.19h-6.19z" fill="url(#hatch)" stroke="#8a8a8a" stroke-width=".4"/>
<path d="M314.75 28.47h30.45M314.75 34.56h36.54M308.66 40.65h42.63M302.57 46.74h54.81M107.69 52.83h6.09M284.3 52.83h85.26M95.51 58.92h18.27M278.21 58.92h121.8M95.51 65.01h30.45M278.21 65.01h121.8M83.33 71.1h48.72M284.3 71.1h115.71M77.24 77.19h54.81M278.21 77.19h121.8M65.06 83.28h97.44M253.85 83.28h140.07M65.06 89.37h103.53M253.85 89.37h127.89M65.06 95.46h133.98M223.4 95.46h152.25M52.88 101.55h322.77M34.61 107.64h322.77M22.43 113.73h322.77M22.43 119.82h286.23M314.75 119.82h24.36M28.52 125.91h274.05M308.66 125.91h18.27M28.52 132h298.41M34.61 138.09h286.23M46.79 144.18h267.96M52.88 150.27h261.87M52.88 156.36h267.96M52.88 162.45h267.96M58.97 168.54h261.87M65.06 174.63h255.78M77.24 180.72h243.6M89.42 186.81h231.42M119.87 192.9h6.09M138.14 192.9h18.27M174.68 192.9h140.07M168.59 198.99h140.07M168.59 205.08h140.07M168.59 211.17h133.98M174.68 217.26h121.8M180.77 223.35h103.53M186.86 229.44h12.18M229.49 229.44h30.45M241.67 235.53h12.18M22.43 113.73v6.09M28.52 113.73v18.27M34.61 107.64v30.45M40.7 107.64v30.45M46.79 107.64v36.54M52.88 101.55v48.72M52.88 156.36v6.09M58.97 101.55v66.99M65.06 83.28v91.35M71.15 83.28v91.35M77.24 77.19v103.53M83.33 71.1v109.62M89.42 71.1v115.71M95.51 58.92v127.89M101.6 58.92v127.89M107.69 52.83v133.98M113.78 52.83v133.98M119.87 65.01v127.89M125.96 65.01v127.89M132.05 71.1v115.71M138.14 83.28v109.62M144.23 83.28v109.62M150.32 83.28v109.62M156.41 83.28v109.62M162.5 83.28v103.53M168.59 89.37v97.44M168.59 198.99v12.18M174.68 95.46v121.8M180.77 95.46v127.89M186.86 95.46v133.98M192.95 95.46v133.98M199.04 95.46v133.98M205.13 101.55v121.8M211.22 101.55v121.8M217.31 101.55v121.8M223.4 95.46v127.89M229.49 95.46v133.98M235.58 95.46v133.98M241.67 95.46v140.07M247.76 95.46v140.07M253.85 83.28v152.25M259.94 83.28v146.16M266.03 83.28v140.07M272.12 83.28v140.07M278.21 58.92v6.09M278.21 77.19v146.16M284.3 52.83v170.52M290.39 52.83v164.43M296.48 52.83v164.43M302.57 46.74v73.08M302.57 125.91v85.26M308.66 40.65v79.17M308.66 125.91v79.17M314.75 28.47v91.35M314.75 125.91v66.99M320.84 28.47v91.35M320.84 125.91v12.18M320.84 156.36v30.45M326.93 28.47v91.35M326.93 125.91v6.09M333.02 28.47v91.35M339.11 28.47v91.35M345.2 28.47v85.26M351.29 34.56v73.08M357.38 46.74v60.9M363.47 52.83v48.72M369.56 52.83v48.72M375.65 58.92v42.63M381.74 58.92v30.45M387.83 58.92v24.36M393.92 58.92v24.36M400.01 58.92v18.27" fill="none" stroke="#6e6e6e" stroke-opacity=".85" stroke-width=".48"/>
</g>
<polygon points="25.9,117.5 27.5,113.7 31.3,112.5 34.5,110.9 38.9,110.2 43.4,109.3 46.5,107.1 51.6,107.6 54.2,105.5 59.9,103.3 65.6,101.7 66.8,96 68.7,94.1 67.5,89.6 64.9,84.5 66.8,83.3 75.1,81.8 80.2,82 78.9,79.5 81.4,74.4 83.3,70.3 87.1,71.2 99.2,70.8 98.6,64.3 105.5,61.7 107.4,58.5 112.5,58.2 113.8,61.7 118.2,64 125.8,65.5 129.6,68.1 132.2,73.1 131.5,76.9 132.8,80.7 138,82.6 138,82.6 145.6,83.3 150.7,85.8 157,88.4 160.2,90.9 163.4,95.3 168.4,96.6 176.1,97.2 188.7,97.2 196.4,97.9 200.2,99.8 206.5,102.3 214.1,103.3 219.2,102.9 225.5,100.4 231.9,99.1 239.5,99.1 247.1,97.9 252,95.3 255.1,92.8 257,89.6 257,85.8 259.6,83.3 265.3,83.9 272.3,82.6 276.1,80.7 280.5,81.4 286.2,77.6 293.8,73.8 297.6,73.1 307.1,71.9 305.2,68.7 298.9,66.2 292.5,67.4 288.7,65.5 283.7,66.8 281.8,64.3 286.2,57.3 288.7,54.1 290.6,56 297.6,54.1 303.3,52.8 305.2,49 310.3,42.1 314.1,39.5 309,37 311.6,34.4 319.2,32.3 331.9,31.3 342,33.8 348.4,38.9 352.2,46.5 354.7,54.1 361,56 368.7,58.5 373.7,62.3 376.3,66.8 383.9,65.5 391.5,64 399.7,62.7 397.8,66.8 395.9,71.9 391.5,78.2 388.3,82.6 383.2,80.7 377.5,83.3 376.9,89.6 376.3,96 372.5,97.9 368.7,96 364.8,99.1 358.5,102.3 354.7,104.8 350.3,102.9 346.1,107.4 341.9,109.6 337.7,112.2 333.4,114.8 329.2,115.9 326,117 327.6,118.5 323.9,119.6 320.7,119.1 318.1,120.7 315.5,121.2 314.4,120.1 317.6,118.5 317,115.4 320.2,113.8 321.8,110.6 319.7,109 316,109 312.3,111.7 309.1,113.8 305.9,116.4 302.8,118 298.5,119.1 295.4,120.1 294.3,122.8 295.9,124.9 300.7,125.4 303.8,127 302.2,129.1 304.9,131.2 308.1,130.7 311.2,128.6 312.8,126.5 316.5,128.1 320.7,129.6 324.4,129.6 323.9,132.3 320.7,132.8 319.7,131.2 316.5,133.3 313.3,135.5 310.7,138.1 307,141.8 303.8,144.4 305.9,146.6 309.6,148.7 311.8,152.4 313.3,156.1 315.5,158.7 318.1,161.9 320.2,165.1 320.7,168.8 320.3,169.8 324.1,170.4 322.2,174.2 320.9,179.3 319.6,182.5 317.1,185.6 314.5,189.4 312,192 308.8,195.1 306.9,199.6 304.4,202.7 300.6,205.9 296.8,209.1 293,212.3 288.5,215.4 282.8,218 277.8,220.5 272.7,222.4 268.9,224.3 263.9,224.1 258.8,225.4 252.5,226 251.2,228.5 250.6,234 246.7,233.6 246.1,227.3 242.3,226 237.2,226 232.2,224.7 227.7,222.2 225.8,217.8 220.7,217.1 218.2,215.9 215.7,217.1 210.6,218.8 204.9,219.7 199.8,220.9 197.3,224.1 197.3,228.2 194.1,228.2 192.8,225.4 187.8,226 186.5,223.5 182.1,222.6 182.7,217.8 180.8,214.6 178.9,212.1 171.9,210.1 172.9,205.9 176.1,202.1 178.8,197 178.3,192 176.1,186.9 172.9,184.1 171.2,187.5 167.2,186.6 160.8,185.6 155.8,187.5 150.7,189.4 145.6,192 141.8,193.9 139.3,193.2 137.4,190.7 133.6,187.5 127.3,186.9 122.2,188.2 119.7,190.7 115.9,188.2 110.8,187.5 105.7,187.5 101.3,186.3 95.6,183.1 90.5,181.2 85.4,178 81.6,175.5 76.5,172.3 72.1,174.2 67.7,171 62.6,168.5 58.2,165.3 56.9,162.2 55.6,159.2 58.2,155.2 58.8,150.7 56.3,148.2 53.7,143.8 50.5,140 45.5,138.7 41,136.8 38.5,133.6 34.7,131.7 31.5,131.1 33.9,127.6 33.9,127.7 33.2,123.2 26.9,121.3" fill="none" stroke="#666" stroke-width=".9" stroke-linejoin="round"/>
<polyline points="320.3,169.8 324.1,170.4 322.2,174.2 320.9,179.3 319.6,182.5 317.1,185.6 314.5,189.4 312,192 308.8,195.1 306.9,199.6 304.4,202.7 300.6,205.9 296.8,209.1 293,212.3 288.5,215.4 282.8,218 277.8,220.5 272.7,222.4 268.9,224.3 263.9,224.1 258.8,225.4 252.5,226 251.2,228.5 250.6,234 246.7,233.6 246.1,227.3 242.3,226 237.2,226 232.2,224.7 227.7,222.2 225.8,217.8 220.7,217.1 218.2,215.9 215.7,217.1 210.6,218.8 204.9,219.7 199.8,220.9" fill="none" stroke="#606060" stroke-width="1.1" stroke-linejoin="round"/>
<g clip-path="url(#tw)">
<rect x="308.66" y="198.99" width="6.14" height="6.14" fill="#3560fc"/>
<rect x="314.75" y="198.99" width="6.14" height="6.14" fill="#3560fc"/>
<rect x="302.57" y="205.08" width="6.14" height="6.14" fill="#3560fc"/>
<rect x="308.66" y="205.08" width="6.14" height="6.14" fill="#3560fc"/>
<rect x="314.75" y="205.08" width="6.14" height="6.14" fill="#3560fc"/>
<rect x="302.57" y="211.17" width="6.14" height="6.14" fill="#ff6f00"/>
<rect x="308.66" y="211.17" width="6.14" height="6.14" fill="#ff6f00"/>
<rect x="314.75" y="211.17" width="6.14" height="6.14" fill="#ffb400"/>
<rect x="302.57" y="217.26" width="6.14" height="6.14" fill="#ff6f00"/>
<rect x="308.66" y="217.26" width="6.14" height="6.14" fill="#ff6f00"/>
<rect x="314.75" y="217.26" width="6.14" height="6.14" fill="#ff6f00"/>
<rect x="308.66" y="223.35" width="6.14" height="6.14" fill="#ff6f00"/>
<path d="M308.66 200v30M314.75 200v30M305 205.08h20M305 211.17h20M305 217.26h20M305 223.35h20" stroke="#6e6e6e" stroke-opacity=".85" stroke-width=".48"/>
</g>
<polygon points="314.2,205 317.9,203.6 320.5,205 319.6,208.8 318.2,211.6 317,215.7 314.7,219.7 313.3,225.2 311.9,222 309.6,218 309,214.5 310.4,211.1 312.4,207.6" fill="none" stroke="#666" stroke-width=".8"/>
<path d="M304.6 213.2l1.6-.2.5 1.4-.9 1.6-1.6.2.6-1.5z" fill="#333"/>
<g clip-path="url(#hn)">
<rect x="237.4" y="233.1" width="20" height="16" fill="#ff6f00"/>
<path d="M241.67 230v30M247.76 230v30M253.85 230v30M230 235.53h30M230 241.62h30" stroke="#6e6e6e" stroke-opacity=".85" stroke-width=".48"/>
</g>
<polygon points="239.4,239.7 242.3,236.9 245.7,235.4 249.7,235.1 253.5,236 253.2,238 250.9,242.6 248,244.9 245.1,246.6 242.3,246.1 239.4,244.3" fill="none" stroke="#666" stroke-width=".8"/>
<text x="29.1" y="222.6" font-size="11.1" textLength="23.6" lengthAdjust="spacingAndGlyphs">XCO</text><text x="53.1" y="224.6" font-size="7.3" textLength="14.8" lengthAdjust="spacingAndGlyphs">2ano</text><text x="68.3" y="222.6" font-size="11.1" textLength="27.9" lengthAdjust="spacingAndGlyphs">(ppm)</text>
<rect x="23.6" y="230.9" width="28.2" height="13.9" fill="#0000fe" stroke="#b0a8a0" stroke-width=".5"/>
<text x="56.7" y="241.7" font-size="10.4" lengthAdjust="spacingAndGlyphs" textLength="63.8">−1.55 − −0.57</text>
<rect x="23.6" y="250" width="28.2" height="13.9" fill="#3560fc" stroke="#b0a8a0" stroke-width=".5"/>
<text x="56.7" y="260.8" font-size="10.4" lengthAdjust="spacingAndGlyphs" textLength="63.8">−0.56 − −0.16</text>
<rect x="23.6" y="269.1" width="28.2" height="13.9" fill="#38a4fd" stroke="#b0a8a0" stroke-width=".5"/>
<text x="56.7" y="279.9" font-size="10.4" lengthAdjust="spacingAndGlyphs" textLength="57.1">−0.15 − 0.14</text>
<rect x="23.6" y="288.2" width="28.2" height="13.9" fill="#00ffff" stroke="#b0a8a0" stroke-width=".5"/>
<text x="56.7" y="299" font-size="10.4" lengthAdjust="spacingAndGlyphs" textLength="50.1">0.15 − 0.41</text>
<rect x="23.6" y="307.3" width="28.2" height="13.9" fill="#96ffb4" stroke="#b0a8a0" stroke-width=".5"/>
<text x="56.7" y="318.1" font-size="10.4" lengthAdjust="spacingAndGlyphs" textLength="50.6">0.42 − 0.72</text>
<rect x="126.4" y="230.9" width="28.4" height="13.9" fill="#ccff66" stroke="#b0a8a0" stroke-width=".5"/>
<text x="160" y="241.7" font-size="10.4" lengthAdjust="spacingAndGlyphs" textLength="51.1">0.73 − 1.08</text>
<rect x="126.4" y="250" width="28.4" height="13.9" fill="#ffff00" stroke="#b0a8a0" stroke-width=".5"/>
<text x="160" y="260.8" font-size="10.4" lengthAdjust="spacingAndGlyphs" textLength="51.1">1.09 − 1.46</text>
<rect x="126.4" y="269.1" width="28.4" height="13.9" fill="#ffb400" stroke="#b0a8a0" stroke-width=".5"/>
<text x="160" y="279.9" font-size="10.4" lengthAdjust="spacingAndGlyphs" textLength="51.1">1.47 − 1.85</text>
<rect x="126.4" y="288.2" width="28.4" height="13.9" fill="#ff6f00" stroke="#b0a8a0" stroke-width=".5"/>
<text x="160" y="299" font-size="10.4" lengthAdjust="spacingAndGlyphs" textLength="51.1">1.86 − 2.28</text>
<rect x="126.4" y="307.3" width="28.4" height="13.9" fill="#ff0000" stroke="#b0a8a0" stroke-width=".5"/>
<text x="160" y="318.1" font-size="10.4" lengthAdjust="spacingAndGlyphs" textLength="51.1">2.29 − 3.24</text>
<rect x="21.4" y="326.4" width="18.4" height="8.6" fill="#fff" stroke="#555" stroke-width=".7"/>
<text x="42.9" y="333.9" font-size="10.4" lengthAdjust="spacingAndGlyphs" textLength="88.3">National boundaries</text>
<rect x="141.2" y="326.4" width="18.4" height="8.6" fill="url(#hatch)" stroke="#555" stroke-width=".7"/>
<text x="163.5" y="333.9" font-size="10.4" lengthAdjust="spacingAndGlyphs" textLength="74.1">Background area</text>
<rect x="288.9" y="335.2" width="82.8" height="4.3" fill="#fff" stroke="#000" stroke-width=".7"/>
<rect x="288.9" y="335.2" width="41.4" height="4.3" fill="#000"/>
<text x="287" y="331.2" font-size="9.8">0</text>
<text x="323" y="331.2" font-size="9.8" textLength="14.8">750</text>
<text x="360.9" y="331.2" font-size="9.8" textLength="35.1">1500 km</text>
<text x="400" y="27.8" font-size="6.4" fill="#000" style="fill:#000;font-family:'Liberation Sans','DejaVu Sans',sans-serif" text-anchor="middle">N</text>
<path d="M400.5 30.3L395.3 44.9L400.5 40z" fill="#000"/>
<path d="M400.5 30.3L404.8 44.9L400.5 40z" fill="none" stroke="#000" stroke-width=".6"/>
<path d="M243.1 259.3q2 2 2.6 4.8M249.2 283.7l-.6 4.4M237.3 315q-.6 2.4-.4 4.8M258.8 336.1l5.7-2.5M281.4 313l4.3-3.4M300.1 290l2.5-5.7M302.6 260.3v6.1M305.2 247.2l3.5-5.2M315.4 230.5l4.4-4.2M323.7 214.2l1.3-6.7M329.8 199.8l1.5-1M288.4 231.1h1.1M305.3 213.4l.9 1.4M317 219l.6 1.6M318.5 222.5l-.6 1.3M256.8 257.6l1.1-.9M259.3 255.9l1.3.5M261 258.6l.9-.7M262.8 256l.7.9M258.4 259.5l.9.2M260 257.3l.5.6M270.4 262.3l3.2-2.2 3.2-.4-1.8 2.2-3 .9zM288.3 257.2l.6.5M272.5 288.5l1.5 1M274 291.5l2-.8M273 294l1.4 1.2M275.5 296.5l1.6-.6M278.5 290.2l1 1.2M280 293.5l1.5-.4M282.5 296l.8 1.4M284 291l1.2.8M286.5 294.5l1 1.2M289 291.5l1.5-.8M291 289.8l.8 1.3M279 298.6l1.4.6M285 299.5l1.2-.5M276.8 300.8l1 1M282.5 301.8l1.3.4M287.8 298l.9.9M256.8 304.6l4.2-1.6 4.4-1.3M266.5 303.5l2.5 1.4M271 304l2.5.6M246.2 308.3l3.6-1.9M250.5 306l1 2.4M258 306.5l-1 2.5M268.5 306.5l-1.5 3.5M275.5 307l-1 .8M261.7 320.7l1.2 2.6M265 309l1 1.4" fill="none" stroke="#222" stroke-width=".75"/>
<rect x="17.5" y="18" width="395.6" height="328.4" fill="none" stroke="#585858" stroke-width="1"/>
<path d="M67.8 18v2.2M67.8 346.4v-2.2M128.65 18v2.2M128.65 346.4v-2.2M189.5 18v2.2M189.5 346.4v-2.2M250.35 18v2.2M250.35 346.4v-2.2M311.2 18v2.2M311.2 346.4v-2.2M372.05 18v2.2M372.05 346.4v-2.2M17.5 58.3h2.2M413.1 58.3h-2.2M17.5 119.3h2.2M413.1 119.3h-2.2M17.5 180.3h2.2M413.1 180.3h-2.2M17.5 241.3h2.2M413.1 241.3h-2.2M17.5 302.3h2.2M413.1 302.3h-2.2" stroke="#666" stroke-width=".8" fill="none"/>
<text x="67.8" y="13.9" font-size="9.9" text-anchor="middle">80°E</text>
<text x="67.8" y="359.7" font-size="9.9" text-anchor="middle">80°E</text>
<text x="128.65" y="13.9" font-size="9.9" text-anchor="middle">90°E</text>
<text x="128.65" y="359.7" font-size="9.9" text-anchor="middle">90°E</text>
<text x="189.5" y="13.9" font-size="9.9" text-anchor="middle">100°E</text>
<text x="189.5" y="359.7" font-size="9.9" text-anchor="middle">100°E</text>
<text x="250.35" y="13.9" font-size="9.9" text-anchor="middle">110°E</text>
<text x="250.35" y="359.7" font-size="9.9" text-anchor="middle">110°E</text>
<text x="311.2" y="13.9" font-size="9.9" text-anchor="middle">120°E</text>
<text x="311.2" y="359.7" font-size="9.9" text-anchor="middle">120°E</text>
<text x="372.05" y="13.9" font-size="9.9" text-anchor="middle">130°E</text>
<text x="372.05" y="359.7" font-size="9.9" text-anchor="middle">130°E</text>
<text transform="translate(13.6 58.5) rotate(-90)" font-size="10.1" text-anchor="middle">50°N</text>
<text transform="translate(425.7 58.5) rotate(-90)" font-size="10.1" text-anchor="middle">50°N</text>
<text transform="translate(13.6 119.5) rotate(-90)" font-size="10.1" text-anchor="middle">40°N</text>
<text transform="translate(425.7 119.5) rotate(-90)" font-size="10.1" text-anchor="middle">40°N</text>
<text transform="translate(13.6 180.5) rotate(-90)" font-size="10.1" text-anchor="middle">30°N</text>
<text transform="translate(425.7 180.5) rotate(-90)" font-size="10.1" text-anchor="middle">30°N</text>
<text transform="translate(13.6 241.5) rotate(-90)" font-size="10.1" text-anchor="middle">20°N</text>
<text transform="translate(425.7 241.5) rotate(-90)" font-size="10.1" text-anchor="middle">20°N</text>
<text transform="translate(13.6 302.5) rotate(-90)" font-size="10.1" text-anchor="middle">10°N</text>
<text transform="translate(425.7 302.5) rotate(-90)" font-size="10.1" text-anchor="middle">10°N</text>
<text class="cap" font-size="21" x="215.2" y="384.2" text-anchor="middle">(<tspan font-weight="bold">d</tspan>) winter</text>
</g>
</svg></body></html>
